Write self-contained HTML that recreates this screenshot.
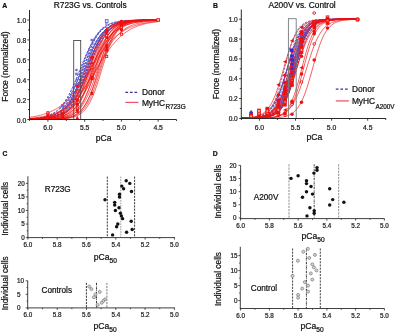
<!DOCTYPE html>
<html><head><meta charset="utf-8"><style>
html,body{margin:0;padding:0;background:#fff;}
svg{display:block;will-change:transform;}
text{font-family:"Liberation Sans", sans-serif;stroke-width:0.22px;}
</style></head><body>
<svg width="400" height="333" viewBox="0 0 400 333">
<rect width="400" height="333" fill="#fff"/>
<g fill="none">
<path d="M29.52,118.87 L30.60,118.80 L31.67,118.72 L32.74,118.64 L33.81,118.54 L34.88,118.43 L35.96,118.31 L37.03,118.18 L38.10,118.03 L39.17,117.87 L40.24,117.68 L41.32,117.48 L42.39,117.26 L43.46,117.01 L44.53,116.74 L45.60,116.43 L46.68,116.10 L47.75,115.73 L48.82,115.32 L49.89,114.86 L50.96,114.36 L52.03,113.82 L53.11,113.21 L54.18,112.55 L55.25,111.82 L56.32,111.02 L57.39,110.15 L58.47,109.20 L59.54,108.17 L60.61,107.04 L61.68,105.82 L62.75,104.50 L63.83,103.08 L64.90,101.56 L65.97,99.92 L67.04,98.18 L68.11,96.32 L69.18,94.36 L70.26,92.28 L71.33,90.11 L72.40,87.84 L73.47,85.47 L74.54,83.03 L75.62,80.51 L76.69,77.94 L77.76,75.31 L78.83,72.66 L79.90,69.99 L80.98,67.32 L82.05,64.66 L83.12,62.04 L84.19,59.45 L85.26,56.92 L86.33,54.46 L87.41,52.09 L88.48,49.80 L89.55,47.60 L90.62,45.51 L91.69,43.53 L92.77,41.65 L93.84,39.89 L94.91,38.23 L95.98,36.69 L97.05,35.25 L98.13,33.91 L99.20,32.67 L100.27,31.53 L101.34,30.48 L102.41,29.51 L103.48,28.63 L104.56,27.82 L105.63,27.08 L106.70,26.40 L107.77,25.79 L108.84,25.23 L109.92,24.72 L110.99,24.26 L112.06,23.85 L113.13,23.47 L114.20,23.12 L115.28,22.82 L116.35,22.54 L117.42,22.28 L118.49,22.06 L119.56,21.85 L120.63,21.66 L121.71,21.50 L122.78,21.35 L123.85,21.21 L124.92,21.09 L125.99,20.98 L127.07,20.88 L128.14,20.79 L129.21,20.71 L130.28,20.64 L131.35,20.57 L132.43,20.52 L133.50,20.46 L134.57,20.42 L135.64,20.37 L136.71,20.34 L137.78,20.30 L138.86,20.27 L139.93,20.24 L141.00,20.22 L142.07,20.20 L143.14,20.18 L144.22,20.16 L145.29,20.14 L146.36,20.13 L147.43,20.12 L148.50,20.10 L149.57,20.09 L150.65,20.08 L151.72,20.07 L152.79,20.07 L153.86,20.06 L154.93,20.05 L156.01,20.05 L157.08,20.04 L158.15,20.04" stroke="#5454c8" stroke-width="0.85" stroke-dasharray="2.2,1.3"/>
<path d="M29.52,119.21 L30.60,119.17 L31.67,119.13 L32.74,119.08 L33.81,119.03 L34.88,118.97 L35.96,118.90 L37.03,118.82 L38.10,118.74 L39.17,118.64 L40.24,118.53 L41.32,118.40 L42.39,118.27 L43.46,118.11 L44.53,117.93 L45.60,117.74 L46.68,117.51 L47.75,117.26 L48.82,116.98 L49.89,116.67 L50.96,116.32 L52.03,115.92 L53.11,115.48 L54.18,114.99 L55.25,114.44 L56.32,113.83 L57.39,113.14 L58.47,112.39 L59.54,111.55 L60.61,110.61 L61.68,109.59 L62.75,108.45 L63.83,107.21 L64.90,105.85 L65.97,104.36 L67.04,102.74 L68.11,100.99 L69.18,99.10 L70.26,97.07 L71.33,94.90 L72.40,92.59 L73.47,90.15 L74.54,87.59 L75.62,84.92 L76.69,82.14 L77.76,79.28 L78.83,76.36 L79.90,73.38 L80.98,70.38 L82.05,67.38 L83.12,64.39 L84.19,61.44 L85.26,58.55 L86.33,55.74 L87.41,53.02 L88.48,50.41 L89.55,47.92 L90.62,45.55 L91.69,43.33 L92.77,41.24 L93.84,39.29 L94.91,37.48 L95.98,35.80 L97.05,34.26 L98.13,32.85 L99.20,31.55 L100.27,30.38 L101.34,29.30 L102.41,28.33 L103.48,27.46 L104.56,26.66 L105.63,25.95 L106.70,25.31 L107.77,24.73 L108.84,24.22 L109.92,23.76 L110.99,23.34 L112.06,22.97 L113.13,22.64 L114.20,22.35 L115.28,22.09 L116.35,21.85 L117.42,21.65 L118.49,21.46 L119.56,21.30 L120.63,21.15 L121.71,21.02 L122.78,20.91 L123.85,20.80 L124.92,20.71 L125.99,20.63 L127.07,20.56 L128.14,20.50 L129.21,20.44 L130.28,20.39 L131.35,20.35 L132.43,20.31 L133.50,20.27 L134.57,20.24 L135.64,20.21 L136.71,20.19 L137.78,20.17 L138.86,20.15 L139.93,20.13 L141.00,20.12 L142.07,20.10 L143.14,20.09 L144.22,20.08 L145.29,20.07 L146.36,20.06 L147.43,20.06 L148.50,20.05 L149.57,20.04 L150.65,20.04 L151.72,20.03 L152.79,20.03 L153.86,20.03 L154.93,20.02 L156.01,20.02 L157.08,20.02 L158.15,20.02" stroke="#5454c8" stroke-width="0.85" stroke-dasharray="2.2,1.3"/>
<path d="M29.52,118.81 L30.60,118.73 L31.67,118.65 L32.74,118.56 L33.81,118.47 L34.88,118.36 L35.96,118.24 L37.03,118.11 L38.10,117.96 L39.17,117.80 L40.24,117.63 L41.32,117.43 L42.39,117.22 L43.46,116.98 L44.53,116.72 L45.60,116.44 L46.68,116.12 L47.75,115.78 L48.82,115.40 L49.89,114.98 L50.96,114.53 L52.03,114.03 L53.11,113.49 L54.18,112.89 L55.25,112.24 L56.32,111.53 L57.39,110.76 L58.47,109.93 L59.54,109.02 L60.61,108.04 L61.68,106.97 L62.75,105.83 L63.83,104.60 L64.90,103.28 L65.97,101.86 L67.04,100.35 L68.11,98.74 L69.18,97.04 L70.26,95.24 L71.33,93.35 L72.40,91.36 L73.47,89.28 L74.54,87.12 L75.62,84.88 L76.69,82.58 L77.76,80.21 L78.83,77.79 L79.90,75.33 L80.98,72.84 L82.05,70.34 L83.12,67.84 L84.19,65.34 L85.26,62.87 L86.33,60.43 L87.41,58.04 L88.48,55.70 L89.55,53.43 L90.62,51.23 L91.69,49.11 L92.77,47.08 L93.84,45.14 L94.91,43.30 L95.98,41.55 L97.05,39.90 L98.13,38.34 L99.20,36.88 L100.27,35.52 L101.34,34.24 L102.41,33.06 L103.48,31.96 L104.56,30.94 L105.63,29.99 L106.70,29.12 L107.77,28.32 L108.84,27.59 L109.92,26.91 L110.99,26.29 L112.06,25.72 L113.13,25.20 L114.20,24.73 L115.28,24.29 L116.35,23.90 L117.42,23.54 L118.49,23.21 L119.56,22.91 L120.63,22.64 L121.71,22.39 L122.78,22.17 L123.85,21.96 L124.92,21.78 L125.99,21.61 L127.07,21.46 L128.14,21.32 L129.21,21.20 L130.28,21.08 L131.35,20.98 L132.43,20.89 L133.50,20.80 L134.57,20.73 L135.64,20.66 L136.71,20.59 L137.78,20.54 L138.86,20.49 L139.93,20.44 L141.00,20.40 L142.07,20.36 L143.14,20.33 L144.22,20.29 L145.29,20.27 L146.36,20.24 L147.43,20.22 L148.50,20.20 L149.57,20.18 L150.65,20.16 L151.72,20.15 L152.79,20.13 L153.86,20.12 L154.93,20.11 L156.01,20.10 L157.08,20.09 L158.15,20.08" stroke="#5454c8" stroke-width="0.85" stroke-dasharray="2.2,1.3"/>
<path d="M29.52,119.33 L30.60,119.31 L31.67,119.28 L32.74,119.25 L33.81,119.22 L34.88,119.18 L35.96,119.13 L37.03,119.08 L38.10,119.03 L39.17,118.96 L40.24,118.89 L41.32,118.81 L42.39,118.72 L43.46,118.61 L44.53,118.49 L45.60,118.35 L46.68,118.20 L47.75,118.03 L48.82,117.83 L49.89,117.60 L50.96,117.35 L52.03,117.07 L53.11,116.75 L54.18,116.38 L55.25,115.97 L56.32,115.51 L57.39,114.99 L58.47,114.41 L59.54,113.76 L60.61,113.03 L61.68,112.21 L62.75,111.30 L63.83,110.29 L64.90,109.17 L65.97,107.92 L67.04,106.55 L68.11,105.05 L69.18,103.40 L70.26,101.60 L71.33,99.65 L72.40,97.55 L73.47,95.28 L74.54,92.87 L75.62,90.31 L76.69,87.61 L77.76,84.78 L78.83,81.85 L79.90,78.82 L80.98,75.72 L82.05,72.57 L83.12,69.40 L84.19,66.23 L85.26,63.09 L86.33,60.00 L87.41,56.99 L88.48,54.08 L89.55,51.28 L90.62,48.61 L91.69,46.08 L92.77,43.70 L93.84,41.47 L94.91,39.40 L95.98,37.49 L97.05,35.72 L98.13,34.11 L99.20,32.63 L100.27,31.29 L101.34,30.07 L102.41,28.98 L103.48,27.99 L104.56,27.10 L105.63,26.30 L106.70,25.59 L107.77,24.95 L108.84,24.39 L109.92,23.88 L110.99,23.43 L112.06,23.03 L113.13,22.68 L114.20,22.37 L115.28,22.09 L116.35,21.84 L117.42,21.63 L118.49,21.43 L119.56,21.26 L120.63,21.11 L121.71,20.98 L122.78,20.87 L123.85,20.76 L124.92,20.67 L125.99,20.59 L127.07,20.52 L128.14,20.46 L129.21,20.40 L130.28,20.36 L131.35,20.31 L132.43,20.28 L133.50,20.24 L134.57,20.21 L135.64,20.19 L136.71,20.17 L137.78,20.15 L138.86,20.13 L139.93,20.11 L141.00,20.10 L142.07,20.09 L143.14,20.08 L144.22,20.07 L145.29,20.06 L146.36,20.05 L147.43,20.05 L148.50,20.04 L149.57,20.04 L150.65,20.03 L151.72,20.03 L152.79,20.02 L153.86,20.02 L154.93,20.02 L156.01,20.02 L157.08,20.01 L158.15,20.01" stroke="#5454c8" stroke-width="0.85" stroke-dasharray="2.2,1.3"/>
<path d="M29.52,119.15 L30.60,119.11 L31.67,119.06 L32.74,119.01 L33.81,118.95 L34.88,118.89 L35.96,118.82 L37.03,118.74 L38.10,118.65 L39.17,118.55 L40.24,118.44 L41.32,118.32 L42.39,118.18 L43.46,118.03 L44.53,117.86 L45.60,117.67 L46.68,117.47 L47.75,117.23 L48.82,116.97 L49.89,116.69 L50.96,116.37 L52.03,116.01 L53.11,115.62 L54.18,115.18 L55.25,114.70 L56.32,114.17 L57.39,113.58 L58.47,112.93 L59.54,112.22 L60.61,111.44 L61.68,110.58 L62.75,109.64 L63.83,108.61 L64.90,107.48 L65.97,106.26 L67.04,104.94 L68.11,103.51 L69.18,101.96 L70.26,100.31 L71.33,98.53 L72.40,96.64 L73.47,94.63 L74.54,92.50 L75.62,90.27 L76.69,87.93 L77.76,85.50 L78.83,82.97 L79.90,80.38 L80.98,77.72 L82.05,75.01 L83.12,72.27 L84.19,69.52 L85.26,66.76 L86.33,64.03 L87.41,61.33 L88.48,58.68 L89.55,56.09 L90.62,53.59 L91.69,51.17 L92.77,48.85 L93.84,46.63 L94.91,44.52 L95.98,42.53 L97.05,40.66 L98.13,38.91 L99.20,37.27 L100.27,35.74 L101.34,34.33 L102.41,33.02 L103.48,31.82 L104.56,30.71 L105.63,29.70 L106.70,28.77 L107.77,27.92 L108.84,27.15 L109.92,26.45 L110.99,25.81 L112.06,25.24 L113.13,24.71 L114.20,24.24 L115.28,23.81 L116.35,23.43 L117.42,23.08 L118.49,22.76 L119.56,22.48 L120.63,22.23 L121.71,22.00 L122.78,21.79 L123.85,21.61 L124.92,21.44 L125.99,21.29 L127.07,21.16 L128.14,21.04 L129.21,20.93 L130.28,20.83 L131.35,20.75 L132.43,20.67 L133.50,20.60 L134.57,20.54 L135.64,20.48 L136.71,20.43 L137.78,20.39 L138.86,20.35 L139.93,20.31 L141.00,20.28 L142.07,20.25 L143.14,20.22 L144.22,20.20 L145.29,20.18 L146.36,20.16 L147.43,20.14 L148.50,20.13 L149.57,20.11 L150.65,20.10 L151.72,20.09 L152.79,20.08 L153.86,20.07 L154.93,20.07 L156.01,20.06 L157.08,20.05 L158.15,20.05" stroke="#5454c8" stroke-width="0.85" stroke-dasharray="2.2,1.3"/>
<path d="M29.52,119.27 L30.60,119.25 L31.67,119.21 L32.74,119.18 L33.81,119.14 L34.88,119.09 L35.96,119.04 L37.03,118.99 L38.10,118.92 L39.17,118.85 L40.24,118.77 L41.32,118.68 L42.39,118.58 L43.46,118.46 L44.53,118.34 L45.60,118.19 L46.68,118.03 L47.75,117.85 L48.82,117.65 L49.89,117.43 L50.96,117.17 L52.03,116.89 L53.11,116.58 L54.18,116.22 L55.25,115.83 L56.32,115.39 L57.39,114.90 L58.47,114.36 L59.54,113.75 L60.61,113.08 L61.68,112.34 L62.75,111.52 L63.83,110.61 L64.90,109.61 L65.97,108.52 L67.04,107.31 L68.11,106.00 L69.18,104.57 L70.26,103.02 L71.33,101.33 L72.40,99.52 L73.47,97.58 L74.54,95.51 L75.62,93.30 L76.69,90.97 L77.76,88.52 L78.83,85.96 L79.90,83.30 L80.98,80.55 L82.05,77.73 L83.12,74.86 L84.19,71.96 L85.26,69.03 L86.33,66.12 L87.41,63.22 L88.48,60.38 L89.55,57.59 L90.62,54.88 L91.69,52.27 L92.77,49.76 L93.84,47.37 L94.91,45.10 L95.98,42.96 L97.05,40.95 L98.13,39.07 L99.20,37.33 L100.27,35.71 L101.34,34.22 L102.41,32.84 L103.48,31.58 L104.56,30.43 L105.63,29.39 L106.70,28.43 L107.77,27.57 L108.84,26.79 L109.92,26.08 L110.99,25.44 L112.06,24.87 L113.13,24.35 L114.20,23.89 L115.28,23.47 L116.35,23.10 L117.42,22.77 L118.49,22.47 L119.56,22.20 L120.63,21.96 L121.71,21.75 L122.78,21.56 L123.85,21.39 L124.92,21.23 L125.99,21.10 L127.07,20.98 L128.14,20.87 L129.21,20.77 L130.28,20.69 L131.35,20.61 L132.43,20.55 L133.50,20.49 L134.57,20.43 L135.64,20.38 L136.71,20.34 L137.78,20.30 L138.86,20.27 L139.93,20.24 L141.00,20.21 L142.07,20.19 L143.14,20.17 L144.22,20.15 L145.29,20.13 L146.36,20.12 L147.43,20.11 L148.50,20.09 L149.57,20.08 L150.65,20.07 L151.72,20.07 L152.79,20.06 L153.86,20.05 L154.93,20.05 L156.01,20.04 L157.08,20.04 L158.15,20.03" stroke="#5454c8" stroke-width="0.85" stroke-dasharray="2.2,1.3"/>
<path d="M29.52,119.10 L30.60,119.05 L31.67,119.00 L32.74,118.95 L33.81,118.89 L34.88,118.82 L35.96,118.75 L37.03,118.67 L38.10,118.58 L39.17,118.48 L40.24,118.37 L41.32,118.24 L42.39,118.11 L43.46,117.96 L44.53,117.79 L45.60,117.61 L46.68,117.40 L47.75,117.18 L48.82,116.93 L49.89,116.66 L50.96,116.35 L52.03,116.02 L53.11,115.65 L54.18,115.25 L55.25,114.81 L56.32,114.32 L57.39,113.78 L58.47,113.20 L59.54,112.55 L60.61,111.85 L61.68,111.08 L62.75,110.24 L63.83,109.33 L64.90,108.34 L65.97,107.27 L67.04,106.10 L68.11,104.85 L69.18,103.50 L70.26,102.06 L71.33,100.51 L72.40,98.86 L73.47,97.10 L74.54,95.24 L75.62,93.28 L76.69,91.22 L77.76,89.07 L78.83,86.83 L79.90,84.50 L80.98,82.11 L82.05,79.65 L83.12,77.14 L84.19,74.59 L85.26,72.01 L86.33,69.43 L87.41,66.84 L88.48,64.27 L89.55,61.73 L90.62,59.23 L91.69,56.78 L92.77,54.41 L93.84,52.10 L94.91,49.88 L95.98,47.75 L97.05,45.72 L98.13,43.78 L99.20,41.95 L100.27,40.22 L101.34,38.59 L102.41,37.07 L103.48,35.65 L104.56,34.33 L105.63,33.10 L106.70,31.96 L107.77,30.90 L108.84,29.93 L109.92,29.04 L110.99,28.22 L112.06,27.47 L113.13,26.78 L114.20,26.15 L115.28,25.58 L116.35,25.05 L117.42,24.58 L118.49,24.14 L119.56,23.75 L120.63,23.39 L121.71,23.07 L122.78,22.77 L123.85,22.50 L124.92,22.26 L125.99,22.04 L127.07,21.85 L128.14,21.67 L129.21,21.50 L130.28,21.36 L131.35,21.22 L132.43,21.10 L133.50,21.00 L134.57,20.90 L135.64,20.81 L136.71,20.73 L137.78,20.66 L138.86,20.59 L139.93,20.54 L141.00,20.48 L142.07,20.44 L143.14,20.39 L144.22,20.35 L145.29,20.32 L146.36,20.29 L147.43,20.26 L148.50,20.23 L149.57,20.21 L150.65,20.19 L151.72,20.17 L152.79,20.15 L153.86,20.14 L154.93,20.13 L156.01,20.11 L157.08,20.10 L158.15,20.09" stroke="#5454c8" stroke-width="0.85" stroke-dasharray="2.2,1.3"/>
<path d="M29.52,119.37 L30.60,119.36 L31.67,119.34 L32.74,119.32 L33.81,119.29 L34.88,119.27 L35.96,119.24 L37.03,119.20 L38.10,119.16 L39.17,119.12 L40.24,119.07 L41.32,119.01 L42.39,118.94 L43.46,118.87 L44.53,118.79 L45.60,118.70 L46.68,118.59 L47.75,118.47 L48.82,118.34 L49.89,118.19 L50.96,118.01 L52.03,117.82 L53.11,117.60 L54.18,117.36 L55.25,117.08 L56.32,116.77 L57.39,116.42 L58.47,116.03 L59.54,115.58 L60.61,115.09 L61.68,114.53 L62.75,113.91 L63.83,113.22 L64.90,112.45 L65.97,111.59 L67.04,110.64 L68.11,109.58 L69.18,108.42 L70.26,107.13 L71.33,105.72 L72.40,104.18 L73.47,102.50 L74.54,100.68 L75.62,98.71 L76.69,96.59 L77.76,94.33 L78.83,91.92 L79.90,89.38 L80.98,86.70 L82.05,83.92 L83.12,81.03 L84.19,78.06 L85.26,75.03 L86.33,71.96 L87.41,68.87 L88.48,65.78 L89.55,62.73 L90.62,59.73 L91.69,56.81 L92.77,53.98 L93.84,51.25 L94.91,48.65 L95.98,46.19 L97.05,43.86 L98.13,41.68 L99.20,39.65 L100.27,37.76 L101.34,36.02 L102.41,34.42 L103.48,32.96 L104.56,31.62 L105.63,30.40 L106.70,29.30 L107.77,28.31 L108.84,27.41 L109.92,26.60 L110.99,25.87 L112.06,25.22 L113.13,24.64 L114.20,24.12 L115.28,23.66 L116.35,23.24 L117.42,22.88 L118.49,22.55 L119.56,22.26 L120.63,22.00 L121.71,21.77 L122.78,21.57 L123.85,21.39 L124.92,21.23 L125.99,21.08 L127.07,20.96 L128.14,20.85 L129.21,20.75 L130.28,20.66 L131.35,20.59 L132.43,20.52 L133.50,20.46 L134.57,20.40 L135.64,20.36 L136.71,20.32 L137.78,20.28 L138.86,20.25 L139.93,20.22 L141.00,20.19 L142.07,20.17 L143.14,20.15 L144.22,20.13 L145.29,20.12 L146.36,20.10 L147.43,20.09 L148.50,20.08 L149.57,20.07 L150.65,20.06 L151.72,20.06 L152.79,20.05 L153.86,20.04 L154.93,20.04 L156.01,20.03 L157.08,20.03 L158.15,20.03" stroke="#5454c8" stroke-width="0.85" stroke-dasharray="2.2,1.3"/>
<path d="M29.52,119.31 L30.60,119.29 L31.67,119.26 L32.74,119.23 L33.81,119.20 L34.88,119.16 L35.96,119.12 L37.03,119.07 L38.10,119.02 L39.17,118.97 L40.24,118.90 L41.32,118.83 L42.39,118.75 L43.46,118.66 L44.53,118.56 L45.60,118.45 L46.68,118.32 L47.75,118.18 L48.82,118.02 L49.89,117.85 L50.96,117.65 L52.03,117.43 L53.11,117.19 L54.18,116.91 L55.25,116.61 L56.32,116.27 L57.39,115.90 L58.47,115.48 L59.54,115.01 L60.61,114.50 L61.68,113.93 L62.75,113.30 L63.83,112.60 L64.90,111.83 L65.97,110.98 L67.04,110.05 L68.11,109.02 L69.18,107.90 L70.26,106.68 L71.33,105.35 L72.40,103.91 L73.47,102.35 L74.54,100.66 L75.62,98.86 L76.69,96.93 L77.76,94.88 L78.83,92.70 L79.90,90.41 L80.98,88.00 L82.05,85.49 L83.12,82.89 L84.19,80.21 L85.26,77.47 L86.33,74.68 L87.41,71.85 L88.48,69.01 L89.55,66.18 L90.62,63.37 L91.69,60.60 L92.77,57.89 L93.84,55.25 L94.91,52.69 L95.98,50.24 L97.05,47.89 L98.13,45.66 L99.20,43.54 L100.27,41.55 L101.34,39.69 L102.41,37.95 L103.48,36.33 L104.56,34.83 L105.63,33.45 L106.70,32.17 L107.77,31.00 L108.84,29.94 L109.92,28.96 L110.99,28.07 L112.06,27.26 L113.13,26.53 L114.20,25.87 L115.28,25.27 L116.35,24.73 L117.42,24.24 L118.49,23.80 L119.56,23.40 L120.63,23.05 L121.71,22.73 L122.78,22.44 L123.85,22.18 L124.92,21.95 L125.99,21.75 L127.07,21.56 L128.14,21.39 L129.21,21.25 L130.28,21.11 L131.35,20.99 L132.43,20.89 L133.50,20.79 L134.57,20.71 L135.64,20.63 L136.71,20.56 L137.78,20.50 L138.86,20.45 L139.93,20.40 L141.00,20.36 L142.07,20.32 L143.14,20.29 L144.22,20.25 L145.29,20.23 L146.36,20.20 L147.43,20.18 L148.50,20.16 L149.57,20.14 L150.65,20.13 L151.72,20.11 L152.79,20.10 L153.86,20.09 L154.93,20.08 L156.01,20.07 L157.08,20.06 L158.15,20.06" stroke="#5454c8" stroke-width="0.85" stroke-dasharray="2.2,1.3"/>
<path d="M29.52,118.97 L30.60,118.92 L31.67,118.85 L32.74,118.79 L33.81,118.71 L34.88,118.63 L35.96,118.54 L37.03,118.44 L38.10,118.32 L39.17,118.20 L40.24,118.07 L41.32,117.92 L42.39,117.75 L43.46,117.57 L44.53,117.37 L45.60,117.15 L46.68,116.91 L47.75,116.64 L48.82,116.35 L49.89,116.02 L50.96,115.67 L52.03,115.28 L53.11,114.85 L54.18,114.39 L55.25,113.88 L56.32,113.32 L57.39,112.71 L58.47,112.04 L59.54,111.31 L60.61,110.52 L61.68,109.67 L62.75,108.74 L63.83,107.73 L64.90,106.65 L65.97,105.48 L67.04,104.22 L68.11,102.87 L69.18,101.43 L70.26,99.89 L71.33,98.25 L72.40,96.52 L73.47,94.69 L74.54,92.77 L75.62,90.76 L76.69,88.65 L77.76,86.47 L78.83,84.21 L79.90,81.88 L80.98,79.50 L82.05,77.07 L83.12,74.60 L84.19,72.11 L85.26,69.60 L86.33,67.10 L87.41,64.61 L88.48,62.15 L89.55,59.72 L90.62,57.34 L91.69,55.02 L92.77,52.77 L93.84,50.60 L94.91,48.51 L95.98,46.50 L97.05,44.59 L98.13,42.77 L99.20,41.05 L100.27,39.43 L101.34,37.90 L102.41,36.47 L103.48,35.13 L104.56,33.88 L105.63,32.72 L106.70,31.65 L107.77,30.65 L108.84,29.73 L109.92,28.88 L110.99,28.10 L112.06,27.38 L113.13,26.72 L114.20,26.12 L115.28,25.56 L116.35,25.06 L117.42,24.59 L118.49,24.17 L119.56,23.79 L120.63,23.44 L121.71,23.12 L122.78,22.83 L123.85,22.56 L124.92,22.32 L125.99,22.11 L127.07,21.91 L128.14,21.73 L129.21,21.57 L130.28,21.42 L131.35,21.28 L132.43,21.16 L133.50,21.05 L134.57,20.95 L135.64,20.86 L136.71,20.78 L137.78,20.71 L138.86,20.64 L139.93,20.58 L141.00,20.52 L142.07,20.47 L143.14,20.43 L144.22,20.39 L145.29,20.35 L146.36,20.32 L147.43,20.29 L148.50,20.26 L149.57,20.23 L150.65,20.21 L151.72,20.19 L152.79,20.17 L153.86,20.16 L154.93,20.14 L156.01,20.13 L157.08,20.12 L158.15,20.10" stroke="#f01010" stroke-width="0.75" opacity="0.85"/>
<path d="M29.52,119.27 L30.60,119.24 L31.67,119.21 L32.74,119.17 L33.81,119.13 L34.88,119.09 L35.96,119.04 L37.03,118.99 L38.10,118.92 L39.17,118.85 L40.24,118.78 L41.32,118.69 L42.39,118.59 L43.46,118.48 L44.53,118.36 L45.60,118.23 L46.68,118.07 L47.75,117.90 L48.82,117.72 L49.89,117.50 L50.96,117.27 L52.03,117.00 L53.11,116.71 L54.18,116.38 L55.25,116.02 L56.32,115.62 L57.39,115.17 L58.47,114.67 L59.54,114.12 L60.61,113.50 L61.68,112.83 L62.75,112.08 L63.83,111.26 L64.90,110.35 L65.97,109.36 L67.04,108.27 L68.11,107.08 L69.18,105.79 L70.26,104.38 L71.33,102.86 L72.40,101.22 L73.47,99.45 L74.54,97.56 L75.62,95.55 L76.69,93.41 L77.76,91.15 L78.83,88.78 L79.90,86.31 L80.98,83.74 L82.05,81.08 L83.12,78.36 L84.19,75.58 L85.26,72.76 L86.33,69.92 L87.41,67.09 L88.48,64.27 L89.55,61.48 L90.62,58.75 L91.69,56.08 L92.77,53.50 L93.84,51.01 L94.91,48.63 L95.98,46.36 L97.05,44.21 L98.13,42.18 L99.20,40.27 L100.27,38.49 L101.34,36.83 L102.41,35.30 L103.48,33.88 L104.56,32.57 L105.63,31.37 L106.70,30.27 L107.77,29.26 L108.84,28.35 L109.92,27.51 L110.99,26.76 L112.06,26.07 L113.13,25.45 L114.20,24.90 L115.28,24.39 L116.35,23.94 L117.42,23.53 L118.49,23.16 L119.56,22.83 L120.63,22.53 L121.71,22.26 L122.78,22.02 L123.85,21.81 L124.92,21.62 L125.99,21.45 L127.07,21.29 L128.14,21.15 L129.21,21.03 L130.28,20.92 L131.35,20.82 L132.43,20.73 L133.50,20.66 L134.57,20.58 L135.64,20.52 L136.71,20.47 L137.78,20.42 L138.86,20.37 L139.93,20.33 L141.00,20.30 L142.07,20.26 L143.14,20.24 L144.22,20.21 L145.29,20.19 L146.36,20.17 L147.43,20.15 L148.50,20.13 L149.57,20.12 L150.65,20.11 L151.72,20.09 L152.79,20.08 L153.86,20.08 L154.93,20.07 L156.01,20.06 L157.08,20.05 L158.15,20.05" stroke="#f01010" stroke-width="0.75" opacity="0.85"/>
<path d="M29.52,119.40 L30.60,119.39 L31.67,119.37 L32.74,119.35 L33.81,119.33 L34.88,119.31 L35.96,119.29 L37.03,119.26 L38.10,119.22 L39.17,119.19 L40.24,119.14 L41.32,119.09 L42.39,119.04 L43.46,118.98 L44.53,118.91 L45.60,118.83 L46.68,118.73 L47.75,118.63 L48.82,118.51 L49.89,118.38 L50.96,118.23 L52.03,118.06 L53.11,117.87 L54.18,117.65 L55.25,117.40 L56.32,117.13 L57.39,116.81 L58.47,116.46 L59.54,116.06 L60.61,115.61 L61.68,115.10 L62.75,114.53 L63.83,113.89 L64.90,113.18 L65.97,112.38 L67.04,111.49 L68.11,110.50 L69.18,109.40 L70.26,108.18 L71.33,106.84 L72.40,105.36 L73.47,103.74 L74.54,101.97 L75.62,100.05 L76.69,97.98 L77.76,95.74 L78.83,93.36 L79.90,90.83 L80.98,88.16 L82.05,85.35 L83.12,82.44 L84.19,79.43 L85.26,76.34 L86.33,73.20 L87.41,70.03 L88.48,66.86 L89.55,63.71 L90.62,60.61 L91.69,57.58 L92.77,54.65 L93.84,51.83 L94.91,49.13 L95.98,46.57 L97.05,44.16 L98.13,41.90 L99.20,39.80 L100.27,37.86 L101.34,36.06 L102.41,34.42 L103.48,32.91 L104.56,31.55 L105.63,30.31 L106.70,29.19 L107.77,28.18 L108.84,27.27 L109.92,26.45 L110.99,25.72 L112.06,25.07 L113.13,24.49 L114.20,23.98 L115.28,23.52 L116.35,23.11 L117.42,22.75 L118.49,22.43 L119.56,22.14 L120.63,21.89 L121.71,21.67 L122.78,21.47 L123.85,21.30 L124.92,21.14 L125.99,21.01 L127.07,20.89 L128.14,20.78 L129.21,20.69 L130.28,20.61 L131.35,20.53 L132.43,20.47 L133.50,20.41 L134.57,20.37 L135.64,20.32 L136.71,20.28 L137.78,20.25 L138.86,20.22 L139.93,20.19 L141.00,20.17 L142.07,20.15 L143.14,20.13 L144.22,20.12 L145.29,20.10 L146.36,20.09 L147.43,20.08 L148.50,20.07 L149.57,20.06 L150.65,20.05 L151.72,20.05 L152.79,20.04 L153.86,20.04 L154.93,20.03 L156.01,20.03 L157.08,20.03 L158.15,20.02" stroke="#f01010" stroke-width="0.75" opacity="0.85"/>
<path d="M29.52,119.23 L30.60,119.20 L31.67,119.16 L32.74,119.12 L33.81,119.08 L34.88,119.03 L35.96,118.98 L37.03,118.92 L38.10,118.86 L39.17,118.78 L40.24,118.70 L41.32,118.61 L42.39,118.51 L43.46,118.40 L44.53,118.28 L45.60,118.14 L46.68,117.99 L47.75,117.82 L48.82,117.63 L49.89,117.43 L50.96,117.20 L52.03,116.94 L53.11,116.66 L54.18,116.35 L55.25,116.01 L56.32,115.62 L57.39,115.20 L58.47,114.74 L59.54,114.23 L60.61,113.67 L61.68,113.05 L62.75,112.37 L63.83,111.62 L64.90,110.81 L65.97,109.92 L67.04,108.94 L68.11,107.89 L69.18,106.74 L70.26,105.49 L71.33,104.15 L72.40,102.70 L73.47,101.15 L74.54,99.48 L75.62,97.71 L76.69,95.83 L77.76,93.83 L78.83,91.74 L79.90,89.53 L80.98,87.24 L82.05,84.85 L83.12,82.39 L84.19,79.85 L85.26,77.27 L86.33,74.64 L87.41,71.98 L88.48,69.31 L89.55,66.64 L90.62,63.99 L91.69,61.37 L92.77,58.80 L93.84,56.29 L94.91,53.85 L95.98,51.49 L97.05,49.22 L98.13,47.06 L99.20,44.99 L100.27,43.03 L101.34,41.19 L102.41,39.45 L103.48,37.82 L104.56,36.31 L105.63,34.89 L106.70,33.58 L107.77,32.37 L108.84,31.25 L109.92,30.22 L110.99,29.28 L112.06,28.41 L113.13,27.62 L114.20,26.90 L115.28,26.24 L116.35,25.64 L117.42,25.10 L118.49,24.60 L119.56,24.15 L120.63,23.74 L121.71,23.38 L122.78,23.04 L123.85,22.74 L124.92,22.47 L125.99,22.22 L127.07,22.00 L128.14,21.80 L129.21,21.62 L130.28,21.46 L131.35,21.31 L132.43,21.18 L133.50,21.06 L134.57,20.95 L135.64,20.86 L136.71,20.77 L137.78,20.69 L138.86,20.62 L139.93,20.56 L141.00,20.50 L142.07,20.45 L143.14,20.41 L144.22,20.36 L145.29,20.33 L146.36,20.29 L147.43,20.26 L148.50,20.24 L149.57,20.21 L150.65,20.19 L151.72,20.17 L152.79,20.15 L153.86,20.14 L154.93,20.12 L156.01,20.11 L157.08,20.10 L158.15,20.09" stroke="#f01010" stroke-width="0.75" opacity="0.85"/>
<path d="M29.52,119.44 L30.60,119.43 L31.67,119.42 L32.74,119.41 L33.81,119.40 L34.88,119.39 L35.96,119.37 L37.03,119.35 L38.10,119.33 L39.17,119.31 L40.24,119.28 L41.32,119.25 L42.39,119.21 L43.46,119.17 L44.53,119.12 L45.60,119.07 L46.68,119.01 L47.75,118.94 L48.82,118.86 L49.89,118.77 L50.96,118.66 L52.03,118.54 L53.11,118.40 L54.18,118.25 L55.25,118.07 L56.32,117.87 L57.39,117.64 L58.47,117.38 L59.54,117.08 L60.61,116.74 L61.68,116.36 L62.75,115.92 L63.83,115.43 L64.90,114.87 L65.97,114.24 L67.04,113.53 L68.11,112.73 L69.18,111.83 L70.26,110.83 L71.33,109.70 L72.40,108.45 L73.47,107.06 L74.54,105.52 L75.62,103.83 L76.69,101.98 L77.76,99.95 L78.83,97.76 L79.90,95.39 L80.98,92.85 L82.05,90.15 L83.12,87.30 L84.19,84.30 L85.26,81.19 L86.33,77.98 L87.41,74.70 L88.48,71.38 L89.55,68.04 L90.62,64.71 L91.69,61.43 L92.77,58.23 L93.84,55.12 L94.91,52.13 L95.98,49.28 L97.05,46.58 L98.13,44.05 L99.20,41.68 L100.27,39.49 L101.34,37.47 L102.41,35.62 L103.48,33.93 L104.56,32.40 L105.63,31.01 L106.70,29.77 L107.77,28.64 L108.84,27.64 L109.92,26.75 L110.99,25.95 L112.06,25.24 L113.13,24.61 L114.20,24.06 L115.28,23.56 L116.35,23.13 L117.42,22.75 L118.49,22.41 L119.56,22.11 L120.63,21.85 L121.71,21.62 L122.78,21.42 L123.85,21.25 L124.92,21.09 L125.99,20.96 L127.07,20.84 L128.14,20.73 L129.21,20.64 L130.28,20.56 L131.35,20.49 L132.43,20.43 L133.50,20.38 L134.57,20.33 L135.64,20.29 L136.71,20.25 L137.78,20.22 L138.86,20.19 L139.93,20.17 L141.00,20.15 L142.07,20.13 L143.14,20.11 L144.22,20.10 L145.29,20.09 L146.36,20.08 L147.43,20.07 L148.50,20.06 L149.57,20.05 L150.65,20.04 L151.72,20.04 L152.79,20.03 L153.86,20.03 L154.93,20.03 L156.01,20.02 L157.08,20.02 L158.15,20.02" stroke="#f01010" stroke-width="0.75" opacity="0.85"/>
<path d="M29.52,119.37 L30.60,119.35 L31.67,119.33 L32.74,119.31 L33.81,119.29 L34.88,119.26 L35.96,119.23 L37.03,119.20 L38.10,119.16 L39.17,119.12 L40.24,119.07 L41.32,119.01 L42.39,118.95 L43.46,118.89 L44.53,118.81 L45.60,118.72 L46.68,118.63 L47.75,118.52 L48.82,118.40 L49.89,118.26 L50.96,118.11 L52.03,117.94 L53.11,117.75 L54.18,117.54 L55.25,117.30 L56.32,117.03 L57.39,116.73 L58.47,116.40 L59.54,116.02 L60.61,115.61 L61.68,115.14 L62.75,114.62 L63.83,114.05 L64.90,113.41 L65.97,112.70 L67.04,111.92 L68.11,111.06 L69.18,110.10 L70.26,109.05 L71.33,107.90 L72.40,106.64 L73.47,105.27 L74.54,103.77 L75.62,102.15 L76.69,100.41 L77.76,98.53 L78.83,96.52 L79.90,94.37 L80.98,92.10 L82.05,89.71 L83.12,87.20 L84.19,84.58 L85.26,81.88 L86.33,79.09 L87.41,76.24 L88.48,73.35 L89.55,70.43 L90.62,67.51 L91.69,64.60 L92.77,61.73 L93.84,58.91 L94.91,56.17 L95.98,53.51 L97.05,50.95 L98.13,48.50 L99.20,46.17 L100.27,43.97 L101.34,41.89 L102.41,39.95 L103.48,38.14 L104.56,36.47 L105.63,34.91 L106.70,33.48 L107.77,32.17 L108.84,30.97 L109.92,29.88 L110.99,28.88 L112.06,27.97 L113.13,27.15 L114.20,26.41 L115.28,25.74 L116.35,25.14 L117.42,24.59 L118.49,24.10 L119.56,23.67 L120.63,23.27 L121.71,22.92 L122.78,22.61 L123.85,22.32 L124.92,22.07 L125.99,21.85 L127.07,21.64 L128.14,21.46 L129.21,21.30 L130.28,21.16 L131.35,21.03 L132.43,20.92 L133.50,20.82 L134.57,20.73 L135.64,20.65 L136.71,20.58 L137.78,20.51 L138.86,20.46 L139.93,20.41 L141.00,20.36 L142.07,20.32 L143.14,20.29 L144.22,20.25 L145.29,20.23 L146.36,20.20 L147.43,20.18 L148.50,20.16 L149.57,20.14 L150.65,20.13 L151.72,20.11 L152.79,20.10 L153.86,20.09 L154.93,20.08 L156.01,20.07 L157.08,20.06 L158.15,20.06" stroke="#f01010" stroke-width="0.75" opacity="0.85"/>
<path d="M29.52,118.93 L30.60,118.88 L31.67,118.82 L32.74,118.75 L33.81,118.68 L34.88,118.61 L35.96,118.52 L37.03,118.43 L38.10,118.33 L39.17,118.22 L40.24,118.10 L41.32,117.97 L42.39,117.83 L43.46,117.67 L44.53,117.50 L45.60,117.32 L46.68,117.12 L47.75,116.90 L48.82,116.66 L49.89,116.39 L50.96,116.11 L52.03,115.80 L53.11,115.46 L54.18,115.10 L55.25,114.70 L56.32,114.27 L57.39,113.80 L58.47,113.29 L59.54,112.74 L60.61,112.15 L61.68,111.51 L62.75,110.81 L63.83,110.07 L64.90,109.26 L65.97,108.40 L67.04,107.47 L68.11,106.48 L69.18,105.42 L70.26,104.29 L71.33,103.08 L72.40,101.80 L73.47,100.45 L74.54,99.01 L75.62,97.50 L76.69,95.90 L77.76,94.23 L78.83,92.49 L79.90,90.66 L80.98,88.77 L82.05,86.81 L83.12,84.79 L84.19,82.72 L85.26,80.59 L86.33,78.43 L87.41,76.22 L88.48,73.99 L89.55,71.75 L90.62,69.49 L91.69,67.24 L92.77,65.00 L93.84,62.77 L94.91,60.58 L95.98,58.42 L97.05,56.30 L98.13,54.24 L99.20,52.23 L100.27,50.29 L101.34,48.42 L102.41,46.61 L103.48,44.88 L104.56,43.23 L105.63,41.65 L106.70,40.16 L107.77,38.74 L108.84,37.40 L109.92,36.13 L110.99,34.95 L112.06,33.83 L113.13,32.79 L114.20,31.81 L115.28,30.90 L116.35,30.05 L117.42,29.26 L118.49,28.53 L119.56,27.84 L120.63,27.21 L121.71,26.63 L122.78,26.09 L123.85,25.59 L124.92,25.13 L125.99,24.71 L127.07,24.32 L128.14,23.96 L129.21,23.63 L130.28,23.32 L131.35,23.05 L132.43,22.79 L133.50,22.55 L134.57,22.34 L135.64,22.14 L136.71,21.96 L137.78,21.79 L138.86,21.64 L139.93,21.50 L141.00,21.37 L142.07,21.25 L143.14,21.15 L144.22,21.05 L145.29,20.96 L146.36,20.88 L147.43,20.80 L148.50,20.73 L149.57,20.67 L150.65,20.61 L151.72,20.56 L152.79,20.51 L153.86,20.47 L154.93,20.43 L156.01,20.39 L157.08,20.36 L158.15,20.32" stroke="#f01010" stroke-width="0.75" opacity="0.85"/>
<path d="M29.52,119.33 L30.60,119.31 L31.67,119.29 L32.74,119.26 L33.81,119.24 L34.88,119.21 L35.96,119.17 L37.03,119.13 L38.10,119.09 L39.17,119.04 L40.24,118.99 L41.32,118.93 L42.39,118.86 L43.46,118.79 L44.53,118.71 L45.60,118.62 L46.68,118.51 L47.75,118.40 L48.82,118.27 L49.89,118.13 L50.96,117.97 L52.03,117.79 L53.11,117.60 L54.18,117.38 L55.25,117.14 L56.32,116.87 L57.39,116.57 L58.47,116.24 L59.54,115.87 L60.61,115.46 L61.68,115.01 L62.75,114.51 L63.83,113.96 L64.90,113.35 L65.97,112.67 L67.04,111.94 L68.11,111.12 L69.18,110.23 L70.26,109.26 L71.33,108.20 L72.40,107.04 L73.47,105.78 L74.54,104.41 L75.62,102.94 L76.69,101.35 L77.76,99.65 L78.83,97.83 L79.90,95.89 L80.98,93.84 L82.05,91.68 L83.12,89.40 L84.19,87.03 L85.26,84.56 L86.33,82.01 L87.41,79.38 L88.48,76.70 L89.55,73.98 L90.62,71.24 L91.69,68.48 L92.77,65.73 L93.84,63.01 L94.91,60.33 L95.98,57.70 L97.05,55.14 L98.13,52.67 L99.20,50.28 L100.27,48.00 L101.34,45.82 L102.41,43.76 L103.48,41.82 L104.56,39.99 L105.63,38.28 L106.70,36.68 L107.77,35.20 L108.84,33.83 L109.92,32.56 L110.99,31.39 L112.06,30.32 L113.13,29.34 L114.20,28.44 L115.28,27.63 L116.35,26.88 L117.42,26.20 L118.49,25.59 L119.56,25.03 L120.63,24.53 L121.71,24.07 L122.78,23.66 L123.85,23.29 L124.92,22.96 L125.99,22.65 L127.07,22.38 L128.14,22.14 L129.21,21.92 L130.28,21.72 L131.35,21.54 L132.43,21.38 L133.50,21.24 L134.57,21.11 L135.64,21.00 L136.71,20.89 L137.78,20.80 L138.86,20.72 L139.93,20.64 L141.00,20.57 L142.07,20.51 L143.14,20.46 L144.22,20.41 L145.29,20.37 L146.36,20.33 L147.43,20.30 L148.50,20.27 L149.57,20.24 L150.65,20.21 L151.72,20.19 L152.79,20.17 L153.86,20.15 L154.93,20.14 L156.01,20.12 L157.08,20.11 L158.15,20.10" stroke="#f01010" stroke-width="0.75" opacity="0.85"/>
<path d="M29.52,119.47 L30.60,119.46 L31.67,119.46 L32.74,119.45 L33.81,119.44 L34.88,119.44 L35.96,119.43 L37.03,119.41 L38.10,119.40 L39.17,119.39 L40.24,119.37 L41.32,119.35 L42.39,119.33 L43.46,119.31 L44.53,119.28 L45.60,119.24 L46.68,119.21 L47.75,119.16 L48.82,119.11 L49.89,119.06 L50.96,118.99 L52.03,118.92 L53.11,118.83 L54.18,118.73 L55.25,118.62 L56.32,118.49 L57.39,118.35 L58.47,118.18 L59.54,117.99 L60.61,117.77 L61.68,117.51 L62.75,117.23 L63.83,116.90 L64.90,116.53 L65.97,116.11 L67.04,115.62 L68.11,115.08 L69.18,114.46 L70.26,113.76 L71.33,112.97 L72.40,112.07 L73.47,111.07 L74.54,109.95 L75.62,108.69 L76.69,107.29 L77.76,105.73 L78.83,104.02 L79.90,102.13 L80.98,100.07 L82.05,97.83 L83.12,95.40 L84.19,92.80 L85.26,90.03 L86.33,87.09 L87.41,84.02 L88.48,80.81 L89.55,77.51 L90.62,74.14 L91.69,70.73 L92.77,67.31 L93.84,63.91 L94.91,60.56 L95.98,57.30 L97.05,54.15 L98.13,51.13 L99.20,48.26 L100.27,45.56 L101.34,43.04 L102.41,40.69 L103.48,38.52 L104.56,36.54 L105.63,34.73 L106.70,33.08 L107.77,31.59 L108.84,30.26 L109.92,29.06 L110.99,27.99 L112.06,27.03 L113.13,26.18 L114.20,25.43 L115.28,24.77 L116.35,24.18 L117.42,23.66 L118.49,23.21 L119.56,22.80 L120.63,22.45 L121.71,22.14 L122.78,21.87 L123.85,21.64 L124.92,21.43 L125.99,21.25 L127.07,21.09 L128.14,20.95 L129.21,20.83 L130.28,20.72 L131.35,20.63 L132.43,20.55 L133.50,20.48 L134.57,20.42 L135.64,20.36 L136.71,20.32 L137.78,20.28 L138.86,20.24 L139.93,20.21 L141.00,20.18 L142.07,20.16 L143.14,20.14 L144.22,20.12 L145.29,20.11 L146.36,20.09 L147.43,20.08 L148.50,20.07 L149.57,20.06 L150.65,20.05 L151.72,20.05 L152.79,20.04 L153.86,20.04 L154.93,20.03 L156.01,20.03 L157.08,20.02 L158.15,20.02" stroke="#f01010" stroke-width="0.75" opacity="0.85"/>
<path d="M29.52,119.42 L30.60,119.41 L31.67,119.40 L32.74,119.39 L33.81,119.37 L34.88,119.36 L35.96,119.34 L37.03,119.32 L38.10,119.29 L39.17,119.27 L40.24,119.24 L41.32,119.20 L42.39,119.16 L43.46,119.12 L44.53,119.07 L45.60,119.02 L46.68,118.96 L47.75,118.89 L48.82,118.81 L49.89,118.72 L50.96,118.62 L52.03,118.51 L53.11,118.38 L54.18,118.24 L55.25,118.08 L56.32,117.90 L57.39,117.70 L58.47,117.47 L59.54,117.22 L60.61,116.93 L61.68,116.61 L62.75,116.25 L63.83,115.85 L64.90,115.40 L65.97,114.90 L67.04,114.34 L68.11,113.71 L69.18,113.02 L70.26,112.24 L71.33,111.39 L72.40,110.44 L73.47,109.39 L74.54,108.24 L75.62,106.98 L76.69,105.59 L77.76,104.08 L78.83,102.44 L79.90,100.66 L80.98,98.75 L82.05,96.69 L83.12,94.50 L84.19,92.17 L85.26,89.71 L86.33,87.13 L87.41,84.43 L88.48,81.64 L89.55,78.77 L90.62,75.83 L91.69,72.85 L92.77,69.85 L93.84,66.84 L94.91,63.86 L95.98,60.92 L97.05,58.04 L98.13,55.24 L99.20,52.54 L100.27,49.95 L101.34,47.49 L102.41,45.15 L103.48,42.94 L104.56,40.88 L105.63,38.95 L106.70,37.17 L107.77,35.52 L108.84,34.00 L109.92,32.61 L110.99,31.34 L112.06,30.18 L113.13,29.12 L114.20,28.17 L115.28,27.31 L116.35,26.53 L117.42,25.83 L118.49,25.20 L119.56,24.64 L120.63,24.13 L121.71,23.68 L122.78,23.27 L123.85,22.91 L124.92,22.59 L125.99,22.30 L127.07,22.04 L128.14,21.82 L129.21,21.61 L130.28,21.43 L131.35,21.27 L132.43,21.13 L133.50,21.00 L134.57,20.89 L135.64,20.79 L136.71,20.70 L137.78,20.62 L138.86,20.55 L139.93,20.49 L141.00,20.43 L142.07,20.38 L143.14,20.34 L144.22,20.30 L145.29,20.27 L146.36,20.24 L147.43,20.21 L148.50,20.19 L149.57,20.16 L150.65,20.15 L151.72,20.13 L152.79,20.11 L153.86,20.10 L154.93,20.09 L156.01,20.08 L157.08,20.07 L158.15,20.06" stroke="#f01010" stroke-width="0.75" opacity="0.85"/>
<path d="M29.52,119.14 L30.60,119.10 L31.67,119.06 L32.74,119.02 L33.81,118.97 L34.88,118.92 L35.96,118.86 L37.03,118.80 L38.10,118.73 L39.17,118.66 L40.24,118.58 L41.32,118.49 L42.39,118.39 L43.46,118.28 L44.53,118.16 L45.60,118.03 L46.68,117.89 L47.75,117.73 L48.82,117.56 L49.89,117.38 L50.96,117.17 L52.03,116.95 L53.11,116.70 L54.18,116.44 L55.25,116.14 L56.32,115.83 L57.39,115.48 L58.47,115.10 L59.54,114.69 L60.61,114.24 L61.68,113.75 L62.75,113.22 L63.83,112.64 L64.90,112.01 L65.97,111.34 L67.04,110.60 L68.11,109.81 L69.18,108.96 L70.26,108.04 L71.33,107.05 L72.40,105.99 L73.47,104.85 L74.54,103.64 L75.62,102.35 L76.69,100.97 L77.76,99.51 L78.83,97.97 L79.90,96.34 L80.98,94.63 L82.05,92.83 L83.12,90.96 L84.19,89.00 L85.26,86.98 L86.33,84.89 L87.41,82.74 L88.48,80.53 L89.55,78.28 L90.62,76.00 L91.69,73.68 L92.77,71.35 L93.84,69.01 L94.91,66.68 L95.98,64.36 L97.05,62.06 L98.13,59.79 L99.20,57.57 L100.27,55.40 L101.34,53.29 L102.41,51.24 L103.48,49.26 L104.56,47.35 L105.63,45.53 L106.70,43.79 L107.77,42.13 L108.84,40.55 L109.92,39.06 L110.99,37.65 L112.06,36.33 L113.13,35.09 L114.20,33.92 L115.28,32.83 L116.35,31.82 L117.42,30.87 L118.49,30.00 L119.56,29.18 L120.63,28.43 L121.71,27.73 L122.78,27.09 L123.85,26.49 L124.92,25.94 L125.99,25.44 L127.07,24.98 L128.14,24.55 L129.21,24.16 L130.28,23.80 L131.35,23.47 L132.43,23.17 L133.50,22.89 L134.57,22.64 L135.64,22.41 L136.71,22.20 L137.78,22.00 L138.86,21.83 L139.93,21.67 L141.00,21.52 L142.07,21.38 L143.14,21.26 L144.22,21.15 L145.29,21.05 L146.36,20.95 L147.43,20.87 L148.50,20.79 L149.57,20.72 L150.65,20.66 L151.72,20.60 L152.79,20.55 L153.86,20.50 L154.93,20.45 L156.01,20.41 L157.08,20.38 L158.15,20.34" stroke="#f01010" stroke-width="0.75" opacity="0.85"/>
<path d="M29.52,119.40 L30.60,119.39 L31.67,119.37 L32.74,119.36 L33.81,119.34 L34.88,119.32 L35.96,119.30 L37.03,119.28 L38.10,119.25 L39.17,119.22 L40.24,119.18 L41.32,119.15 L42.39,119.10 L43.46,119.05 L44.53,119.00 L45.60,118.94 L46.68,118.87 L47.75,118.80 L48.82,118.71 L49.89,118.62 L50.96,118.52 L52.03,118.40 L53.11,118.27 L54.18,118.12 L55.25,117.95 L56.32,117.77 L57.39,117.56 L58.47,117.34 L59.54,117.08 L60.61,116.80 L61.68,116.48 L62.75,116.13 L63.83,115.73 L64.90,115.30 L65.97,114.81 L67.04,114.28 L68.11,113.68 L69.18,113.02 L70.26,112.30 L71.33,111.49 L72.40,110.61 L73.47,109.64 L74.54,108.58 L75.62,107.42 L76.69,106.16 L77.76,104.78 L78.83,103.29 L79.90,101.68 L80.98,99.95 L82.05,98.10 L83.12,96.12 L84.19,94.01 L85.26,91.79 L86.33,89.45 L87.41,87.00 L88.48,84.46 L89.55,81.82 L90.62,79.12 L91.69,76.35 L92.77,73.54 L93.84,70.71 L94.91,67.87 L95.98,65.04 L97.05,62.25 L98.13,59.50 L99.20,56.81 L100.27,54.21 L101.34,51.69 L102.41,49.28 L103.48,46.98 L104.56,44.79 L105.63,42.73 L106.70,40.79 L107.77,38.97 L108.84,37.28 L109.92,35.71 L110.99,34.26 L112.06,32.92 L113.13,31.69 L114.20,30.56 L115.28,29.53 L116.35,28.59 L117.42,27.74 L118.49,26.96 L119.56,26.26 L120.63,25.62 L121.71,25.04 L122.78,24.53 L123.85,24.06 L124.92,23.64 L125.99,23.26 L127.07,22.91 L128.14,22.61 L129.21,22.33 L130.28,22.09 L131.35,21.87 L132.43,21.67 L133.50,21.49 L134.57,21.33 L135.64,21.19 L136.71,21.06 L137.78,20.95 L138.86,20.85 L139.93,20.76 L141.00,20.68 L142.07,20.60 L143.14,20.54 L144.22,20.48 L145.29,20.43 L146.36,20.38 L147.43,20.34 L148.50,20.31 L149.57,20.27 L150.65,20.24 L151.72,20.22 L152.79,20.19 L153.86,20.17 L154.93,20.15 L156.01,20.14 L157.08,20.12 L158.15,20.11" stroke="#f01010" stroke-width="0.75" opacity="0.85"/>
<path d="M29.52,119.48 L30.60,119.48 L31.67,119.48 L32.74,119.47 L33.81,119.47 L34.88,119.46 L35.96,119.46 L37.03,119.45 L38.10,119.44 L39.17,119.44 L40.24,119.43 L41.32,119.41 L42.39,119.40 L43.46,119.39 L44.53,119.37 L45.60,119.35 L46.68,119.33 L47.75,119.30 L48.82,119.27 L49.89,119.24 L50.96,119.20 L52.03,119.15 L53.11,119.10 L54.18,119.04 L55.25,118.97 L56.32,118.89 L57.39,118.80 L58.47,118.69 L59.54,118.57 L60.61,118.43 L61.68,118.27 L62.75,118.09 L63.83,117.88 L64.90,117.64 L65.97,117.36 L67.04,117.05 L68.11,116.69 L69.18,116.28 L70.26,115.81 L71.33,115.27 L72.40,114.66 L73.47,113.97 L74.54,113.18 L75.62,112.30 L76.69,111.30 L77.76,110.17 L78.83,108.91 L79.90,107.50 L80.98,105.93 L82.05,104.19 L83.12,102.27 L84.19,100.17 L85.26,97.87 L86.33,95.39 L87.41,92.72 L88.48,89.88 L89.55,86.86 L90.62,83.70 L91.69,80.40 L92.77,77.01 L93.84,73.55 L94.91,70.05 L95.98,66.54 L97.05,63.07 L98.13,59.66 L99.20,56.35 L100.27,53.16 L101.34,50.12 L102.41,47.25 L103.48,44.55 L104.56,42.03 L105.63,39.71 L106.70,37.57 L107.77,35.62 L108.84,33.86 L109.92,32.26 L110.99,30.82 L112.06,29.53 L113.13,28.39 L114.20,27.36 L115.28,26.46 L116.35,25.66 L117.42,24.95 L118.49,24.33 L119.56,23.78 L120.63,23.30 L121.71,22.88 L122.78,22.51 L123.85,22.19 L124.92,21.90 L125.99,21.66 L127.07,21.44 L128.14,21.26 L129.21,21.09 L130.28,20.95 L131.35,20.83 L132.43,20.72 L133.50,20.62 L134.57,20.54 L135.64,20.47 L136.71,20.41 L137.78,20.36 L138.86,20.31 L139.93,20.27 L141.00,20.23 L142.07,20.20 L143.14,20.18 L144.22,20.15 L145.29,20.13 L146.36,20.12 L147.43,20.10 L148.50,20.09 L149.57,20.08 L150.65,20.07 L151.72,20.06 L152.79,20.05 L153.86,20.04 L154.93,20.04 L156.01,20.03 L157.08,20.03 L158.15,20.02" stroke="#f01010" stroke-width="0.75" opacity="0.85"/>
<path d="M29.52,119.45 L30.60,119.45 L31.67,119.44 L32.74,119.43 L33.81,119.42 L34.88,119.41 L35.96,119.40 L37.03,119.39 L38.10,119.38 L39.17,119.36 L40.24,119.34 L41.32,119.32 L42.39,119.30 L43.46,119.27 L44.53,119.24 L45.60,119.21 L46.68,119.17 L47.75,119.12 L48.82,119.07 L49.89,119.02 L50.96,118.95 L52.03,118.88 L53.11,118.80 L54.18,118.71 L55.25,118.60 L56.32,118.49 L57.39,118.35 L58.47,118.20 L59.54,118.03 L60.61,117.84 L61.68,117.63 L62.75,117.39 L63.83,117.11 L64.90,116.81 L65.97,116.46 L67.04,116.07 L68.11,115.64 L69.18,115.15 L70.26,114.60 L71.33,113.99 L72.40,113.31 L73.47,112.54 L74.54,111.70 L75.62,110.75 L76.69,109.71 L77.76,108.56 L78.83,107.29 L79.90,105.89 L80.98,104.37 L82.05,102.70 L83.12,100.90 L84.19,98.95 L85.26,96.85 L86.33,94.60 L87.41,92.21 L88.48,89.68 L89.55,87.02 L90.62,84.25 L91.69,81.37 L92.77,78.41 L93.84,75.38 L94.91,72.32 L95.98,69.23 L97.05,66.14 L98.13,63.09 L99.20,60.08 L100.27,57.15 L101.34,54.30 L102.41,51.57 L103.48,48.95 L104.56,46.47 L105.63,44.13 L106.70,41.93 L107.77,39.88 L108.84,37.97 L109.92,36.22 L110.99,34.60 L112.06,33.12 L113.13,31.77 L114.20,30.54 L115.28,29.42 L116.35,28.42 L117.42,27.51 L118.49,26.69 L119.56,25.95 L120.63,25.30 L121.71,24.71 L122.78,24.18 L123.85,23.71 L124.92,23.29 L125.99,22.92 L127.07,22.59 L128.14,22.29 L129.21,22.03 L130.28,21.80 L131.35,21.59 L132.43,21.41 L133.50,21.24 L134.57,21.10 L135.64,20.97 L136.71,20.86 L137.78,20.76 L138.86,20.67 L139.93,20.59 L141.00,20.52 L142.07,20.46 L143.14,20.41 L144.22,20.36 L145.29,20.32 L146.36,20.28 L147.43,20.25 L148.50,20.22 L149.57,20.19 L150.65,20.17 L151.72,20.15 L152.79,20.13 L153.86,20.12 L154.93,20.10 L156.01,20.09 L157.08,20.08 L158.15,20.07" stroke="#f01010" stroke-width="0.75" opacity="0.85"/>
<path d="M29.52,119.08 L30.60,119.04 L31.67,119.00 L32.74,118.95 L33.81,118.91 L34.88,118.85 L35.96,118.79 L37.03,118.73 L38.10,118.66 L39.17,118.58 L40.24,118.50 L41.32,118.41 L42.39,118.31 L43.46,118.20 L44.53,118.09 L45.60,117.96 L46.68,117.82 L47.75,117.67 L48.82,117.51 L49.89,117.33 L50.96,117.14 L52.03,116.93 L53.11,116.70 L54.18,116.45 L55.25,116.19 L56.32,115.89 L57.39,115.58 L58.47,115.24 L59.54,114.86 L60.61,114.46 L61.68,114.03 L62.75,113.56 L63.83,113.05 L64.90,112.51 L65.97,111.92 L67.04,111.28 L68.11,110.60 L69.18,109.87 L70.26,109.08 L71.33,108.24 L72.40,107.33 L73.47,106.37 L74.54,105.34 L75.62,104.25 L76.69,103.09 L77.76,101.86 L78.83,100.55 L79.90,99.18 L80.98,97.73 L82.05,96.21 L83.12,94.61 L84.19,92.95 L85.26,91.22 L86.33,89.42 L87.41,87.55 L88.48,85.63 L89.55,83.65 L90.62,81.63 L91.69,79.56 L92.77,77.46 L93.84,75.32 L94.91,73.17 L95.98,71.00 L97.05,68.83 L98.13,66.66 L99.20,64.51 L100.27,62.37 L101.34,60.26 L102.41,58.19 L103.48,56.16 L104.56,54.17 L105.63,52.24 L106.70,50.37 L107.77,48.56 L108.84,46.81 L109.92,45.14 L110.99,43.53 L112.06,42.00 L113.13,40.54 L114.20,39.15 L115.28,37.84 L116.35,36.60 L117.42,35.42 L118.49,34.32 L119.56,33.28 L120.63,32.31 L121.71,31.40 L122.78,30.55 L123.85,29.75 L124.92,29.01 L125.99,28.32 L127.07,27.68 L128.14,27.08 L129.21,26.53 L130.28,26.02 L131.35,25.54 L132.43,25.10 L133.50,24.70 L134.57,24.32 L135.64,23.97 L136.71,23.65 L137.78,23.36 L138.86,23.09 L139.93,22.84 L141.00,22.60 L142.07,22.39 L143.14,22.20 L144.22,22.02 L145.29,21.85 L146.36,21.70 L147.43,21.56 L148.50,21.43 L149.57,21.31 L150.65,21.20 L151.72,21.10 L152.79,21.01 L153.86,20.93 L154.93,20.85 L156.01,20.78 L157.08,20.72 L158.15,20.66" stroke="#f01010" stroke-width="0.75" opacity="0.85"/>
<path d="M29.52,119.47 L30.60,119.47 L31.67,119.46 L32.74,119.46 L33.81,119.45 L34.88,119.44 L35.96,119.43 L37.03,119.43 L38.10,119.42 L39.17,119.40 L40.24,119.39 L41.32,119.38 L42.39,119.36 L43.46,119.34 L44.53,119.32 L45.60,119.29 L46.68,119.27 L47.75,119.23 L48.82,119.20 L49.89,119.16 L50.96,119.11 L52.03,119.06 L53.11,119.00 L54.18,118.93 L55.25,118.85 L56.32,118.77 L57.39,118.67 L58.47,118.55 L59.54,118.43 L60.61,118.28 L61.68,118.12 L62.75,117.94 L63.83,117.73 L64.90,117.49 L65.97,117.22 L67.04,116.92 L68.11,116.58 L69.18,116.19 L70.26,115.76 L71.33,115.27 L72.40,114.73 L73.47,114.11 L74.54,113.42 L75.62,112.65 L76.69,111.79 L77.76,110.84 L78.83,109.77 L79.90,108.59 L80.98,107.29 L82.05,105.86 L83.12,104.29 L84.19,102.57 L85.26,100.70 L86.33,98.68 L87.41,96.50 L88.48,94.16 L89.55,91.68 L90.62,89.05 L91.69,86.29 L92.77,83.41 L93.84,80.43 L94.91,77.36 L95.98,74.24 L97.05,71.07 L98.13,67.90 L99.20,64.74 L100.27,61.62 L101.34,58.57 L102.41,55.60 L103.48,52.74 L104.56,50.00 L105.63,47.40 L106.70,44.94 L107.77,42.63 L108.84,40.48 L109.92,38.48 L110.99,36.64 L112.06,34.94 L113.13,33.39 L114.20,31.98 L115.28,30.70 L116.35,29.54 L117.42,28.50 L118.49,27.56 L119.56,26.71 L120.63,25.96 L121.71,25.28 L122.78,24.68 L123.85,24.14 L124.92,23.66 L125.99,23.24 L127.07,22.86 L128.14,22.53 L129.21,22.23 L130.28,21.97 L131.35,21.74 L132.43,21.53 L133.50,21.35 L134.57,21.19 L135.64,21.05 L136.71,20.93 L137.78,20.82 L138.86,20.72 L139.93,20.63 L141.00,20.56 L142.07,20.49 L143.14,20.43 L144.22,20.38 L145.29,20.34 L146.36,20.30 L147.43,20.26 L148.50,20.23 L149.57,20.20 L150.65,20.18 L151.72,20.16 L152.79,20.14 L153.86,20.12 L154.93,20.11 L156.01,20.09 L157.08,20.08 L158.15,20.07" stroke="#f01010" stroke-width="0.75" opacity="0.85"/>
<path d="M29.52,119.49 L30.60,119.49 L31.67,119.49 L32.74,119.49 L33.81,119.48 L34.88,119.48 L35.96,119.48 L37.03,119.47 L38.10,119.47 L39.17,119.47 L40.24,119.46 L41.32,119.45 L42.39,119.45 L43.46,119.44 L44.53,119.43 L45.60,119.42 L46.68,119.41 L47.75,119.39 L48.82,119.38 L49.89,119.36 L50.96,119.33 L52.03,119.31 L53.11,119.28 L54.18,119.24 L55.25,119.20 L56.32,119.16 L57.39,119.10 L58.47,119.04 L59.54,118.97 L60.61,118.89 L61.68,118.80 L62.75,118.69 L63.83,118.56 L64.90,118.42 L65.97,118.26 L67.04,118.06 L68.11,117.85 L69.18,117.59 L70.26,117.30 L71.33,116.97 L72.40,116.59 L73.47,116.15 L74.54,115.65 L75.62,115.08 L76.69,114.43 L77.76,113.69 L78.83,112.85 L79.90,111.89 L80.98,110.82 L82.05,109.60 L83.12,108.24 L84.19,106.71 L85.26,105.02 L86.33,103.14 L87.41,101.06 L88.48,98.80 L89.55,96.33 L90.62,93.66 L91.69,90.81 L92.77,87.77 L93.84,84.57 L94.91,81.24 L95.98,77.78 L97.05,74.25 L98.13,70.67 L99.20,67.08 L100.27,63.52 L101.34,60.02 L102.41,56.62 L103.48,53.35 L104.56,50.23 L105.63,47.28 L106.70,44.51 L107.77,41.94 L108.84,39.57 L109.92,37.40 L110.99,35.43 L112.06,33.64 L113.13,32.02 L114.20,30.58 L115.28,29.29 L116.35,28.14 L117.42,27.13 L118.49,26.23 L119.56,25.44 L120.63,24.74 L121.71,24.13 L122.78,23.59 L123.85,23.13 L124.92,22.72 L125.99,22.36 L127.07,22.05 L128.14,21.78 L129.21,21.54 L130.28,21.34 L131.35,21.16 L132.43,21.01 L133.50,20.87 L134.57,20.76 L135.64,20.66 L136.71,20.57 L137.78,20.49 L138.86,20.43 L139.93,20.37 L141.00,20.32 L142.07,20.28 L143.14,20.24 L144.22,20.21 L145.29,20.18 L146.36,20.16 L147.43,20.13 L148.50,20.12 L149.57,20.10 L150.65,20.09 L151.72,20.08 L152.79,20.07 L153.86,20.06 L154.93,20.05 L156.01,20.04 L157.08,20.04 L158.15,20.03" stroke="#f01010" stroke-width="0.75" opacity="0.85"/>
<path d="M29.52,119.48 L30.60,119.48 L31.67,119.47 L32.74,119.47 L33.81,119.47 L34.88,119.46 L35.96,119.46 L37.03,119.45 L38.10,119.44 L39.17,119.44 L40.24,119.43 L41.32,119.42 L42.39,119.41 L43.46,119.39 L44.53,119.38 L45.60,119.36 L46.68,119.34 L47.75,119.32 L48.82,119.29 L49.89,119.27 L50.96,119.23 L52.03,119.20 L53.11,119.15 L54.18,119.11 L55.25,119.05 L56.32,118.99 L57.39,118.92 L58.47,118.83 L59.54,118.74 L60.61,118.64 L61.68,118.52 L62.75,118.38 L63.83,118.23 L64.90,118.05 L65.97,117.85 L67.04,117.63 L68.11,117.37 L69.18,117.08 L70.26,116.75 L71.33,116.38 L72.40,115.96 L73.47,115.48 L74.54,114.94 L75.62,114.34 L76.69,113.66 L77.76,112.90 L78.83,112.04 L79.90,111.09 L80.98,110.02 L82.05,108.84 L83.12,107.53 L84.19,106.08 L85.26,104.48 L86.33,102.73 L87.41,100.83 L88.48,98.76 L89.55,96.53 L90.62,94.13 L91.69,91.58 L92.77,88.88 L93.84,86.03 L94.91,83.07 L95.98,79.99 L97.05,76.83 L98.13,73.62 L99.20,70.37 L100.27,67.11 L101.34,63.88 L102.41,60.70 L103.48,57.59 L104.56,54.58 L105.63,51.69 L106.70,48.93 L107.77,46.31 L108.84,43.86 L109.92,41.57 L110.99,39.44 L112.06,37.47 L113.13,35.66 L114.20,34.01 L115.28,32.51 L116.35,31.14 L117.42,29.91 L118.49,28.80 L119.56,27.81 L120.63,26.92 L121.71,26.12 L122.78,25.41 L123.85,24.78 L124.92,24.22 L125.99,23.72 L127.07,23.28 L128.14,22.89 L129.21,22.54 L130.28,22.24 L131.35,21.97 L132.43,21.73 L133.50,21.52 L134.57,21.34 L135.64,21.17 L136.71,21.03 L137.78,20.91 L138.86,20.80 L139.93,20.70 L141.00,20.61 L142.07,20.54 L143.14,20.47 L144.22,20.41 L145.29,20.36 L146.36,20.32 L147.43,20.28 L148.50,20.25 L149.57,20.22 L150.65,20.19 L151.72,20.17 L152.79,20.15 L153.86,20.13 L154.93,20.11 L156.01,20.10 L157.08,20.09 L158.15,20.08" stroke="#f01010" stroke-width="0.75" opacity="0.85"/>
<path d="M29.52,119.49 L30.60,119.49 L31.67,119.49 L32.74,119.48 L33.81,119.48 L34.88,119.48 L35.96,119.48 L37.03,119.47 L38.10,119.47 L39.17,119.46 L40.24,119.46 L41.32,119.45 L42.39,119.44 L43.46,119.43 L44.53,119.42 L45.60,119.41 L46.68,119.40 L47.75,119.39 L48.82,119.37 L49.89,119.35 L50.96,119.33 L52.03,119.30 L53.11,119.27 L54.18,119.24 L55.25,119.20 L56.32,119.16 L57.39,119.11 L58.47,119.05 L59.54,118.99 L60.61,118.91 L61.68,118.82 L62.75,118.73 L63.83,118.61 L64.90,118.48 L65.97,118.33 L67.04,118.16 L68.11,117.97 L69.18,117.75 L70.26,117.50 L71.33,117.21 L72.40,116.88 L73.47,116.50 L74.54,116.07 L75.62,115.59 L76.69,115.04 L77.76,114.41 L78.83,113.71 L79.90,112.91 L80.98,112.01 L82.05,111.00 L83.12,109.86 L84.19,108.59 L85.26,107.18 L86.33,105.62 L87.41,103.89 L88.48,101.99 L89.55,99.92 L90.62,97.66 L91.69,95.23 L92.77,92.61 L93.84,89.83 L94.91,86.88 L95.98,83.80 L97.05,80.59 L98.13,77.28 L99.20,73.90 L100.27,70.49 L101.34,67.07 L102.41,63.67 L103.48,60.33 L104.56,57.08 L105.63,53.93 L106.70,50.93 L107.77,48.07 L108.84,45.38 L109.92,42.87 L110.99,40.53 L112.06,38.38 L113.13,36.40 L114.20,34.60 L115.28,32.97 L116.35,31.50 L117.42,30.17 L118.49,28.98 L119.56,27.92 L120.63,26.97 L121.71,26.13 L122.78,25.38 L123.85,24.72 L124.92,24.14 L125.99,23.63 L127.07,23.18 L128.14,22.78 L129.21,22.43 L130.28,22.12 L131.35,21.86 L132.43,21.62 L133.50,21.42 L134.57,21.24 L135.64,21.08 L136.71,20.94 L137.78,20.82 L138.86,20.72 L139.93,20.62 L141.00,20.54 L142.07,20.48 L143.14,20.41 L144.22,20.36 L145.29,20.31 L146.36,20.27 L147.43,20.24 L148.50,20.21 L149.57,20.18 L150.65,20.16 L151.72,20.14 L152.79,20.12 L153.86,20.10 L154.93,20.09 L156.01,20.08 L157.08,20.07 L158.15,20.06" stroke="#f01010" stroke-width="0.75" opacity="0.85"/>
<path d="M29.52,119.49 L30.60,119.49 L31.67,119.49 L32.74,119.49 L33.81,119.49 L34.88,119.49 L35.96,119.48 L37.03,119.48 L38.10,119.48 L39.17,119.47 L40.24,119.47 L41.32,119.47 L42.39,119.46 L43.46,119.45 L44.53,119.45 L45.60,119.44 L46.68,119.43 L47.75,119.42 L48.82,119.41 L49.89,119.39 L50.96,119.38 L52.03,119.36 L53.11,119.34 L54.18,119.31 L55.25,119.28 L56.32,119.25 L57.39,119.21 L58.47,119.17 L59.54,119.12 L60.61,119.06 L61.68,119.00 L62.75,118.92 L63.83,118.83 L64.90,118.73 L65.97,118.62 L67.04,118.48 L68.11,118.33 L69.18,118.16 L70.26,117.96 L71.33,117.73 L72.40,117.46 L73.47,117.16 L74.54,116.82 L75.62,116.42 L76.69,115.98 L77.76,115.46 L78.83,114.88 L79.90,114.22 L80.98,113.47 L82.05,112.61 L83.12,111.65 L84.19,110.57 L85.26,109.36 L86.33,108.00 L87.41,106.49 L88.48,104.80 L89.55,102.95 L90.62,100.91 L91.69,98.68 L92.77,96.27 L93.84,93.66 L94.91,90.88 L95.98,87.92 L97.05,84.80 L98.13,81.55 L99.20,78.19 L100.27,74.74 L101.34,71.25 L102.41,67.75 L103.48,64.26 L104.56,60.83 L105.63,57.48 L106.70,54.25 L107.77,51.15 L108.84,48.22 L109.92,45.45 L110.99,42.88 L112.06,40.49 L113.13,38.29 L114.20,36.27 L115.28,34.44 L116.35,32.79 L117.42,31.30 L118.49,29.96 L119.56,28.77 L120.63,27.70 L121.71,26.76 L122.78,25.92 L123.85,25.18 L124.92,24.53 L125.99,23.96 L127.07,23.46 L128.14,23.02 L129.21,22.63 L130.28,22.29 L131.35,22.00 L132.43,21.74 L133.50,21.51 L134.57,21.32 L135.64,21.15 L136.71,21.00 L137.78,20.87 L138.86,20.75 L139.93,20.65 L141.00,20.57 L142.07,20.49 L143.14,20.43 L144.22,20.37 L145.29,20.32 L146.36,20.28 L147.43,20.25 L148.50,20.21 L149.57,20.18 L150.65,20.16 L151.72,20.14 L152.79,20.12 L153.86,20.11 L154.93,20.09 L156.01,20.08 L157.08,20.07 L158.15,20.06" stroke="#f01010" stroke-width="0.75" opacity="0.85"/>
<path d="M29.52,118.78 L30.60,118.72 L31.67,118.65 L32.74,118.57 L33.81,118.49 L34.88,118.40 L35.96,118.30 L37.03,118.19 L38.10,118.07 L39.17,117.94 L40.24,117.80 L41.32,117.65 L42.39,117.48 L43.46,117.30 L44.53,117.11 L45.60,116.90 L46.68,116.66 L47.75,116.41 L48.82,116.14 L49.89,115.85 L50.96,115.53 L52.03,115.18 L53.11,114.80 L54.18,114.40 L55.25,113.96 L56.32,113.48 L57.39,112.97 L58.47,112.42 L59.54,111.82 L60.61,111.18 L61.68,110.49 L62.75,109.75 L63.83,108.95 L64.90,108.10 L65.97,107.19 L67.04,106.21 L68.11,105.18 L69.18,104.07 L70.26,102.90 L71.33,101.66 L72.40,100.34 L73.47,98.95 L74.54,97.49 L75.62,95.96 L76.69,94.36 L77.76,92.68 L78.83,90.94 L79.90,89.13 L80.98,87.25 L82.05,85.32 L83.12,83.34 L84.19,81.31 L85.26,79.23 L86.33,77.12 L87.41,74.99 L88.48,72.83 L89.55,70.66 L90.62,68.49 L91.69,66.32 L92.77,64.17 L93.84,62.04 L94.91,59.93 L95.98,57.87 L97.05,55.84 L98.13,53.86 L99.20,51.94 L100.27,50.08 L101.34,48.28 L102.41,46.54 L103.48,44.88 L104.56,43.29 L105.63,41.77 L106.70,40.32 L107.77,38.94 L108.84,37.64 L109.92,36.41 L110.99,35.25 L112.06,34.15 L113.13,33.13 L114.20,32.16 L115.28,31.26 L116.35,30.42 L117.42,29.63 L118.49,28.90 L119.56,28.22 L120.63,27.58 L121.71,26.99 L122.78,26.45 L123.85,25.94 L124.92,25.47 L125.99,25.04 L127.07,24.63 L128.14,24.26 L129.21,23.92 L130.28,23.60 L131.35,23.31 L132.43,23.04 L133.50,22.80 L134.57,22.57 L135.64,22.36 L136.71,22.17 L137.78,21.99 L138.86,21.83 L139.93,21.68 L141.00,21.54 L142.07,21.41 L143.14,21.29 L144.22,21.19 L145.29,21.09 L146.36,21.00 L147.43,20.92 L148.50,20.84 L149.57,20.77 L150.65,20.71 L151.72,20.65 L152.79,20.59 L153.86,20.54 L154.93,20.50 L156.01,20.46 L157.08,20.42 L158.15,20.38" stroke="#f01010" stroke-width="0.75" opacity="0.85"/>
<path d="M29.52,117.30 L30.60,117.15 L31.67,116.99 L32.74,116.82 L33.81,116.64 L34.88,116.45 L35.96,116.24 L37.03,116.02 L38.10,115.79 L39.17,115.55 L40.24,115.28 L41.32,115.00 L42.39,114.70 L43.46,114.39 L44.53,114.05 L45.60,113.70 L46.68,113.32 L47.75,112.92 L48.82,112.49 L49.89,112.04 L50.96,111.57 L52.03,111.06 L53.11,110.53 L54.18,109.96 L55.25,109.37 L56.32,108.74 L57.39,108.08 L58.47,107.38 L59.54,106.65 L60.61,105.88 L61.68,105.07 L62.75,104.22 L63.83,103.33 L64.90,102.40 L65.97,101.43 L67.04,100.42 L68.11,99.36 L69.18,98.26 L70.26,97.12 L71.33,95.93 L72.40,94.70 L73.47,93.43 L74.54,92.12 L75.62,90.77 L76.69,89.37 L77.76,87.94 L78.83,86.48 L79.90,84.98 L80.98,83.45 L82.05,81.90 L83.12,80.31 L84.19,78.71 L85.26,77.08 L86.33,75.44 L87.41,73.78 L88.48,72.12 L89.55,70.45 L90.62,68.78 L91.69,67.11 L92.77,65.45 L93.84,63.80 L94.91,62.16 L95.98,60.54 L97.05,58.93 L98.13,57.35 L99.20,55.80 L100.27,54.28 L101.34,52.78 L102.41,51.32 L103.48,49.90 L104.56,48.52 L105.63,47.17 L106.70,45.86 L107.77,44.60 L108.84,43.38 L109.92,42.20 L110.99,41.06 L112.06,39.97 L113.13,38.92 L114.20,37.91 L115.28,36.94 L116.35,36.02 L117.42,35.14 L118.49,34.30 L119.56,33.49 L120.63,32.73 L121.71,32.00 L122.78,31.31 L123.85,30.65 L124.92,30.03 L125.99,29.44 L127.07,28.88 L128.14,28.36 L129.21,27.86 L130.28,27.38 L131.35,26.94 L132.43,26.52 L133.50,26.12 L134.57,25.74 L135.64,25.39 L136.71,25.06 L137.78,24.75 L138.86,24.45 L139.93,24.17 L141.00,23.91 L142.07,23.67 L143.14,23.44 L144.22,23.22 L145.29,23.02 L146.36,22.83 L147.43,22.65 L148.50,22.48 L149.57,22.33 L150.65,22.18 L151.72,22.04 L152.79,21.91 L153.86,21.79 L154.93,21.67 L156.01,21.57 L157.08,21.47 L158.15,21.37" stroke="#f01010" stroke-width="0.75" opacity="0.85"/>
<path d="M29.52,118.26 L30.60,118.17 L31.67,118.08 L32.74,117.97 L33.81,117.86 L34.88,117.75 L35.96,117.62 L37.03,117.49 L38.10,117.34 L39.17,117.19 L40.24,117.02 L41.32,116.85 L42.39,116.66 L43.46,116.46 L44.53,116.24 L45.60,116.01 L46.68,115.77 L47.75,115.51 L48.82,115.23 L49.89,114.93 L50.96,114.61 L52.03,114.27 L53.11,113.91 L54.18,113.53 L55.25,113.12 L56.32,112.69 L57.39,112.23 L58.47,111.74 L59.54,111.22 L60.61,110.66 L61.68,110.08 L62.75,109.46 L63.83,108.81 L64.90,108.11 L65.97,107.38 L67.04,106.61 L68.11,105.80 L69.18,104.95 L70.26,104.05 L71.33,103.10 L72.40,102.12 L73.47,101.08 L74.54,100.00 L75.62,98.87 L76.69,97.69 L77.76,96.47 L78.83,95.20 L79.90,93.88 L80.98,92.51 L82.05,91.11 L83.12,89.65 L84.19,88.16 L85.26,86.63 L86.33,85.06 L87.41,83.45 L88.48,81.81 L89.55,80.15 L90.62,78.46 L91.69,76.75 L92.77,75.02 L93.84,73.28 L94.91,71.53 L95.98,69.78 L97.05,68.03 L98.13,66.28 L99.20,64.54 L100.27,62.81 L101.34,61.10 L102.41,59.41 L103.48,57.74 L104.56,56.11 L105.63,54.50 L106.70,52.93 L107.77,51.39 L108.84,49.90 L109.92,48.44 L110.99,47.03 L112.06,45.67 L113.13,44.35 L114.20,43.08 L115.28,41.85 L116.35,40.67 L117.42,39.54 L118.49,38.46 L119.56,37.42 L120.63,36.43 L121.71,35.48 L122.78,34.58 L123.85,33.73 L124.92,32.92 L125.99,32.14 L127.07,31.41 L128.14,30.72 L129.21,30.06 L130.28,29.44 L131.35,28.86 L132.43,28.30 L133.50,27.78 L134.57,27.29 L135.64,26.83 L136.71,26.39 L137.78,25.98 L138.86,25.60 L139.93,25.24 L141.00,24.90 L142.07,24.58 L143.14,24.28 L144.22,24.00 L145.29,23.74 L146.36,23.50 L147.43,23.26 L148.50,23.05 L149.57,22.85 L150.65,22.66 L151.72,22.48 L152.79,22.32 L153.86,22.16 L154.93,22.02 L156.01,21.88 L157.08,21.76 L158.15,21.64" stroke="#f01010" stroke-width="0.75" opacity="0.85"/>
<clipPath id="clipA"><rect x="0" y="27" width="200" height="82"/></clipPath>
<g clip-path="url(#clipA)">
<path d="M29.52,118.87 L30.60,118.80 L31.67,118.72 L32.74,118.64 L33.81,118.54 L34.88,118.43 L35.96,118.31 L37.03,118.18 L38.10,118.03 L39.17,117.87 L40.24,117.68 L41.32,117.48 L42.39,117.26 L43.46,117.01 L44.53,116.74 L45.60,116.43 L46.68,116.10 L47.75,115.73 L48.82,115.32 L49.89,114.86 L50.96,114.36 L52.03,113.82 L53.11,113.21 L54.18,112.55 L55.25,111.82 L56.32,111.02 L57.39,110.15 L58.47,109.20 L59.54,108.17 L60.61,107.04 L61.68,105.82 L62.75,104.50 L63.83,103.08 L64.90,101.56 L65.97,99.92 L67.04,98.18 L68.11,96.32 L69.18,94.36 L70.26,92.28 L71.33,90.11 L72.40,87.84 L73.47,85.47 L74.54,83.03 L75.62,80.51 L76.69,77.94 L77.76,75.31 L78.83,72.66 L79.90,69.99 L80.98,67.32 L82.05,64.66 L83.12,62.04 L84.19,59.45 L85.26,56.92 L86.33,54.46 L87.41,52.09 L88.48,49.80 L89.55,47.60 L90.62,45.51 L91.69,43.53 L92.77,41.65 L93.84,39.89 L94.91,38.23 L95.98,36.69 L97.05,35.25 L98.13,33.91 L99.20,32.67 L100.27,31.53 L101.34,30.48 L102.41,29.51 L103.48,28.63 L104.56,27.82 L105.63,27.08 L106.70,26.40 L107.77,25.79 L108.84,25.23 L109.92,24.72 L110.99,24.26 L112.06,23.85 L113.13,23.47 L114.20,23.12 L115.28,22.82 L116.35,22.54 L117.42,22.28 L118.49,22.06 L119.56,21.85 L120.63,21.66 L121.71,21.50 L122.78,21.35 L123.85,21.21 L124.92,21.09 L125.99,20.98 L127.07,20.88 L128.14,20.79 L129.21,20.71 L130.28,20.64 L131.35,20.57 L132.43,20.52 L133.50,20.46 L134.57,20.42 L135.64,20.37 L136.71,20.34 L137.78,20.30 L138.86,20.27 L139.93,20.24 L141.00,20.22 L142.07,20.20 L143.14,20.18 L144.22,20.16 L145.29,20.14 L146.36,20.13 L147.43,20.12 L148.50,20.10 L149.57,20.09 L150.65,20.08 L151.72,20.07 L152.79,20.07 L153.86,20.06 L154.93,20.05 L156.01,20.05 L157.08,20.04 L158.15,20.04" stroke="#5454c8" stroke-width="0.85" stroke-dasharray="2.2,1.3"/>
<path d="M29.52,119.21 L30.60,119.17 L31.67,119.13 L32.74,119.08 L33.81,119.03 L34.88,118.97 L35.96,118.90 L37.03,118.82 L38.10,118.74 L39.17,118.64 L40.24,118.53 L41.32,118.40 L42.39,118.27 L43.46,118.11 L44.53,117.93 L45.60,117.74 L46.68,117.51 L47.75,117.26 L48.82,116.98 L49.89,116.67 L50.96,116.32 L52.03,115.92 L53.11,115.48 L54.18,114.99 L55.25,114.44 L56.32,113.83 L57.39,113.14 L58.47,112.39 L59.54,111.55 L60.61,110.61 L61.68,109.59 L62.75,108.45 L63.83,107.21 L64.90,105.85 L65.97,104.36 L67.04,102.74 L68.11,100.99 L69.18,99.10 L70.26,97.07 L71.33,94.90 L72.40,92.59 L73.47,90.15 L74.54,87.59 L75.62,84.92 L76.69,82.14 L77.76,79.28 L78.83,76.36 L79.90,73.38 L80.98,70.38 L82.05,67.38 L83.12,64.39 L84.19,61.44 L85.26,58.55 L86.33,55.74 L87.41,53.02 L88.48,50.41 L89.55,47.92 L90.62,45.55 L91.69,43.33 L92.77,41.24 L93.84,39.29 L94.91,37.48 L95.98,35.80 L97.05,34.26 L98.13,32.85 L99.20,31.55 L100.27,30.38 L101.34,29.30 L102.41,28.33 L103.48,27.46 L104.56,26.66 L105.63,25.95 L106.70,25.31 L107.77,24.73 L108.84,24.22 L109.92,23.76 L110.99,23.34 L112.06,22.97 L113.13,22.64 L114.20,22.35 L115.28,22.09 L116.35,21.85 L117.42,21.65 L118.49,21.46 L119.56,21.30 L120.63,21.15 L121.71,21.02 L122.78,20.91 L123.85,20.80 L124.92,20.71 L125.99,20.63 L127.07,20.56 L128.14,20.50 L129.21,20.44 L130.28,20.39 L131.35,20.35 L132.43,20.31 L133.50,20.27 L134.57,20.24 L135.64,20.21 L136.71,20.19 L137.78,20.17 L138.86,20.15 L139.93,20.13 L141.00,20.12 L142.07,20.10 L143.14,20.09 L144.22,20.08 L145.29,20.07 L146.36,20.06 L147.43,20.06 L148.50,20.05 L149.57,20.04 L150.65,20.04 L151.72,20.03 L152.79,20.03 L153.86,20.03 L154.93,20.02 L156.01,20.02 L157.08,20.02 L158.15,20.02" stroke="#5454c8" stroke-width="0.85" stroke-dasharray="2.2,1.3"/>
<path d="M29.52,118.81 L30.60,118.73 L31.67,118.65 L32.74,118.56 L33.81,118.47 L34.88,118.36 L35.96,118.24 L37.03,118.11 L38.10,117.96 L39.17,117.80 L40.24,117.63 L41.32,117.43 L42.39,117.22 L43.46,116.98 L44.53,116.72 L45.60,116.44 L46.68,116.12 L47.75,115.78 L48.82,115.40 L49.89,114.98 L50.96,114.53 L52.03,114.03 L53.11,113.49 L54.18,112.89 L55.25,112.24 L56.32,111.53 L57.39,110.76 L58.47,109.93 L59.54,109.02 L60.61,108.04 L61.68,106.97 L62.75,105.83 L63.83,104.60 L64.90,103.28 L65.97,101.86 L67.04,100.35 L68.11,98.74 L69.18,97.04 L70.26,95.24 L71.33,93.35 L72.40,91.36 L73.47,89.28 L74.54,87.12 L75.62,84.88 L76.69,82.58 L77.76,80.21 L78.83,77.79 L79.90,75.33 L80.98,72.84 L82.05,70.34 L83.12,67.84 L84.19,65.34 L85.26,62.87 L86.33,60.43 L87.41,58.04 L88.48,55.70 L89.55,53.43 L90.62,51.23 L91.69,49.11 L92.77,47.08 L93.84,45.14 L94.91,43.30 L95.98,41.55 L97.05,39.90 L98.13,38.34 L99.20,36.88 L100.27,35.52 L101.34,34.24 L102.41,33.06 L103.48,31.96 L104.56,30.94 L105.63,29.99 L106.70,29.12 L107.77,28.32 L108.84,27.59 L109.92,26.91 L110.99,26.29 L112.06,25.72 L113.13,25.20 L114.20,24.73 L115.28,24.29 L116.35,23.90 L117.42,23.54 L118.49,23.21 L119.56,22.91 L120.63,22.64 L121.71,22.39 L122.78,22.17 L123.85,21.96 L124.92,21.78 L125.99,21.61 L127.07,21.46 L128.14,21.32 L129.21,21.20 L130.28,21.08 L131.35,20.98 L132.43,20.89 L133.50,20.80 L134.57,20.73 L135.64,20.66 L136.71,20.59 L137.78,20.54 L138.86,20.49 L139.93,20.44 L141.00,20.40 L142.07,20.36 L143.14,20.33 L144.22,20.29 L145.29,20.27 L146.36,20.24 L147.43,20.22 L148.50,20.20 L149.57,20.18 L150.65,20.16 L151.72,20.15 L152.79,20.13 L153.86,20.12 L154.93,20.11 L156.01,20.10 L157.08,20.09 L158.15,20.08" stroke="#5454c8" stroke-width="0.85" stroke-dasharray="2.2,1.3"/>
<path d="M29.52,119.33 L30.60,119.31 L31.67,119.28 L32.74,119.25 L33.81,119.22 L34.88,119.18 L35.96,119.13 L37.03,119.08 L38.10,119.03 L39.17,118.96 L40.24,118.89 L41.32,118.81 L42.39,118.72 L43.46,118.61 L44.53,118.49 L45.60,118.35 L46.68,118.20 L47.75,118.03 L48.82,117.83 L49.89,117.60 L50.96,117.35 L52.03,117.07 L53.11,116.75 L54.18,116.38 L55.25,115.97 L56.32,115.51 L57.39,114.99 L58.47,114.41 L59.54,113.76 L60.61,113.03 L61.68,112.21 L62.75,111.30 L63.83,110.29 L64.90,109.17 L65.97,107.92 L67.04,106.55 L68.11,105.05 L69.18,103.40 L70.26,101.60 L71.33,99.65 L72.40,97.55 L73.47,95.28 L74.54,92.87 L75.62,90.31 L76.69,87.61 L77.76,84.78 L78.83,81.85 L79.90,78.82 L80.98,75.72 L82.05,72.57 L83.12,69.40 L84.19,66.23 L85.26,63.09 L86.33,60.00 L87.41,56.99 L88.48,54.08 L89.55,51.28 L90.62,48.61 L91.69,46.08 L92.77,43.70 L93.84,41.47 L94.91,39.40 L95.98,37.49 L97.05,35.72 L98.13,34.11 L99.20,32.63 L100.27,31.29 L101.34,30.07 L102.41,28.98 L103.48,27.99 L104.56,27.10 L105.63,26.30 L106.70,25.59 L107.77,24.95 L108.84,24.39 L109.92,23.88 L110.99,23.43 L112.06,23.03 L113.13,22.68 L114.20,22.37 L115.28,22.09 L116.35,21.84 L117.42,21.63 L118.49,21.43 L119.56,21.26 L120.63,21.11 L121.71,20.98 L122.78,20.87 L123.85,20.76 L124.92,20.67 L125.99,20.59 L127.07,20.52 L128.14,20.46 L129.21,20.40 L130.28,20.36 L131.35,20.31 L132.43,20.28 L133.50,20.24 L134.57,20.21 L135.64,20.19 L136.71,20.17 L137.78,20.15 L138.86,20.13 L139.93,20.11 L141.00,20.10 L142.07,20.09 L143.14,20.08 L144.22,20.07 L145.29,20.06 L146.36,20.05 L147.43,20.05 L148.50,20.04 L149.57,20.04 L150.65,20.03 L151.72,20.03 L152.79,20.02 L153.86,20.02 L154.93,20.02 L156.01,20.02 L157.08,20.01 L158.15,20.01" stroke="#5454c8" stroke-width="0.85" stroke-dasharray="2.2,1.3"/>
<path d="M29.52,119.15 L30.60,119.11 L31.67,119.06 L32.74,119.01 L33.81,118.95 L34.88,118.89 L35.96,118.82 L37.03,118.74 L38.10,118.65 L39.17,118.55 L40.24,118.44 L41.32,118.32 L42.39,118.18 L43.46,118.03 L44.53,117.86 L45.60,117.67 L46.68,117.47 L47.75,117.23 L48.82,116.97 L49.89,116.69 L50.96,116.37 L52.03,116.01 L53.11,115.62 L54.18,115.18 L55.25,114.70 L56.32,114.17 L57.39,113.58 L58.47,112.93 L59.54,112.22 L60.61,111.44 L61.68,110.58 L62.75,109.64 L63.83,108.61 L64.90,107.48 L65.97,106.26 L67.04,104.94 L68.11,103.51 L69.18,101.96 L70.26,100.31 L71.33,98.53 L72.40,96.64 L73.47,94.63 L74.54,92.50 L75.62,90.27 L76.69,87.93 L77.76,85.50 L78.83,82.97 L79.90,80.38 L80.98,77.72 L82.05,75.01 L83.12,72.27 L84.19,69.52 L85.26,66.76 L86.33,64.03 L87.41,61.33 L88.48,58.68 L89.55,56.09 L90.62,53.59 L91.69,51.17 L92.77,48.85 L93.84,46.63 L94.91,44.52 L95.98,42.53 L97.05,40.66 L98.13,38.91 L99.20,37.27 L100.27,35.74 L101.34,34.33 L102.41,33.02 L103.48,31.82 L104.56,30.71 L105.63,29.70 L106.70,28.77 L107.77,27.92 L108.84,27.15 L109.92,26.45 L110.99,25.81 L112.06,25.24 L113.13,24.71 L114.20,24.24 L115.28,23.81 L116.35,23.43 L117.42,23.08 L118.49,22.76 L119.56,22.48 L120.63,22.23 L121.71,22.00 L122.78,21.79 L123.85,21.61 L124.92,21.44 L125.99,21.29 L127.07,21.16 L128.14,21.04 L129.21,20.93 L130.28,20.83 L131.35,20.75 L132.43,20.67 L133.50,20.60 L134.57,20.54 L135.64,20.48 L136.71,20.43 L137.78,20.39 L138.86,20.35 L139.93,20.31 L141.00,20.28 L142.07,20.25 L143.14,20.22 L144.22,20.20 L145.29,20.18 L146.36,20.16 L147.43,20.14 L148.50,20.13 L149.57,20.11 L150.65,20.10 L151.72,20.09 L152.79,20.08 L153.86,20.07 L154.93,20.07 L156.01,20.06 L157.08,20.05 L158.15,20.05" stroke="#5454c8" stroke-width="0.85" stroke-dasharray="2.2,1.3"/>
<path d="M29.52,119.27 L30.60,119.25 L31.67,119.21 L32.74,119.18 L33.81,119.14 L34.88,119.09 L35.96,119.04 L37.03,118.99 L38.10,118.92 L39.17,118.85 L40.24,118.77 L41.32,118.68 L42.39,118.58 L43.46,118.46 L44.53,118.34 L45.60,118.19 L46.68,118.03 L47.75,117.85 L48.82,117.65 L49.89,117.43 L50.96,117.17 L52.03,116.89 L53.11,116.58 L54.18,116.22 L55.25,115.83 L56.32,115.39 L57.39,114.90 L58.47,114.36 L59.54,113.75 L60.61,113.08 L61.68,112.34 L62.75,111.52 L63.83,110.61 L64.90,109.61 L65.97,108.52 L67.04,107.31 L68.11,106.00 L69.18,104.57 L70.26,103.02 L71.33,101.33 L72.40,99.52 L73.47,97.58 L74.54,95.51 L75.62,93.30 L76.69,90.97 L77.76,88.52 L78.83,85.96 L79.90,83.30 L80.98,80.55 L82.05,77.73 L83.12,74.86 L84.19,71.96 L85.26,69.03 L86.33,66.12 L87.41,63.22 L88.48,60.38 L89.55,57.59 L90.62,54.88 L91.69,52.27 L92.77,49.76 L93.84,47.37 L94.91,45.10 L95.98,42.96 L97.05,40.95 L98.13,39.07 L99.20,37.33 L100.27,35.71 L101.34,34.22 L102.41,32.84 L103.48,31.58 L104.56,30.43 L105.63,29.39 L106.70,28.43 L107.77,27.57 L108.84,26.79 L109.92,26.08 L110.99,25.44 L112.06,24.87 L113.13,24.35 L114.20,23.89 L115.28,23.47 L116.35,23.10 L117.42,22.77 L118.49,22.47 L119.56,22.20 L120.63,21.96 L121.71,21.75 L122.78,21.56 L123.85,21.39 L124.92,21.23 L125.99,21.10 L127.07,20.98 L128.14,20.87 L129.21,20.77 L130.28,20.69 L131.35,20.61 L132.43,20.55 L133.50,20.49 L134.57,20.43 L135.64,20.38 L136.71,20.34 L137.78,20.30 L138.86,20.27 L139.93,20.24 L141.00,20.21 L142.07,20.19 L143.14,20.17 L144.22,20.15 L145.29,20.13 L146.36,20.12 L147.43,20.11 L148.50,20.09 L149.57,20.08 L150.65,20.07 L151.72,20.07 L152.79,20.06 L153.86,20.05 L154.93,20.05 L156.01,20.04 L157.08,20.04 L158.15,20.03" stroke="#5454c8" stroke-width="0.85" stroke-dasharray="2.2,1.3"/>
<path d="M29.52,119.10 L30.60,119.05 L31.67,119.00 L32.74,118.95 L33.81,118.89 L34.88,118.82 L35.96,118.75 L37.03,118.67 L38.10,118.58 L39.17,118.48 L40.24,118.37 L41.32,118.24 L42.39,118.11 L43.46,117.96 L44.53,117.79 L45.60,117.61 L46.68,117.40 L47.75,117.18 L48.82,116.93 L49.89,116.66 L50.96,116.35 L52.03,116.02 L53.11,115.65 L54.18,115.25 L55.25,114.81 L56.32,114.32 L57.39,113.78 L58.47,113.20 L59.54,112.55 L60.61,111.85 L61.68,111.08 L62.75,110.24 L63.83,109.33 L64.90,108.34 L65.97,107.27 L67.04,106.10 L68.11,104.85 L69.18,103.50 L70.26,102.06 L71.33,100.51 L72.40,98.86 L73.47,97.10 L74.54,95.24 L75.62,93.28 L76.69,91.22 L77.76,89.07 L78.83,86.83 L79.90,84.50 L80.98,82.11 L82.05,79.65 L83.12,77.14 L84.19,74.59 L85.26,72.01 L86.33,69.43 L87.41,66.84 L88.48,64.27 L89.55,61.73 L90.62,59.23 L91.69,56.78 L92.77,54.41 L93.84,52.10 L94.91,49.88 L95.98,47.75 L97.05,45.72 L98.13,43.78 L99.20,41.95 L100.27,40.22 L101.34,38.59 L102.41,37.07 L103.48,35.65 L104.56,34.33 L105.63,33.10 L106.70,31.96 L107.77,30.90 L108.84,29.93 L109.92,29.04 L110.99,28.22 L112.06,27.47 L113.13,26.78 L114.20,26.15 L115.28,25.58 L116.35,25.05 L117.42,24.58 L118.49,24.14 L119.56,23.75 L120.63,23.39 L121.71,23.07 L122.78,22.77 L123.85,22.50 L124.92,22.26 L125.99,22.04 L127.07,21.85 L128.14,21.67 L129.21,21.50 L130.28,21.36 L131.35,21.22 L132.43,21.10 L133.50,21.00 L134.57,20.90 L135.64,20.81 L136.71,20.73 L137.78,20.66 L138.86,20.59 L139.93,20.54 L141.00,20.48 L142.07,20.44 L143.14,20.39 L144.22,20.35 L145.29,20.32 L146.36,20.29 L147.43,20.26 L148.50,20.23 L149.57,20.21 L150.65,20.19 L151.72,20.17 L152.79,20.15 L153.86,20.14 L154.93,20.13 L156.01,20.11 L157.08,20.10 L158.15,20.09" stroke="#5454c8" stroke-width="0.85" stroke-dasharray="2.2,1.3"/>
<path d="M29.52,119.37 L30.60,119.36 L31.67,119.34 L32.74,119.32 L33.81,119.29 L34.88,119.27 L35.96,119.24 L37.03,119.20 L38.10,119.16 L39.17,119.12 L40.24,119.07 L41.32,119.01 L42.39,118.94 L43.46,118.87 L44.53,118.79 L45.60,118.70 L46.68,118.59 L47.75,118.47 L48.82,118.34 L49.89,118.19 L50.96,118.01 L52.03,117.82 L53.11,117.60 L54.18,117.36 L55.25,117.08 L56.32,116.77 L57.39,116.42 L58.47,116.03 L59.54,115.58 L60.61,115.09 L61.68,114.53 L62.75,113.91 L63.83,113.22 L64.90,112.45 L65.97,111.59 L67.04,110.64 L68.11,109.58 L69.18,108.42 L70.26,107.13 L71.33,105.72 L72.40,104.18 L73.47,102.50 L74.54,100.68 L75.62,98.71 L76.69,96.59 L77.76,94.33 L78.83,91.92 L79.90,89.38 L80.98,86.70 L82.05,83.92 L83.12,81.03 L84.19,78.06 L85.26,75.03 L86.33,71.96 L87.41,68.87 L88.48,65.78 L89.55,62.73 L90.62,59.73 L91.69,56.81 L92.77,53.98 L93.84,51.25 L94.91,48.65 L95.98,46.19 L97.05,43.86 L98.13,41.68 L99.20,39.65 L100.27,37.76 L101.34,36.02 L102.41,34.42 L103.48,32.96 L104.56,31.62 L105.63,30.40 L106.70,29.30 L107.77,28.31 L108.84,27.41 L109.92,26.60 L110.99,25.87 L112.06,25.22 L113.13,24.64 L114.20,24.12 L115.28,23.66 L116.35,23.24 L117.42,22.88 L118.49,22.55 L119.56,22.26 L120.63,22.00 L121.71,21.77 L122.78,21.57 L123.85,21.39 L124.92,21.23 L125.99,21.08 L127.07,20.96 L128.14,20.85 L129.21,20.75 L130.28,20.66 L131.35,20.59 L132.43,20.52 L133.50,20.46 L134.57,20.40 L135.64,20.36 L136.71,20.32 L137.78,20.28 L138.86,20.25 L139.93,20.22 L141.00,20.19 L142.07,20.17 L143.14,20.15 L144.22,20.13 L145.29,20.12 L146.36,20.10 L147.43,20.09 L148.50,20.08 L149.57,20.07 L150.65,20.06 L151.72,20.06 L152.79,20.05 L153.86,20.04 L154.93,20.04 L156.01,20.03 L157.08,20.03 L158.15,20.03" stroke="#5454c8" stroke-width="0.85" stroke-dasharray="2.2,1.3"/>
<path d="M29.52,119.31 L30.60,119.29 L31.67,119.26 L32.74,119.23 L33.81,119.20 L34.88,119.16 L35.96,119.12 L37.03,119.07 L38.10,119.02 L39.17,118.97 L40.24,118.90 L41.32,118.83 L42.39,118.75 L43.46,118.66 L44.53,118.56 L45.60,118.45 L46.68,118.32 L47.75,118.18 L48.82,118.02 L49.89,117.85 L50.96,117.65 L52.03,117.43 L53.11,117.19 L54.18,116.91 L55.25,116.61 L56.32,116.27 L57.39,115.90 L58.47,115.48 L59.54,115.01 L60.61,114.50 L61.68,113.93 L62.75,113.30 L63.83,112.60 L64.90,111.83 L65.97,110.98 L67.04,110.05 L68.11,109.02 L69.18,107.90 L70.26,106.68 L71.33,105.35 L72.40,103.91 L73.47,102.35 L74.54,100.66 L75.62,98.86 L76.69,96.93 L77.76,94.88 L78.83,92.70 L79.90,90.41 L80.98,88.00 L82.05,85.49 L83.12,82.89 L84.19,80.21 L85.26,77.47 L86.33,74.68 L87.41,71.85 L88.48,69.01 L89.55,66.18 L90.62,63.37 L91.69,60.60 L92.77,57.89 L93.84,55.25 L94.91,52.69 L95.98,50.24 L97.05,47.89 L98.13,45.66 L99.20,43.54 L100.27,41.55 L101.34,39.69 L102.41,37.95 L103.48,36.33 L104.56,34.83 L105.63,33.45 L106.70,32.17 L107.77,31.00 L108.84,29.94 L109.92,28.96 L110.99,28.07 L112.06,27.26 L113.13,26.53 L114.20,25.87 L115.28,25.27 L116.35,24.73 L117.42,24.24 L118.49,23.80 L119.56,23.40 L120.63,23.05 L121.71,22.73 L122.78,22.44 L123.85,22.18 L124.92,21.95 L125.99,21.75 L127.07,21.56 L128.14,21.39 L129.21,21.25 L130.28,21.11 L131.35,20.99 L132.43,20.89 L133.50,20.79 L134.57,20.71 L135.64,20.63 L136.71,20.56 L137.78,20.50 L138.86,20.45 L139.93,20.40 L141.00,20.36 L142.07,20.32 L143.14,20.29 L144.22,20.25 L145.29,20.23 L146.36,20.20 L147.43,20.18 L148.50,20.16 L149.57,20.14 L150.65,20.13 L151.72,20.11 L152.79,20.10 L153.86,20.09 L154.93,20.08 L156.01,20.07 L157.08,20.06 L158.15,20.06" stroke="#5454c8" stroke-width="0.85" stroke-dasharray="2.2,1.3"/>
</g>
</g>
<rect x="46.40" y="116.01" width="3.00" height="3.00" fill="#ee1111"/>
<rect x="61.10" y="110.15" width="3.00" height="3.00" fill="#ee1111"/>
<rect x="75.80" y="84.71" width="3.00" height="3.00" fill="#ee1111"/>
<rect x="90.50" y="56.28" width="3.00" height="3.00" fill="#ee1111"/>
<rect x="105.20" y="29.86" width="3.00" height="3.00" fill="#ee1111"/>
<rect x="119.90" y="22.78" width="3.00" height="3.00" fill="#ee1111"/>
<circle cx="47.90" cy="117.51" r="1.50" fill="#ee1111"/>
<circle cx="62.60" cy="114.56" r="1.50" fill="#ee1111"/>
<circle cx="77.30" cy="100.40" r="1.50" fill="#ee1111"/>
<circle cx="92.00" cy="57.26" r="1.50" fill="#ee1111"/>
<circle cx="106.70" cy="32.61" r="1.50" fill="#ee1111"/>
<circle cx="121.40" cy="24.99" r="1.50" fill="#ee1111"/>
<path d="M47.90,115.71 L49.60,119.01 L46.20,119.01Z" fill="#ee1111"/>
<path d="M62.60,111.59 L64.30,114.89 L60.90,114.89Z" fill="#ee1111"/>
<path d="M77.30,102.04 L79.00,105.34 L75.60,105.34Z" fill="#ee1111"/>
<path d="M92.00,60.91 L93.70,64.21 L90.30,64.21Z" fill="#ee1111"/>
<path d="M106.70,26.95 L108.40,30.25 L105.00,30.25Z" fill="#ee1111"/>
<path d="M121.40,19.20 L123.10,22.50 L119.70,22.50Z" fill="#ee1111"/>
<circle cx="47.90" cy="116.25" r="1.05" fill="#fff" fill-opacity="0.7" stroke="#ee1111" stroke-width="0.9"/>
<circle cx="62.60" cy="111.74" r="1.05" fill="#fff" fill-opacity="0.7" stroke="#ee1111" stroke-width="0.9"/>
<circle cx="77.30" cy="91.17" r="1.05" fill="#fff" fill-opacity="0.7" stroke="#ee1111" stroke-width="0.9"/>
<circle cx="92.00" cy="70.21" r="1.05" fill="#fff" fill-opacity="0.7" stroke="#ee1111" stroke-width="0.9"/>
<circle cx="106.70" cy="37.30" r="1.05" fill="#fff" fill-opacity="0.7" stroke="#ee1111" stroke-width="0.9"/>
<circle cx="121.40" cy="28.47" r="1.05" fill="#fff" fill-opacity="0.7" stroke="#ee1111" stroke-width="0.9"/>
<rect x="46.85" y="116.46" width="2.10" height="2.10" fill="#fff" fill-opacity="0.7" stroke="#ee1111" stroke-width="0.9"/>
<rect x="61.55" y="116.46" width="2.10" height="2.10" fill="#fff" fill-opacity="0.7" stroke="#ee1111" stroke-width="0.9"/>
<rect x="76.25" y="106.89" width="2.10" height="2.10" fill="#fff" fill-opacity="0.7" stroke="#ee1111" stroke-width="0.9"/>
<rect x="90.95" y="66.18" width="2.10" height="2.10" fill="#fff" fill-opacity="0.7" stroke="#ee1111" stroke-width="0.9"/>
<rect x="105.65" y="34.57" width="2.10" height="2.10" fill="#fff" fill-opacity="0.7" stroke="#ee1111" stroke-width="0.9"/>
<rect x="120.35" y="20.53" width="2.10" height="2.10" fill="#fff" fill-opacity="0.7" stroke="#ee1111" stroke-width="0.9"/>
<path d="M47.90,114.70 L49.60,116.60 L47.90,118.50 L46.20,116.60Z" fill="#ee1111"/>
<path d="M62.60,112.41 L64.30,114.31 L62.60,116.21 L60.90,114.31Z" fill="#ee1111"/>
<path d="M77.30,97.87 L79.00,99.77 L77.30,101.67 L75.60,99.77Z" fill="#ee1111"/>
<path d="M92.00,74.60 L93.70,76.50 L92.00,78.40 L90.30,76.50Z" fill="#ee1111"/>
<path d="M106.70,45.39 L108.40,47.29 L106.70,49.19 L105.00,47.29Z" fill="#ee1111"/>
<path d="M121.40,28.36 L123.10,30.26 L121.40,32.16 L119.70,30.26Z" fill="#ee1111"/>
<path d="M46.10,117.51 L49.40,115.81 L49.40,119.21Z" fill="#ee1111"/>
<path d="M60.80,117.51 L64.10,115.81 L64.10,119.21Z" fill="#ee1111"/>
<path d="M75.50,112.15 L78.80,110.45 L78.80,113.85Z" fill="#ee1111"/>
<path d="M90.20,78.76 L93.50,77.06 L93.50,80.46Z" fill="#ee1111"/>
<path d="M104.90,37.95 L108.20,36.25 L108.20,39.65Z" fill="#ee1111"/>
<path d="M119.60,24.59 L122.90,22.89 L122.90,26.29Z" fill="#ee1111"/>
<rect x="46.40" y="113.81" width="3.00" height="3.00" fill="#ee1111"/>
<rect x="61.10" y="110.55" width="3.00" height="3.00" fill="#ee1111"/>
<rect x="75.80" y="102.93" width="3.00" height="3.00" fill="#ee1111"/>
<rect x="90.50" y="76.87" width="3.00" height="3.00" fill="#ee1111"/>
<rect x="105.20" y="48.67" width="3.00" height="3.00" fill="#ee1111"/>
<rect x="119.90" y="27.17" width="3.00" height="3.00" fill="#ee1111"/>
<circle cx="47.90" cy="117.51" r="1.50" fill="#ee1111"/>
<circle cx="62.60" cy="117.51" r="1.50" fill="#ee1111"/>
<circle cx="77.30" cy="110.20" r="1.50" fill="#ee1111"/>
<circle cx="92.00" cy="93.00" r="1.50" fill="#ee1111"/>
<circle cx="106.70" cy="45.17" r="1.50" fill="#ee1111"/>
<circle cx="121.40" cy="22.25" r="1.50" fill="#ee1111"/>
<path d="M47.90,115.71 L49.60,119.01 L46.20,119.01Z" fill="#ee1111"/>
<path d="M62.60,115.71 L64.30,119.01 L60.90,119.01Z" fill="#ee1111"/>
<path d="M77.30,115.71 L79.00,119.01 L75.60,119.01Z" fill="#ee1111"/>
<path d="M92.00,91.36 L93.70,94.66 L90.30,94.66Z" fill="#ee1111"/>
<path d="M106.70,47.02 L108.40,50.32 L105.00,50.32Z" fill="#ee1111"/>
<path d="M121.40,23.98 L123.10,27.28 L119.70,27.28Z" fill="#ee1111"/>
<circle cx="47.90" cy="113.39" r="1.05" fill="#fff" fill-opacity="0.7" stroke="#ee1111" stroke-width="0.9"/>
<circle cx="62.60" cy="111.34" r="1.05" fill="#fff" fill-opacity="0.7" stroke="#ee1111" stroke-width="0.9"/>
<circle cx="77.30" cy="91.85" r="1.05" fill="#fff" fill-opacity="0.7" stroke="#ee1111" stroke-width="0.9"/>
<circle cx="92.00" cy="64.96" r="1.05" fill="#fff" fill-opacity="0.7" stroke="#ee1111" stroke-width="0.9"/>
<circle cx="106.70" cy="39.68" r="1.05" fill="#fff" fill-opacity="0.7" stroke="#ee1111" stroke-width="0.9"/>
<circle cx="121.40" cy="27.50" r="1.05" fill="#fff" fill-opacity="0.7" stroke="#ee1111" stroke-width="0.9"/>
<rect x="46.85" y="111.71" width="2.10" height="2.10" fill="#fff" fill-opacity="0.7" stroke="#ee1111" stroke-width="0.9"/>
<rect x="61.55" y="104.96" width="2.10" height="2.10" fill="#fff" fill-opacity="0.7" stroke="#ee1111" stroke-width="0.9"/>
<rect x="76.25" y="96.16" width="2.10" height="2.10" fill="#fff" fill-opacity="0.7" stroke="#ee1111" stroke-width="0.9"/>
<rect x="90.95" y="73.90" width="2.10" height="2.10" fill="#fff" fill-opacity="0.7" stroke="#ee1111" stroke-width="0.9"/>
<rect x="105.65" y="55.38" width="2.10" height="2.10" fill="#fff" fill-opacity="0.7" stroke="#ee1111" stroke-width="0.9"/>
<rect x="120.35" y="33.10" width="2.10" height="2.10" fill="#fff" fill-opacity="0.7" stroke="#ee1111" stroke-width="0.9"/>
<circle cx="76.50" cy="70.00" r="1.30" fill="#6a6ae0"/>
<rect x="75.65" y="73.15" width="1.70" height="1.70" fill="#fff" fill-opacity="0.7" stroke="#6a6ae0" stroke-width="0.9"/>
<path d="M76.50,77.40 L78.00,80.30 L75.00,80.30Z" fill="#6a6ae0"/>
<circle cx="76.80" cy="84.00" r="1.30" fill="#6a6ae0"/>
<rect x="61.55" y="105.15" width="1.70" height="1.70" fill="#fff" fill-opacity="0.7" stroke="#6a6ae0" stroke-width="0.9"/>
<circle cx="91.70" cy="40.00" r="1.30" fill="#6a6ae0"/>
<circle cx="106.40" cy="24.00" r="0.85" fill="#fff" fill-opacity="0.7" stroke="#6a6ae0" stroke-width="0.9"/>
<rect x="156.80" y="18.65" width="2.70" height="2.70" fill="#fff" fill-opacity="0.7" stroke="#ee1111" stroke-width="0.9"/>
<rect x="105.35" y="19.65" width="2.70" height="2.70" fill="#fff" fill-opacity="0.7" stroke="#5555dd" stroke-width="0.9"/>
<rect x="73.7" y="40.5" width="7" height="79.0" fill="none" stroke="#4a4a4a" stroke-width="0.9"/>
<line x1="29.50" y1="10.00" x2="29.50" y2="120.00" stroke="#2a2a2a" stroke-width="1" />
<line x1="29.00" y1="119.50" x2="176.50" y2="119.50" stroke="#2a2a2a" stroke-width="1" />
<line x1="27.30" y1="119.50" x2="29.50" y2="119.50" stroke="#2a2a2a" stroke-width="0.9" />
<text x="26.30" y="122.50" font-size="6.8" text-anchor="end" font-weight="normal" fill="#222" stroke="#222" >0.0</text>
<line x1="28.00" y1="109.55" x2="29.50" y2="109.55" stroke="#2a2a2a" stroke-width="0.9" />
<line x1="27.30" y1="99.60" x2="29.50" y2="99.60" stroke="#2a2a2a" stroke-width="0.9" />
<text x="26.30" y="102.60" font-size="6.8" text-anchor="end" font-weight="normal" fill="#222" stroke="#222" >0.2</text>
<line x1="28.00" y1="89.65" x2="29.50" y2="89.65" stroke="#2a2a2a" stroke-width="0.9" />
<line x1="27.30" y1="79.70" x2="29.50" y2="79.70" stroke="#2a2a2a" stroke-width="0.9" />
<text x="26.30" y="82.70" font-size="6.8" text-anchor="end" font-weight="normal" fill="#222" stroke="#222" >0.4</text>
<line x1="28.00" y1="69.75" x2="29.50" y2="69.75" stroke="#2a2a2a" stroke-width="0.9" />
<line x1="27.30" y1="59.80" x2="29.50" y2="59.80" stroke="#2a2a2a" stroke-width="0.9" />
<text x="26.30" y="62.80" font-size="6.8" text-anchor="end" font-weight="normal" fill="#222" stroke="#222" >0.6</text>
<line x1="28.00" y1="49.85" x2="29.50" y2="49.85" stroke="#2a2a2a" stroke-width="0.9" />
<line x1="27.30" y1="39.90" x2="29.50" y2="39.90" stroke="#2a2a2a" stroke-width="0.9" />
<text x="26.30" y="42.90" font-size="6.8" text-anchor="end" font-weight="normal" fill="#222" stroke="#222" >0.8</text>
<line x1="28.00" y1="29.95" x2="29.50" y2="29.95" stroke="#2a2a2a" stroke-width="0.9" />
<line x1="27.30" y1="20.00" x2="29.50" y2="20.00" stroke="#2a2a2a" stroke-width="0.9" />
<text x="26.30" y="23.00" font-size="6.8" text-anchor="end" font-weight="normal" fill="#222" stroke="#222" >1.0</text>
<line x1="29.52" y1="119.50" x2="29.52" y2="121.00" stroke="#2a2a2a" stroke-width="0.9" />
<line x1="47.90" y1="119.50" x2="47.90" y2="121.70" stroke="#2a2a2a" stroke-width="0.9" />
<text x="47.90" y="129.80" font-size="6.8" text-anchor="middle" font-weight="normal" fill="#222" stroke="#222" >6.0</text>
<line x1="66.28" y1="119.50" x2="66.28" y2="121.00" stroke="#2a2a2a" stroke-width="0.9" />
<line x1="84.65" y1="119.50" x2="84.65" y2="121.70" stroke="#2a2a2a" stroke-width="0.9" />
<text x="84.65" y="129.80" font-size="6.8" text-anchor="middle" font-weight="normal" fill="#222" stroke="#222" >5.5</text>
<line x1="103.03" y1="119.50" x2="103.03" y2="121.00" stroke="#2a2a2a" stroke-width="0.9" />
<line x1="121.40" y1="119.50" x2="121.40" y2="121.70" stroke="#2a2a2a" stroke-width="0.9" />
<text x="121.40" y="129.80" font-size="6.8" text-anchor="middle" font-weight="normal" fill="#222" stroke="#222" >5.0</text>
<line x1="139.78" y1="119.50" x2="139.78" y2="121.00" stroke="#2a2a2a" stroke-width="0.9" />
<line x1="158.15" y1="119.50" x2="158.15" y2="121.70" stroke="#2a2a2a" stroke-width="0.9" />
<text x="158.15" y="129.80" font-size="6.8" text-anchor="middle" font-weight="normal" fill="#222" stroke="#222" >4.5</text>
<line x1="176.53" y1="119.50" x2="176.53" y2="121.00" stroke="#2a2a2a" stroke-width="0.9" />
<text x="95.80" y="140.70" font-size="8.6" text-anchor="start" font-weight="normal" fill="#111" stroke="#111" >pCa</text>
<text x="7.90" y="66.50" font-size="8.4" text-anchor="middle" font-weight="normal" fill="#111" stroke="#111" transform="rotate(-90 7.9 66.5)">Force (normalized)</text>
<text x="2.20" y="7.80" font-size="6.8" text-anchor="start" font-weight="bold" fill="#111" stroke="#111" >A</text>
<text x="53.80" y="8.20" font-size="8.35" text-anchor="start" font-weight="normal" fill="#111" stroke="#111" >R723G vs. Controls</text>
<line x1="125.30" y1="92.30" x2="138.40" y2="92.30" stroke="#34349c" stroke-width="1.25" stroke-dasharray="2.7,1.9"/>
<line x1="125.30" y1="102.40" x2="138.40" y2="102.40" stroke="#f0586a" stroke-width="1.3" />
<text x="141.90" y="94.90" font-size="8.4" text-anchor="start" font-weight="normal" fill="#111" stroke="#111" >Donor</text>
<text x="141.90" y="105.90" font-size="8.4" text-anchor="start" font-weight="normal" fill="#111" stroke="#111" >MyHC</text>
<text x="165.40" y="108.90" font-size="6.4" text-anchor="start" font-weight="normal" fill="#111" stroke="#111" >R723G</text>
<g fill="none">
<path d="M241.35,118.29 L242.31,118.27 L243.28,118.26 L244.24,118.24 L245.21,118.21 L246.17,118.19 L247.13,118.16 L248.10,118.13 L249.06,118.09 L250.02,118.05 L250.99,118.00 L251.95,117.94 L252.92,117.88 L253.88,117.81 L254.84,117.73 L255.81,117.63 L256.77,117.53 L257.74,117.41 L258.70,117.28 L259.66,117.12 L260.63,116.95 L261.59,116.75 L262.56,116.53 L263.52,116.28 L264.48,115.99 L265.45,115.67 L266.41,115.30 L267.37,114.89 L268.34,114.43 L269.30,113.91 L270.27,113.32 L271.23,112.66 L272.19,111.92 L273.16,111.09 L274.12,110.17 L275.09,109.14 L276.05,108.00 L277.01,106.73 L277.98,105.33 L278.94,103.80 L279.90,102.12 L280.87,100.28 L281.83,98.29 L282.80,96.14 L283.76,93.84 L284.72,91.37 L285.69,88.76 L286.65,86.01 L287.62,83.13 L288.58,80.15 L289.54,77.07 L290.51,73.93 L291.47,70.75 L292.44,67.54 L293.40,64.35 L294.36,61.20 L295.33,58.11 L296.29,55.10 L297.25,52.20 L298.22,49.42 L299.18,46.78 L300.15,44.28 L301.11,41.94 L302.07,39.76 L303.04,37.73 L304.00,35.87 L304.97,34.15 L305.93,32.58 L306.89,31.16 L307.86,29.87 L308.82,28.70 L309.78,27.65 L310.75,26.70 L311.71,25.85 L312.68,25.09 L313.64,24.42 L314.60,23.82 L315.57,23.28 L316.53,22.80 L317.50,22.38 L318.46,22.01 L319.42,21.68 L320.39,21.38 L321.35,21.12 L322.32,20.89 L323.28,20.69 L324.24,20.51 L325.21,20.36 L326.17,20.22 L327.13,20.10 L328.10,19.99 L329.06,19.89 L330.03,19.81 L330.99,19.74 L331.95,19.67 L332.92,19.61 L333.88,19.56 L334.85,19.52 L335.81,19.48 L336.77,19.45 L337.74,19.42 L338.70,19.39 L339.66,19.37 L340.63,19.35 L341.59,19.33 L342.56,19.31 L343.52,19.30 L344.48,19.29 L345.45,19.28 L346.41,19.27 L347.38,19.26 L348.34,19.25 L349.30,19.25 L350.27,19.24 L351.23,19.24 L352.20,19.23 L353.16,19.23 L354.12,19.22 L355.09,19.22 L356.05,19.22 L357.01,19.22" stroke="#5454c8" stroke-width="0.85" stroke-dasharray="2.2,1.3"/>
<path d="M241.35,118.30 L242.31,118.29 L243.28,118.27 L244.24,118.25 L245.21,118.23 L246.17,118.21 L247.13,118.18 L248.10,118.15 L249.06,118.11 L250.02,118.07 L250.99,118.02 L251.95,117.96 L252.92,117.90 L253.88,117.82 L254.84,117.74 L255.81,117.64 L256.77,117.53 L257.74,117.40 L258.70,117.26 L259.66,117.09 L260.63,116.90 L261.59,116.68 L262.56,116.43 L263.52,116.15 L264.48,115.82 L265.45,115.46 L266.41,115.03 L267.37,114.56 L268.34,114.01 L269.30,113.39 L270.27,112.70 L271.23,111.91 L272.19,111.02 L273.16,110.02 L274.12,108.90 L275.09,107.64 L276.05,106.25 L277.01,104.69 L277.98,102.98 L278.94,101.10 L279.90,99.04 L280.87,96.80 L281.83,94.37 L282.80,91.77 L283.76,89.00 L284.72,86.06 L285.69,82.99 L286.65,79.79 L287.62,76.49 L288.58,73.12 L289.54,69.70 L290.51,66.28 L291.47,62.89 L292.44,59.54 L293.40,56.29 L294.36,53.14 L295.33,50.13 L296.29,47.27 L297.25,44.58 L298.22,42.06 L299.18,39.72 L300.15,37.57 L301.11,35.59 L302.07,33.79 L303.04,32.15 L304.00,30.68 L304.97,29.35 L305.93,28.16 L306.89,27.10 L307.86,26.15 L308.82,25.31 L309.78,24.56 L310.75,23.90 L311.71,23.32 L312.68,22.81 L313.64,22.36 L314.60,21.96 L315.57,21.62 L316.53,21.31 L317.50,21.04 L318.46,20.81 L319.42,20.61 L320.39,20.43 L321.35,20.27 L322.32,20.13 L323.28,20.01 L324.24,19.91 L325.21,19.82 L326.17,19.74 L327.13,19.67 L328.10,19.61 L329.06,19.56 L330.03,19.51 L330.99,19.47 L331.95,19.44 L332.92,19.41 L333.88,19.38 L334.85,19.36 L335.81,19.34 L336.77,19.32 L337.74,19.30 L338.70,19.29 L339.66,19.28 L340.63,19.27 L341.59,19.26 L342.56,19.25 L343.52,19.25 L344.48,19.24 L345.45,19.23 L346.41,19.23 L347.38,19.23 L348.34,19.22 L349.30,19.22 L350.27,19.22 L351.23,19.21 L352.20,19.21 L353.16,19.21 L354.12,19.21 L355.09,19.21 L356.05,19.21 L357.01,19.21" stroke="#5454c8" stroke-width="0.85" stroke-dasharray="2.2,1.3"/>
<path d="M241.35,118.37 L242.31,118.37 L243.28,118.37 L244.24,118.36 L245.21,118.35 L246.17,118.35 L247.13,118.34 L248.10,118.33 L249.06,118.32 L250.02,118.31 L250.99,118.29 L251.95,118.27 L252.92,118.25 L253.88,118.23 L254.84,118.20 L255.81,118.17 L256.77,118.13 L257.74,118.09 L258.70,118.04 L259.66,117.99 L260.63,117.92 L261.59,117.85 L262.56,117.76 L263.52,117.66 L264.48,117.55 L265.45,117.41 L266.41,117.26 L267.37,117.08 L268.34,116.87 L269.30,116.64 L270.27,116.36 L271.23,116.05 L272.19,115.69 L273.16,115.27 L274.12,114.79 L275.09,114.25 L276.05,113.62 L277.01,112.91 L277.98,112.09 L278.94,111.17 L279.90,110.12 L280.87,108.93 L281.83,107.60 L282.80,106.10 L283.76,104.43 L284.72,102.57 L285.69,100.51 L286.65,98.26 L287.62,95.80 L288.58,93.13 L289.54,90.27 L290.51,87.21 L291.47,83.99 L292.44,80.62 L293.40,77.12 L294.36,73.55 L295.33,69.92 L296.29,66.27 L297.25,62.66 L298.22,59.11 L299.18,55.66 L300.15,52.34 L301.11,49.18 L302.07,46.20 L303.04,43.41 L304.00,40.82 L304.97,38.44 L305.93,36.27 L306.89,34.29 L307.86,32.50 L308.82,30.90 L309.78,29.47 L310.75,28.19 L311.71,27.06 L312.68,26.06 L313.64,25.18 L314.60,24.40 L315.57,23.73 L316.53,23.13 L317.50,22.61 L318.46,22.16 L319.42,21.77 L320.39,21.42 L321.35,21.13 L322.32,20.87 L323.28,20.64 L324.24,20.45 L325.21,20.28 L326.17,20.13 L327.13,20.01 L328.10,19.90 L329.06,19.80 L330.03,19.72 L330.99,19.65 L331.95,19.59 L332.92,19.54 L333.88,19.49 L334.85,19.45 L335.81,19.42 L336.77,19.39 L337.74,19.36 L338.70,19.34 L339.66,19.32 L340.63,19.30 L341.59,19.29 L342.56,19.28 L343.52,19.27 L344.48,19.26 L345.45,19.25 L346.41,19.24 L347.38,19.24 L348.34,19.23 L349.30,19.23 L350.27,19.22 L351.23,19.22 L352.20,19.22 L353.16,19.22 L354.12,19.21 L355.09,19.21 L356.05,19.21 L357.01,19.21" stroke="#5454c8" stroke-width="0.85" stroke-dasharray="2.2,1.3"/>
<path d="M241.35,118.38 L242.31,118.37 L243.28,118.37 L244.24,118.36 L245.21,118.35 L246.17,118.35 L247.13,118.34 L248.10,118.33 L249.06,118.32 L250.02,118.30 L250.99,118.29 L251.95,118.27 L252.92,118.24 L253.88,118.22 L254.84,118.19 L255.81,118.15 L256.77,118.11 L257.74,118.06 L258.70,118.00 L259.66,117.94 L260.63,117.86 L261.59,117.77 L262.56,117.66 L263.52,117.54 L264.48,117.39 L265.45,117.23 L266.41,117.03 L267.37,116.80 L268.34,116.54 L269.30,116.23 L270.27,115.88 L271.23,115.46 L272.19,114.98 L273.16,114.43 L274.12,113.79 L275.09,113.06 L276.05,112.21 L277.01,111.24 L277.98,110.14 L278.94,108.88 L279.90,107.45 L280.87,105.84 L281.83,104.02 L282.80,102.00 L283.76,99.75 L284.72,97.28 L285.69,94.57 L286.65,91.64 L287.62,88.49 L288.58,85.13 L289.54,81.60 L290.51,77.93 L291.47,74.15 L292.44,70.30 L293.40,66.44 L294.36,62.61 L295.33,58.85 L296.29,55.20 L297.25,51.71 L298.22,48.40 L299.18,45.29 L300.15,42.41 L301.11,39.75 L302.07,37.33 L303.04,35.13 L304.00,33.16 L304.97,31.39 L305.93,29.82 L306.89,28.43 L307.86,27.21 L308.82,26.13 L309.78,25.19 L310.75,24.37 L311.71,23.66 L312.68,23.04 L313.64,22.50 L314.60,22.04 L315.57,21.64 L316.53,21.30 L317.50,21.00 L318.46,20.74 L319.42,20.52 L320.39,20.34 L321.35,20.17 L322.32,20.03 L323.28,19.91 L324.24,19.81 L325.21,19.72 L326.17,19.65 L327.13,19.58 L328.10,19.53 L329.06,19.48 L330.03,19.44 L330.99,19.41 L331.95,19.38 L332.92,19.35 L333.88,19.33 L334.85,19.31 L335.81,19.29 L336.77,19.28 L337.74,19.27 L338.70,19.26 L339.66,19.25 L340.63,19.24 L341.59,19.24 L342.56,19.23 L343.52,19.23 L344.48,19.22 L345.45,19.22 L346.41,19.22 L347.38,19.21 L348.34,19.21 L349.30,19.21 L350.27,19.21 L351.23,19.21 L352.20,19.21 L353.16,19.21 L354.12,19.20 L355.09,19.20 L356.05,19.20 L357.01,19.20" stroke="#5454c8" stroke-width="0.85" stroke-dasharray="2.2,1.3"/>
<path d="M241.35,118.25 L242.31,118.23 L243.28,118.21 L244.24,118.18 L245.21,118.14 L246.17,118.11 L247.13,118.06 L248.10,118.01 L249.06,117.96 L250.02,117.89 L250.99,117.82 L251.95,117.73 L252.92,117.64 L253.88,117.53 L254.84,117.40 L255.81,117.25 L256.77,117.09 L257.74,116.90 L258.70,116.68 L259.66,116.43 L260.63,116.15 L261.59,115.83 L262.56,115.46 L263.52,115.04 L264.48,114.57 L265.45,114.03 L266.41,113.42 L267.37,112.73 L268.34,111.96 L269.30,111.08 L270.27,110.09 L271.23,108.99 L272.19,107.75 L273.16,106.38 L274.12,104.85 L275.09,103.17 L276.05,101.31 L277.01,99.29 L277.98,97.08 L278.94,94.70 L279.90,92.14 L280.87,89.41 L281.83,86.52 L282.80,83.48 L283.76,80.32 L284.72,77.06 L285.69,73.72 L286.65,70.33 L287.62,66.93 L288.58,63.55 L289.54,60.22 L290.51,56.97 L291.47,53.82 L292.44,50.79 L293.40,47.92 L294.36,45.20 L295.33,42.66 L296.29,40.29 L297.25,38.11 L298.22,36.10 L299.18,34.26 L300.15,32.59 L301.11,31.08 L302.07,29.72 L303.04,28.50 L304.00,27.41 L304.97,26.43 L305.93,25.56 L306.89,24.79 L307.86,24.11 L308.82,23.51 L309.78,22.98 L310.75,22.51 L311.71,22.10 L312.68,21.74 L313.64,21.42 L314.60,21.14 L315.57,20.90 L316.53,20.68 L317.50,20.50 L318.46,20.33 L319.42,20.19 L320.39,20.06 L321.35,19.95 L322.32,19.86 L323.28,19.77 L324.24,19.70 L325.21,19.64 L326.17,19.58 L327.13,19.53 L328.10,19.49 L329.06,19.45 L330.03,19.42 L330.99,19.39 L331.95,19.37 L332.92,19.35 L333.88,19.33 L334.85,19.31 L335.81,19.30 L336.77,19.28 L337.74,19.27 L338.70,19.26 L339.66,19.26 L340.63,19.25 L341.59,19.24 L342.56,19.24 L343.52,19.23 L344.48,19.23 L345.45,19.22 L346.41,19.22 L347.38,19.22 L348.34,19.22 L349.30,19.21 L350.27,19.21 L351.23,19.21 L352.20,19.21 L353.16,19.21 L354.12,19.21 L355.09,19.21 L356.05,19.21 L357.01,19.20" stroke="#5454c8" stroke-width="0.85" stroke-dasharray="2.2,1.3"/>
<path d="M241.35,118.37 L242.31,118.36 L243.28,118.36 L244.24,118.35 L245.21,118.34 L246.17,118.33 L247.13,118.32 L248.10,118.31 L249.06,118.30 L250.02,118.28 L250.99,118.26 L251.95,118.24 L252.92,118.21 L253.88,118.18 L254.84,118.15 L255.81,118.11 L256.77,118.07 L257.74,118.01 L258.70,117.95 L259.66,117.88 L260.63,117.80 L261.59,117.71 L262.56,117.60 L263.52,117.47 L264.48,117.33 L265.45,117.16 L266.41,116.97 L267.37,116.75 L268.34,116.50 L269.30,116.21 L270.27,115.87 L271.23,115.48 L272.19,115.04 L273.16,114.53 L274.12,113.95 L275.09,113.29 L276.05,112.54 L277.01,111.68 L277.98,110.70 L278.94,109.60 L279.90,108.35 L280.87,106.96 L281.83,105.39 L282.80,103.65 L283.76,101.72 L284.72,99.60 L285.69,97.27 L286.65,94.74 L287.62,92.01 L288.58,89.09 L289.54,85.99 L290.51,82.73 L291.47,79.33 L292.44,75.82 L293.40,72.24 L294.36,68.63 L295.33,65.01 L296.29,61.44 L297.25,57.94 L298.22,54.55 L299.18,51.31 L300.15,48.22 L301.11,45.32 L302.07,42.60 L303.04,40.09 L304.00,37.79 L304.97,35.68 L305.93,33.77 L306.89,32.05 L307.86,30.50 L308.82,29.12 L309.78,27.89 L310.75,26.80 L311.71,25.84 L312.68,24.99 L313.64,24.24 L314.60,23.59 L315.57,23.01 L316.53,22.51 L317.50,22.08 L318.46,21.70 L319.42,21.36 L320.39,21.08 L321.35,20.82 L322.32,20.61 L323.28,20.42 L324.24,20.25 L325.21,20.11 L326.17,19.99 L327.13,19.88 L328.10,19.79 L329.06,19.71 L330.03,19.64 L330.99,19.58 L331.95,19.53 L332.92,19.49 L333.88,19.45 L334.85,19.41 L335.81,19.38 L336.77,19.36 L337.74,19.34 L338.70,19.32 L339.66,19.30 L340.63,19.29 L341.59,19.28 L342.56,19.27 L343.52,19.26 L344.48,19.25 L345.45,19.24 L346.41,19.24 L347.38,19.23 L348.34,19.23 L349.30,19.22 L350.27,19.22 L351.23,19.22 L352.20,19.22 L353.16,19.21 L354.12,19.21 L355.09,19.21 L356.05,19.21 L357.01,19.21" stroke="#5454c8" stroke-width="0.85" stroke-dasharray="2.2,1.3"/>
<path d="M241.35,118.38 L242.31,118.38 L243.28,118.38 L244.24,118.37 L245.21,118.37 L246.17,118.36 L247.13,118.36 L248.10,118.35 L249.06,118.34 L250.02,118.33 L250.99,118.32 L251.95,118.30 L252.92,118.29 L253.88,118.27 L254.84,118.25 L255.81,118.22 L256.77,118.19 L257.74,118.16 L258.70,118.12 L259.66,118.07 L260.63,118.01 L261.59,117.95 L262.56,117.87 L263.52,117.79 L264.48,117.68 L265.45,117.57 L266.41,117.43 L267.37,117.27 L268.34,117.08 L269.30,116.86 L270.27,116.61 L271.23,116.31 L272.19,115.97 L273.16,115.58 L274.12,115.12 L275.09,114.59 L276.05,113.98 L277.01,113.28 L277.98,112.47 L278.94,111.54 L279.90,110.49 L280.87,109.28 L281.83,107.92 L282.80,106.37 L283.76,104.64 L284.72,102.70 L285.69,100.54 L286.65,98.16 L287.62,95.55 L288.58,92.71 L289.54,89.65 L290.51,86.39 L291.47,82.94 L292.44,79.34 L293.40,75.62 L294.36,71.81 L295.33,67.98 L296.29,64.15 L297.25,60.37 L298.22,56.70 L299.18,53.16 L300.15,49.79 L301.11,46.61 L302.07,43.65 L303.04,40.91 L304.00,38.39 L304.97,36.11 L305.93,34.04 L306.89,32.19 L307.86,30.54 L308.82,29.08 L309.78,27.78 L310.75,26.64 L311.71,25.64 L312.68,24.77 L313.64,24.01 L314.60,23.35 L315.57,22.77 L316.53,22.28 L317.50,21.85 L318.46,21.48 L319.42,21.16 L320.39,20.88 L321.35,20.64 L322.32,20.44 L323.28,20.26 L324.24,20.11 L325.21,19.98 L326.17,19.87 L327.13,19.77 L328.10,19.69 L329.06,19.62 L330.03,19.56 L330.99,19.51 L331.95,19.47 L332.92,19.43 L333.88,19.39 L334.85,19.37 L335.81,19.34 L336.77,19.32 L337.74,19.30 L338.70,19.29 L339.66,19.28 L340.63,19.27 L341.59,19.26 L342.56,19.25 L343.52,19.24 L344.48,19.24 L345.45,19.23 L346.41,19.23 L347.38,19.22 L348.34,19.22 L349.30,19.22 L350.27,19.21 L351.23,19.21 L352.20,19.21 L353.16,19.21 L354.12,19.21 L355.09,19.21 L356.05,19.21 L357.01,19.20" stroke="#5454c8" stroke-width="0.85" stroke-dasharray="2.2,1.3"/>
<path d="M241.35,118.36 L242.31,118.35 L243.28,118.35 L244.24,118.34 L245.21,118.33 L246.17,118.32 L247.13,118.31 L248.10,118.29 L249.06,118.28 L250.02,118.26 L250.99,118.24 L251.95,118.22 L252.92,118.19 L253.88,118.16 L254.84,118.12 L255.81,118.08 L256.77,118.04 L257.74,117.98 L258.70,117.92 L259.66,117.85 L260.63,117.77 L261.59,117.68 L262.56,117.58 L263.52,117.46 L264.48,117.32 L265.45,117.17 L266.41,116.99 L267.37,116.79 L268.34,116.56 L269.30,116.30 L270.27,116.00 L271.23,115.66 L272.19,115.27 L273.16,114.83 L274.12,114.33 L275.09,113.76 L276.05,113.12 L277.01,112.40 L277.98,111.58 L278.94,110.67 L279.90,109.64 L280.87,108.49 L281.83,107.20 L282.80,105.78 L283.76,104.20 L284.72,102.46 L285.69,100.55 L286.65,98.47 L287.62,96.22 L288.58,93.78 L289.54,91.18 L290.51,88.41 L291.47,85.48 L292.44,82.42 L293.40,79.25 L294.36,75.98 L295.33,72.64 L296.29,69.27 L297.25,65.90 L298.22,62.55 L299.18,59.26 L300.15,56.06 L301.11,52.96 L302.07,50.00 L303.04,47.18 L304.00,44.53 L304.97,42.05 L305.93,39.74 L306.89,37.61 L307.86,35.66 L308.82,33.87 L309.78,32.25 L310.75,30.78 L311.71,29.46 L312.68,28.27 L313.64,27.21 L314.60,26.26 L315.57,25.42 L316.53,24.67 L317.50,24.01 L318.46,23.42 L319.42,22.91 L320.39,22.45 L321.35,22.05 L322.32,21.69 L323.28,21.38 L324.24,21.11 L325.21,20.87 L326.17,20.66 L327.13,20.48 L328.10,20.32 L329.06,20.18 L330.03,20.05 L330.99,19.95 L331.95,19.85 L332.92,19.77 L333.88,19.70 L334.85,19.63 L335.81,19.58 L336.77,19.53 L337.74,19.49 L338.70,19.45 L339.66,19.42 L340.63,19.39 L341.59,19.37 L342.56,19.35 L343.52,19.33 L344.48,19.31 L345.45,19.30 L346.41,19.28 L347.38,19.27 L348.34,19.26 L349.30,19.26 L350.27,19.25 L351.23,19.24 L352.20,19.24 L353.16,19.23 L354.12,19.23 L355.09,19.22 L356.05,19.22 L357.01,19.22" stroke="#5454c8" stroke-width="0.85" stroke-dasharray="2.2,1.3"/>
<path d="M241.35,118.36 L242.31,118.36 L243.28,118.35 L244.24,118.34 L245.21,118.33 L246.17,118.32 L247.13,118.31 L248.10,118.29 L249.06,118.28 L250.02,118.26 L250.99,118.24 L251.95,118.21 L252.92,118.18 L253.88,118.15 L254.84,118.11 L255.81,118.06 L256.77,118.01 L257.74,117.95 L258.70,117.88 L259.66,117.80 L260.63,117.71 L261.59,117.60 L262.56,117.48 L263.52,117.33 L264.48,117.17 L265.45,116.98 L266.41,116.76 L267.37,116.51 L268.34,116.22 L269.30,115.89 L270.27,115.51 L271.23,115.08 L272.19,114.58 L273.16,114.01 L274.12,113.36 L275.09,112.61 L276.05,111.77 L277.01,110.81 L277.98,109.73 L278.94,108.51 L279.90,107.15 L280.87,105.62 L281.83,103.91 L282.80,102.02 L283.76,99.94 L284.72,97.66 L285.69,95.18 L286.65,92.50 L287.62,89.63 L288.58,86.58 L289.54,83.37 L290.51,80.01 L291.47,76.55 L292.44,73.00 L293.40,69.41 L294.36,65.82 L295.33,62.26 L296.29,58.76 L297.25,55.36 L298.22,52.10 L299.18,48.99 L300.15,46.06 L301.11,43.31 L302.07,40.76 L303.04,38.42 L304.00,36.27 L304.97,34.31 L305.93,32.55 L306.89,30.96 L307.86,29.53 L308.82,28.27 L309.78,27.14 L310.75,26.14 L311.71,25.26 L312.68,24.49 L313.64,23.81 L314.60,23.21 L315.57,22.69 L316.53,22.23 L317.50,21.83 L318.46,21.48 L319.42,21.18 L320.39,20.92 L321.35,20.69 L322.32,20.49 L323.28,20.32 L324.24,20.17 L325.21,20.04 L326.17,19.93 L327.13,19.83 L328.10,19.75 L329.06,19.67 L330.03,19.61 L330.99,19.55 L331.95,19.51 L332.92,19.46 L333.88,19.43 L334.85,19.40 L335.81,19.37 L336.77,19.35 L337.74,19.33 L338.70,19.31 L339.66,19.30 L340.63,19.28 L341.59,19.27 L342.56,19.26 L343.52,19.25 L344.48,19.25 L345.45,19.24 L346.41,19.23 L347.38,19.23 L348.34,19.23 L349.30,19.22 L350.27,19.22 L351.23,19.22 L352.20,19.21 L353.16,19.21 L354.12,19.21 L355.09,19.21 L356.05,19.21 L357.01,19.21" stroke="#5454c8" stroke-width="0.85" stroke-dasharray="2.2,1.3"/>
<path d="M241.35,118.30 L242.31,118.28 L243.28,118.26 L244.24,118.24 L245.21,118.21 L246.17,118.18 L247.13,118.14 L248.10,118.10 L249.06,118.05 L250.02,117.99 L250.99,117.92 L251.95,117.85 L252.92,117.75 L253.88,117.65 L254.84,117.52 L255.81,117.38 L256.77,117.21 L257.74,117.01 L258.70,116.79 L259.66,116.52 L260.63,116.22 L261.59,115.86 L262.56,115.45 L263.52,114.98 L264.48,114.43 L265.45,113.80 L266.41,113.08 L267.37,112.25 L268.34,111.30 L269.30,110.21 L270.27,108.98 L271.23,107.58 L272.19,106.00 L273.16,104.24 L274.12,102.26 L275.09,100.07 L276.05,97.66 L277.01,95.02 L277.98,92.15 L278.94,89.08 L279.90,85.80 L280.87,82.34 L281.83,78.74 L282.80,75.02 L283.76,71.23 L284.72,67.42 L285.69,63.62 L286.65,59.88 L287.62,56.24 L288.58,52.74 L289.54,49.41 L290.51,46.28 L291.47,43.35 L292.44,40.65 L293.40,38.17 L294.36,35.92 L295.33,33.89 L296.29,32.06 L297.25,30.44 L298.22,28.99 L299.18,27.71 L300.15,26.59 L301.11,25.60 L302.07,24.74 L303.04,23.99 L304.00,23.33 L304.97,22.76 L305.93,22.27 L306.89,21.84 L307.86,21.48 L308.82,21.16 L309.78,20.88 L310.75,20.65 L311.71,20.44 L312.68,20.27 L313.64,20.12 L314.60,19.99 L315.57,19.87 L316.53,19.78 L317.50,19.70 L318.46,19.63 L319.42,19.57 L320.39,19.51 L321.35,19.47 L322.32,19.43 L323.28,19.40 L324.24,19.37 L325.21,19.35 L326.17,19.32 L327.13,19.31 L328.10,19.29 L329.06,19.28 L330.03,19.27 L330.99,19.26 L331.95,19.25 L332.92,19.24 L333.88,19.24 L334.85,19.23 L335.81,19.23 L336.77,19.22 L337.74,19.22 L338.70,19.22 L339.66,19.21 L340.63,19.21 L341.59,19.21 L342.56,19.21 L343.52,19.21 L344.48,19.21 L345.45,19.21 L346.41,19.20 L347.38,19.20 L348.34,19.20 L349.30,19.20 L350.27,19.20 L351.23,19.20 L352.20,19.20 L353.16,19.20 L354.12,19.20 L355.09,19.20 L356.05,19.20 L357.01,19.20" stroke="#5454c8" stroke-width="0.85" stroke-dasharray="2.2,1.3"/>
<path d="M241.35,118.34 L242.31,118.33 L243.28,118.32 L244.24,118.31 L245.21,118.30 L246.17,118.28 L247.13,118.27 L248.10,118.25 L249.06,118.23 L250.02,118.20 L250.99,118.17 L251.95,118.14 L252.92,118.10 L253.88,118.06 L254.84,118.01 L255.81,117.96 L256.77,117.89 L257.74,117.82 L258.70,117.73 L259.66,117.64 L260.63,117.53 L261.59,117.41 L262.56,117.26 L263.52,117.10 L264.48,116.91 L265.45,116.70 L266.41,116.46 L267.37,116.19 L268.34,115.88 L269.30,115.52 L270.27,115.12 L271.23,114.66 L272.19,114.14 L273.16,113.55 L274.12,112.89 L275.09,112.14 L276.05,111.30 L277.01,110.36 L277.98,109.30 L278.94,108.12 L279.90,106.81 L280.87,105.35 L281.83,103.74 L282.80,101.96 L283.76,100.03 L284.72,97.91 L285.69,95.63 L286.65,93.17 L287.62,90.54 L288.58,87.75 L289.54,84.82 L290.51,81.75 L291.47,78.57 L292.44,75.31 L293.40,71.99 L294.36,68.64 L295.33,65.29 L296.29,61.97 L297.25,58.72 L298.22,55.55 L299.18,52.50 L300.15,49.57 L301.11,46.80 L302.07,44.19 L303.04,41.75 L304.00,39.48 L304.97,37.38 L305.93,35.46 L306.89,33.70 L307.86,32.11 L308.82,30.66 L309.78,29.36 L310.75,28.19 L311.71,27.15 L312.68,26.21 L313.64,25.38 L314.60,24.64 L315.57,23.99 L316.53,23.41 L317.50,22.89 L318.46,22.44 L319.42,22.04 L320.39,21.69 L321.35,21.38 L322.32,21.11 L323.28,20.88 L324.24,20.67 L325.21,20.48 L326.17,20.32 L327.13,20.18 L328.10,20.06 L329.06,19.95 L330.03,19.86 L330.99,19.77 L331.95,19.70 L332.92,19.64 L333.88,19.58 L334.85,19.54 L335.81,19.49 L336.77,19.46 L337.74,19.42 L338.70,19.40 L339.66,19.37 L340.63,19.35 L341.59,19.33 L342.56,19.31 L343.52,19.30 L344.48,19.29 L345.45,19.28 L346.41,19.27 L347.38,19.26 L348.34,19.25 L349.30,19.24 L350.27,19.24 L351.23,19.23 L352.20,19.23 L353.16,19.23 L354.12,19.22 L355.09,19.22 L356.05,19.22 L357.01,19.21" stroke="#5454c8" stroke-width="0.85" stroke-dasharray="2.2,1.3"/>
<path d="M241.35,118.34 L242.31,118.33 L243.28,118.32 L244.24,118.30 L245.21,118.29 L246.17,118.27 L247.13,118.25 L248.10,118.23 L249.06,118.20 L250.02,118.17 L250.99,118.14 L251.95,118.09 L252.92,118.05 L253.88,117.99 L254.84,117.93 L255.81,117.86 L256.77,117.77 L257.74,117.68 L258.70,117.57 L259.66,117.44 L260.63,117.29 L261.59,117.12 L262.56,116.93 L263.52,116.70 L264.48,116.44 L265.45,116.15 L266.41,115.81 L267.37,115.42 L268.34,114.97 L269.30,114.46 L270.27,113.88 L271.23,113.21 L272.19,112.46 L273.16,111.60 L274.12,110.63 L275.09,109.53 L276.05,108.29 L277.01,106.91 L277.98,105.36 L278.94,103.64 L279.90,101.73 L280.87,99.64 L281.83,97.35 L282.80,94.86 L283.76,92.17 L284.72,89.30 L285.69,86.25 L286.65,83.04 L287.62,79.69 L288.58,76.24 L289.54,72.72 L290.51,69.15 L291.47,65.58 L292.44,62.04 L293.40,58.57 L294.36,55.20 L295.33,51.97 L296.29,48.88 L297.25,45.97 L298.22,43.25 L299.18,40.72 L300.15,38.39 L301.11,36.26 L302.07,34.32 L303.04,32.56 L304.00,30.98 L304.97,29.56 L305.93,28.30 L306.89,27.18 L307.86,26.18 L308.82,25.30 L309.78,24.53 L310.75,23.84 L311.71,23.25 L312.68,22.72 L313.64,22.26 L314.60,21.86 L315.57,21.51 L316.53,21.21 L317.50,20.94 L318.46,20.71 L319.42,20.51 L320.39,20.34 L321.35,20.19 L322.32,20.06 L323.28,19.94 L324.24,19.84 L325.21,19.76 L326.17,19.68 L327.13,19.62 L328.10,19.56 L329.06,19.51 L330.03,19.47 L330.99,19.44 L331.95,19.40 L332.92,19.38 L333.88,19.35 L334.85,19.33 L335.81,19.31 L336.77,19.30 L337.74,19.29 L338.70,19.27 L339.66,19.26 L340.63,19.26 L341.59,19.25 L342.56,19.24 L343.52,19.24 L344.48,19.23 L345.45,19.23 L346.41,19.22 L347.38,19.22 L348.34,19.22 L349.30,19.22 L350.27,19.21 L351.23,19.21 L352.20,19.21 L353.16,19.21 L354.12,19.21 L355.09,19.21 L356.05,19.21 L357.01,19.20" stroke="#5454c8" stroke-width="0.85" stroke-dasharray="2.2,1.3"/>
<path d="M241.35,118.37 L242.31,118.36 L243.28,118.36 L244.24,118.35 L245.21,118.34 L246.17,118.33 L247.13,118.32 L248.10,118.31 L249.06,118.29 L250.02,118.28 L250.99,118.26 L251.95,118.23 L252.92,118.21 L253.88,118.17 L254.84,118.14 L255.81,118.09 L256.77,118.04 L257.74,117.98 L258.70,117.91 L259.66,117.83 L260.63,117.74 L261.59,117.63 L262.56,117.51 L263.52,117.36 L264.48,117.19 L265.45,116.99 L266.41,116.77 L267.37,116.50 L268.34,116.19 L269.30,115.84 L270.27,115.43 L271.23,114.95 L272.19,114.40 L273.16,113.77 L274.12,113.05 L275.09,112.22 L276.05,111.27 L277.01,110.19 L277.98,108.96 L278.94,107.57 L279.90,106.00 L280.87,104.24 L281.83,102.28 L282.80,100.11 L283.76,97.71 L284.72,95.09 L285.69,92.25 L286.65,89.20 L287.62,85.95 L288.58,82.53 L289.54,78.95 L290.51,75.26 L291.47,71.50 L292.44,67.71 L293.40,63.93 L294.36,60.20 L295.33,56.57 L296.29,53.08 L297.25,49.75 L298.22,46.62 L299.18,43.68 L300.15,40.97 L301.11,38.48 L302.07,36.21 L303.04,34.16 L304.00,32.32 L304.97,30.67 L305.93,29.21 L306.89,27.91 L307.86,26.77 L308.82,25.77 L309.78,24.89 L310.75,24.12 L311.71,23.45 L312.68,22.87 L313.64,22.37 L314.60,21.93 L315.57,21.55 L316.53,21.22 L317.50,20.94 L318.46,20.70 L319.42,20.49 L320.39,20.31 L321.35,20.15 L322.32,20.02 L323.28,19.90 L324.24,19.80 L325.21,19.72 L326.17,19.65 L327.13,19.58 L328.10,19.53 L329.06,19.48 L330.03,19.44 L330.99,19.41 L331.95,19.38 L332.92,19.35 L333.88,19.33 L334.85,19.31 L335.81,19.30 L336.77,19.28 L337.74,19.27 L338.70,19.26 L339.66,19.25 L340.63,19.24 L341.59,19.24 L342.56,19.23 L343.52,19.23 L344.48,19.22 L345.45,19.22 L346.41,19.22 L347.38,19.22 L348.34,19.21 L349.30,19.21 L350.27,19.21 L351.23,19.21 L352.20,19.21 L353.16,19.21 L354.12,19.21 L355.09,19.20 L356.05,19.20 L357.01,19.20" stroke="#5454c8" stroke-width="0.85" stroke-dasharray="2.2,1.3"/>
<path d="M241.35,118.27 L242.31,118.26 L243.28,118.24 L244.24,118.21 L245.21,118.19 L246.17,118.16 L247.13,118.12 L248.10,118.08 L249.06,118.03 L250.02,117.98 L250.99,117.92 L251.95,117.85 L252.92,117.78 L253.88,117.69 L254.84,117.59 L255.81,117.47 L256.77,117.34 L257.74,117.19 L258.70,117.01 L259.66,116.82 L260.63,116.60 L261.59,116.34 L262.56,116.05 L263.52,115.72 L264.48,115.35 L265.45,114.93 L266.41,114.45 L267.37,113.91 L268.34,113.29 L269.30,112.60 L270.27,111.82 L271.23,110.95 L272.19,109.97 L273.16,108.87 L274.12,107.65 L275.09,106.30 L276.05,104.79 L277.01,103.14 L277.98,101.32 L278.94,99.34 L279.90,97.18 L280.87,94.86 L281.83,92.36 L282.80,89.70 L283.76,86.89 L284.72,83.93 L285.69,80.85 L286.65,77.67 L287.62,74.41 L288.58,71.10 L289.54,67.77 L290.51,64.45 L291.47,61.17 L292.44,57.95 L293.40,54.83 L294.36,51.83 L295.33,48.96 L296.29,46.23 L297.25,43.67 L298.22,41.28 L299.18,39.06 L300.15,37.01 L301.11,35.14 L302.07,33.42 L303.04,31.86 L304.00,30.45 L304.97,29.18 L305.93,28.03 L306.89,27.01 L307.86,26.10 L308.82,25.28 L309.78,24.56 L310.75,23.92 L311.71,23.35 L312.68,22.85 L313.64,22.40 L314.60,22.01 L315.57,21.67 L316.53,21.36 L317.50,21.10 L318.46,20.86 L319.42,20.66 L320.39,20.48 L321.35,20.32 L322.32,20.18 L323.28,20.06 L324.24,19.95 L325.21,19.86 L326.17,19.77 L327.13,19.70 L328.10,19.64 L329.06,19.58 L330.03,19.54 L330.99,19.49 L331.95,19.46 L332.92,19.43 L333.88,19.40 L334.85,19.37 L335.81,19.35 L336.77,19.33 L337.74,19.32 L338.70,19.30 L339.66,19.29 L340.63,19.28 L341.59,19.27 L342.56,19.26 L343.52,19.25 L344.48,19.24 L345.45,19.24 L346.41,19.23 L347.38,19.23 L348.34,19.23 L349.30,19.22 L350.27,19.22 L351.23,19.22 L352.20,19.22 L353.16,19.21 L354.12,19.21 L355.09,19.21 L356.05,19.21 L357.01,19.21" stroke="#5454c8" stroke-width="0.85" stroke-dasharray="2.2,1.3"/>
<path d="M241.35,118.35 L242.31,118.34 L243.28,118.33 L244.24,118.32 L245.21,118.31 L246.17,118.29 L247.13,118.28 L248.10,118.26 L249.06,118.24 L250.02,118.21 L250.99,118.18 L251.95,118.15 L252.92,118.11 L253.88,118.07 L254.84,118.01 L255.81,117.95 L256.77,117.89 L257.74,117.81 L258.70,117.72 L259.66,117.61 L260.63,117.49 L261.59,117.36 L262.56,117.20 L263.52,117.01 L264.48,116.80 L265.45,116.56 L266.41,116.28 L267.37,115.97 L268.34,115.60 L269.30,115.19 L270.27,114.71 L271.23,114.17 L272.19,113.54 L273.16,112.84 L274.12,112.04 L275.09,111.13 L276.05,110.10 L277.01,108.95 L277.98,107.65 L278.94,106.20 L279.90,104.58 L280.87,102.79 L281.83,100.81 L282.80,98.64 L283.76,96.27 L284.72,93.71 L285.69,90.96 L286.65,88.03 L287.62,84.93 L288.58,81.69 L289.54,78.32 L290.51,74.85 L291.47,71.33 L292.44,67.78 L293.40,64.24 L294.36,60.74 L295.33,57.33 L296.29,54.03 L297.25,50.86 L298.22,47.86 L299.18,45.03 L300.15,42.39 L301.11,39.94 L302.07,37.69 L303.04,35.63 L304.00,33.76 L304.97,32.07 L305.93,30.55 L306.89,29.19 L307.86,27.97 L308.82,26.89 L309.78,25.93 L310.75,25.09 L311.71,24.34 L312.68,23.69 L313.64,23.11 L314.60,22.61 L315.57,22.17 L316.53,21.78 L317.50,21.44 L318.46,21.15 L319.42,20.90 L320.39,20.67 L321.35,20.48 L322.32,20.31 L323.28,20.16 L324.24,20.04 L325.21,19.92 L326.17,19.83 L327.13,19.75 L328.10,19.67 L329.06,19.61 L330.03,19.56 L330.99,19.51 L331.95,19.47 L332.92,19.43 L333.88,19.40 L334.85,19.37 L335.81,19.35 L336.77,19.33 L337.74,19.31 L338.70,19.30 L339.66,19.29 L340.63,19.27 L341.59,19.26 L342.56,19.26 L343.52,19.25 L344.48,19.24 L345.45,19.24 L346.41,19.23 L347.38,19.23 L348.34,19.22 L349.30,19.22 L350.27,19.22 L351.23,19.22 L352.20,19.21 L353.16,19.21 L354.12,19.21 L355.09,19.21 L356.05,19.21 L357.01,19.21" stroke="#5454c8" stroke-width="0.85" stroke-dasharray="2.2,1.3"/>
<path d="M241.35,118.33 L242.31,118.32 L243.28,118.30 L244.24,118.29 L245.21,118.27 L246.17,118.25 L247.13,118.22 L248.10,118.19 L249.06,118.16 L250.02,118.12 L250.99,118.07 L251.95,118.02 L252.92,117.96 L253.88,117.89 L254.84,117.80 L255.81,117.70 L256.77,117.59 L257.74,117.46 L258.70,117.31 L259.66,117.13 L260.63,116.92 L261.59,116.69 L262.56,116.41 L263.52,116.09 L264.48,115.72 L265.45,115.29 L266.41,114.80 L267.37,114.24 L268.34,113.58 L269.30,112.84 L270.27,111.98 L271.23,111.01 L272.19,109.90 L273.16,108.64 L274.12,107.21 L275.09,105.61 L276.05,103.82 L277.01,101.82 L277.98,99.61 L278.94,97.18 L279.90,94.54 L280.87,91.67 L281.83,88.60 L282.80,85.33 L283.76,81.90 L284.72,78.32 L285.69,74.64 L286.65,70.89 L287.62,67.12 L288.58,63.37 L289.54,59.68 L290.51,56.09 L291.47,52.64 L292.44,49.35 L293.40,46.26 L294.36,43.37 L295.33,40.70 L296.29,38.25 L297.25,36.01 L298.22,33.99 L299.18,32.18 L300.15,30.56 L301.11,29.11 L302.07,27.84 L303.04,26.71 L304.00,25.72 L304.97,24.85 L305.93,24.09 L306.89,23.43 L307.86,22.86 L308.82,22.36 L309.78,21.92 L310.75,21.55 L311.71,21.22 L312.68,20.94 L313.64,20.70 L314.60,20.49 L315.57,20.31 L316.53,20.16 L317.50,20.02 L318.46,19.91 L319.42,19.81 L320.39,19.72 L321.35,19.65 L322.32,19.59 L323.28,19.53 L324.24,19.48 L325.21,19.44 L326.17,19.41 L327.13,19.38 L328.10,19.36 L329.06,19.33 L330.03,19.31 L330.99,19.30 L331.95,19.28 L332.92,19.27 L333.88,19.26 L334.85,19.25 L335.81,19.25 L336.77,19.24 L337.74,19.23 L338.70,19.23 L339.66,19.23 L340.63,19.22 L341.59,19.22 L342.56,19.22 L343.52,19.21 L344.48,19.21 L345.45,19.21 L346.41,19.21 L347.38,19.21 L348.34,19.21 L349.30,19.21 L350.27,19.20 L351.23,19.20 L352.20,19.20 L353.16,19.20 L354.12,19.20 L355.09,19.20 L356.05,19.20 L357.01,19.20" stroke="#5454c8" stroke-width="0.85" stroke-dasharray="2.2,1.3"/>
<path d="M241.35,118.23 L242.31,118.20 L243.28,118.17 L244.24,118.14 L245.21,118.10 L246.17,118.06 L247.13,118.01 L248.10,117.96 L249.06,117.90 L250.02,117.82 L250.99,117.74 L251.95,117.65 L252.92,117.54 L253.88,117.42 L254.84,117.28 L255.81,117.13 L256.77,116.95 L257.74,116.74 L258.70,116.51 L259.66,116.25 L260.63,115.95 L261.59,115.61 L262.56,115.22 L263.52,114.79 L264.48,114.29 L265.45,113.74 L266.41,113.11 L267.37,112.40 L268.34,111.60 L269.30,110.70 L270.27,109.70 L271.23,108.58 L272.19,107.34 L273.16,105.96 L274.12,104.43 L275.09,102.75 L276.05,100.91 L277.01,98.90 L277.98,96.73 L278.94,94.39 L279.90,91.88 L280.87,89.20 L281.83,86.38 L282.80,83.42 L283.76,80.35 L284.72,77.17 L285.69,73.93 L286.65,70.64 L287.62,67.33 L288.58,64.03 L289.54,60.78 L290.51,57.60 L291.47,54.51 L292.44,51.54 L293.40,48.70 L294.36,46.01 L295.33,43.48 L296.29,41.12 L297.25,38.93 L298.22,36.90 L299.18,35.04 L300.15,33.35 L301.11,31.81 L302.07,30.41 L303.04,29.15 L304.00,28.02 L304.97,27.00 L305.93,26.10 L306.89,25.29 L307.86,24.57 L308.82,23.93 L309.78,23.36 L310.75,22.86 L311.71,22.42 L312.68,22.03 L313.64,21.69 L314.60,21.38 L315.57,21.11 L316.53,20.88 L317.50,20.67 L318.46,20.49 L319.42,20.33 L320.39,20.19 L321.35,20.07 L322.32,19.96 L323.28,19.87 L324.24,19.78 L325.21,19.71 L326.17,19.65 L327.13,19.59 L328.10,19.54 L329.06,19.50 L330.03,19.46 L330.99,19.43 L331.95,19.40 L332.92,19.38 L333.88,19.35 L334.85,19.34 L335.81,19.32 L336.77,19.30 L337.74,19.29 L338.70,19.28 L339.66,19.27 L340.63,19.26 L341.59,19.25 L342.56,19.25 L343.52,19.24 L344.48,19.24 L345.45,19.23 L346.41,19.23 L347.38,19.22 L348.34,19.22 L349.30,19.22 L350.27,19.22 L351.23,19.21 L352.20,19.21 L353.16,19.21 L354.12,19.21 L355.09,19.21 L356.05,19.21 L357.01,19.21" stroke="#5454c8" stroke-width="0.85" stroke-dasharray="2.2,1.3"/>
<path d="M241.35,118.31 L242.31,118.30 L243.28,118.29 L244.24,118.28 L245.21,118.26 L246.17,118.24 L247.13,118.22 L248.10,118.20 L249.06,118.17 L250.02,118.14 L250.99,118.11 L251.95,118.07 L252.92,118.03 L253.88,117.98 L254.84,117.92 L255.81,117.86 L256.77,117.79 L257.74,117.71 L258.70,117.63 L259.66,117.52 L260.63,117.41 L261.59,117.28 L262.56,117.14 L263.52,116.98 L264.48,116.79 L265.45,116.59 L266.41,116.36 L267.37,116.09 L268.34,115.80 L269.30,115.47 L270.27,115.10 L271.23,114.68 L272.19,114.22 L273.16,113.70 L274.12,113.11 L275.09,112.46 L276.05,111.74 L277.01,110.93 L277.98,110.04 L278.94,109.05 L279.90,107.95 L280.87,106.75 L281.83,105.42 L282.80,103.97 L283.76,102.39 L284.72,100.67 L285.69,98.80 L286.65,96.80 L287.62,94.65 L288.58,92.36 L289.54,89.93 L290.51,87.37 L291.47,84.69 L292.44,81.90 L293.40,79.02 L294.36,76.07 L295.33,73.06 L296.29,70.02 L297.25,66.97 L298.22,63.94 L299.18,60.94 L300.15,58.00 L301.11,55.14 L302.07,52.37 L303.04,49.71 L304.00,47.18 L304.97,44.77 L305.93,42.51 L306.89,40.39 L307.86,38.41 L308.82,36.58 L309.78,34.89 L310.75,33.33 L311.71,31.90 L312.68,30.60 L313.64,29.42 L314.60,28.35 L315.57,27.38 L316.53,26.50 L317.50,25.71 L318.46,25.00 L319.42,24.36 L320.39,23.80 L321.35,23.29 L322.32,22.83 L323.28,22.42 L324.24,22.06 L325.21,21.74 L326.17,21.45 L327.13,21.20 L328.10,20.97 L329.06,20.77 L330.03,20.59 L330.99,20.43 L331.95,20.29 L332.92,20.16 L333.88,20.05 L334.85,19.96 L335.81,19.87 L336.77,19.79 L337.74,19.72 L338.70,19.66 L339.66,19.61 L340.63,19.56 L341.59,19.52 L342.56,19.48 L343.52,19.45 L344.48,19.42 L345.45,19.40 L346.41,19.37 L347.38,19.35 L348.34,19.34 L349.30,19.32 L350.27,19.31 L351.23,19.29 L352.20,19.28 L353.16,19.27 L354.12,19.27 L355.09,19.26 L356.05,19.25 L357.01,19.25" stroke="#f01010" stroke-width="0.8" opacity="0.85"/>
<path d="M241.35,118.36 L242.31,118.35 L243.28,118.35 L244.24,118.34 L245.21,118.33 L246.17,118.32 L247.13,118.31 L248.10,118.29 L249.06,118.28 L250.02,118.26 L250.99,118.24 L251.95,118.22 L252.92,118.19 L253.88,118.16 L254.84,118.12 L255.81,118.08 L256.77,118.04 L257.74,117.99 L258.70,117.93 L259.66,117.86 L260.63,117.78 L261.59,117.69 L262.56,117.59 L263.52,117.47 L264.48,117.34 L265.45,117.19 L266.41,117.01 L267.37,116.82 L268.34,116.59 L269.30,116.33 L270.27,116.04 L271.23,115.71 L272.19,115.33 L273.16,114.90 L274.12,114.41 L275.09,113.86 L276.05,113.23 L277.01,112.53 L277.98,111.73 L278.94,110.84 L279.90,109.83 L280.87,108.71 L281.83,107.46 L282.80,106.07 L283.76,104.53 L284.72,102.83 L285.69,100.97 L286.65,98.93 L287.62,96.72 L288.58,94.34 L289.54,91.78 L290.51,89.06 L291.47,86.19 L292.44,83.17 L293.40,80.03 L294.36,76.80 L295.33,73.49 L296.29,70.15 L297.25,66.78 L298.22,63.44 L299.18,60.15 L300.15,56.93 L301.11,53.82 L302.07,50.83 L303.04,47.98 L304.00,45.29 L304.97,42.77 L305.93,40.42 L306.89,38.25 L307.86,36.25 L308.82,34.42 L309.78,32.75 L310.75,31.24 L311.71,29.88 L312.68,28.66 L313.64,27.56 L314.60,26.58 L315.57,25.70 L316.53,24.93 L317.50,24.24 L318.46,23.63 L319.42,23.09 L320.39,22.61 L321.35,22.19 L322.32,21.82 L323.28,21.50 L324.24,21.21 L325.21,20.96 L326.17,20.74 L327.13,20.55 L328.10,20.38 L329.06,20.23 L330.03,20.10 L330.99,19.99 L331.95,19.89 L332.92,19.80 L333.88,19.73 L334.85,19.66 L335.81,19.60 L336.77,19.55 L337.74,19.51 L338.70,19.47 L339.66,19.43 L340.63,19.40 L341.59,19.38 L342.56,19.36 L343.52,19.34 L344.48,19.32 L345.45,19.30 L346.41,19.29 L347.38,19.28 L348.34,19.27 L349.30,19.26 L350.27,19.25 L351.23,19.25 L352.20,19.24 L353.16,19.24 L354.12,19.23 L355.09,19.23 L356.05,19.22 L357.01,19.22" stroke="#f01010" stroke-width="0.8" opacity="0.85"/>
<path d="M241.35,118.37 L242.31,118.37 L243.28,118.37 L244.24,118.36 L245.21,118.35 L246.17,118.35 L247.13,118.34 L248.10,118.33 L249.06,118.32 L250.02,118.30 L250.99,118.29 L251.95,118.27 L252.92,118.25 L253.88,118.23 L254.84,118.20 L255.81,118.17 L256.77,118.13 L257.74,118.08 L258.70,118.03 L259.66,117.98 L260.63,117.91 L261.59,117.83 L262.56,117.74 L263.52,117.64 L264.48,117.51 L265.45,117.37 L266.41,117.21 L267.37,117.03 L268.34,116.81 L269.30,116.56 L270.27,116.27 L271.23,115.94 L272.19,115.56 L273.16,115.12 L274.12,114.62 L275.09,114.04 L276.05,113.38 L277.01,112.62 L277.98,111.76 L278.94,110.78 L279.90,109.67 L280.87,108.42 L281.83,107.01 L282.80,105.43 L283.76,103.67 L284.72,101.71 L285.69,99.55 L286.65,97.18 L287.62,94.61 L288.58,91.83 L289.54,88.85 L290.51,85.68 L291.47,82.36 L292.44,78.89 L293.40,75.32 L294.36,71.68 L295.33,68.01 L296.29,64.35 L297.25,60.73 L298.22,57.21 L299.18,53.80 L300.15,50.54 L301.11,47.45 L302.07,44.56 L303.04,41.86 L304.00,39.38 L304.97,37.10 L305.93,35.03 L306.89,33.15 L307.86,31.47 L308.82,29.96 L309.78,28.62 L310.75,27.43 L311.71,26.38 L312.68,25.45 L313.64,24.64 L314.60,23.93 L315.57,23.30 L316.53,22.76 L317.50,22.28 L318.46,21.87 L319.42,21.51 L320.39,21.20 L321.35,20.93 L322.32,20.69 L323.28,20.49 L324.24,20.32 L325.21,20.16 L326.17,20.03 L327.13,19.92 L328.10,19.82 L329.06,19.73 L330.03,19.66 L330.99,19.60 L331.95,19.54 L332.92,19.50 L333.88,19.46 L334.85,19.42 L335.81,19.39 L336.77,19.36 L337.74,19.34 L338.70,19.32 L339.66,19.31 L340.63,19.29 L341.59,19.28 L342.56,19.27 L343.52,19.26 L344.48,19.25 L345.45,19.24 L346.41,19.24 L347.38,19.23 L348.34,19.23 L349.30,19.22 L350.27,19.22 L351.23,19.22 L352.20,19.22 L353.16,19.21 L354.12,19.21 L355.09,19.21 L356.05,19.21 L357.01,19.21" stroke="#f01010" stroke-width="0.8" opacity="0.85"/>
<path d="M241.35,118.13 L242.31,118.09 L243.28,118.05 L244.24,118.00 L245.21,117.95 L246.17,117.89 L247.13,117.83 L248.10,117.75 L249.06,117.67 L250.02,117.57 L250.99,117.46 L251.95,117.34 L252.92,117.20 L253.88,117.05 L254.84,116.87 L255.81,116.67 L256.77,116.45 L257.74,116.20 L258.70,115.91 L259.66,115.60 L260.63,115.24 L261.59,114.84 L262.56,114.38 L263.52,113.88 L264.48,113.31 L265.45,112.68 L266.41,111.98 L267.37,111.19 L268.34,110.32 L269.30,109.35 L270.27,108.28 L271.23,107.09 L272.19,105.79 L273.16,104.37 L274.12,102.81 L275.09,101.11 L276.05,99.27 L277.01,97.28 L277.98,95.15 L278.94,92.87 L279.90,90.45 L280.87,87.90 L281.83,85.22 L282.80,82.43 L283.76,79.55 L284.72,76.59 L285.69,73.56 L286.65,70.50 L287.62,67.43 L288.58,64.37 L289.54,61.35 L290.51,58.37 L291.47,55.48 L292.44,52.68 L293.40,49.99 L294.36,47.42 L295.33,44.99 L296.29,42.70 L297.25,40.55 L298.22,38.54 L299.18,36.69 L300.15,34.97 L301.11,33.40 L302.07,31.96 L303.04,30.64 L304.00,29.45 L304.97,28.36 L305.93,27.38 L306.89,26.50 L307.86,25.71 L308.82,24.99 L309.78,24.35 L310.75,23.78 L311.71,23.27 L312.68,22.81 L313.64,22.40 L314.60,22.04 L315.57,21.72 L316.53,21.43 L317.50,21.18 L318.46,20.95 L319.42,20.75 L320.39,20.57 L321.35,20.41 L322.32,20.27 L323.28,20.15 L324.24,20.04 L325.21,19.94 L326.17,19.86 L327.13,19.78 L328.10,19.71 L329.06,19.65 L330.03,19.60 L330.99,19.55 L331.95,19.51 L332.92,19.48 L333.88,19.44 L334.85,19.42 L335.81,19.39 L336.77,19.37 L337.74,19.35 L338.70,19.33 L339.66,19.32 L340.63,19.30 L341.59,19.29 L342.56,19.28 L343.52,19.27 L344.48,19.26 L345.45,19.26 L346.41,19.25 L347.38,19.24 L348.34,19.24 L349.30,19.23 L350.27,19.23 L351.23,19.23 L352.20,19.22 L353.16,19.22 L354.12,19.22 L355.09,19.22 L356.05,19.21 L357.01,19.21" stroke="#f01010" stroke-width="0.8" opacity="0.85"/>
<path d="M241.35,118.15 L242.31,118.11 L243.28,118.07 L244.24,118.03 L245.21,117.97 L246.17,117.91 L247.13,117.84 L248.10,117.76 L249.06,117.66 L250.02,117.56 L250.99,117.43 L251.95,117.29 L252.92,117.13 L253.88,116.95 L254.84,116.74 L255.81,116.50 L256.77,116.23 L257.74,115.92 L258.70,115.57 L259.66,115.17 L260.63,114.72 L261.59,114.20 L262.56,113.62 L263.52,112.96 L264.48,112.21 L265.45,111.37 L266.41,110.43 L267.37,109.37 L268.34,108.18 L269.30,106.86 L270.27,105.39 L271.23,103.77 L272.19,101.99 L273.16,100.03 L274.12,97.90 L275.09,95.59 L276.05,93.11 L277.01,90.45 L277.98,87.63 L278.94,84.66 L279.90,81.56 L280.87,78.35 L281.83,75.05 L282.80,71.70 L283.76,68.31 L284.72,64.94 L285.69,61.60 L286.65,58.32 L287.62,55.14 L288.58,52.07 L289.54,49.14 L290.51,46.37 L291.47,43.76 L292.44,41.33 L293.40,39.07 L294.36,36.99 L295.33,35.08 L296.29,33.35 L297.25,31.77 L298.22,30.35 L299.18,29.07 L300.15,27.92 L301.11,26.89 L302.07,25.98 L303.04,25.16 L304.00,24.44 L304.97,23.81 L305.93,23.24 L306.89,22.75 L307.86,22.31 L308.82,21.92 L309.78,21.58 L310.75,21.29 L311.71,21.02 L312.68,20.79 L313.64,20.59 L314.60,20.42 L315.57,20.26 L316.53,20.13 L317.50,20.01 L318.46,19.91 L319.42,19.82 L320.39,19.74 L321.35,19.67 L322.32,19.61 L323.28,19.56 L324.24,19.51 L325.21,19.47 L326.17,19.44 L327.13,19.41 L328.10,19.38 L329.06,19.36 L330.03,19.34 L330.99,19.32 L331.95,19.31 L332.92,19.29 L333.88,19.28 L334.85,19.27 L335.81,19.26 L336.77,19.25 L337.74,19.25 L338.70,19.24 L339.66,19.24 L340.63,19.23 L341.59,19.23 L342.56,19.22 L343.52,19.22 L344.48,19.22 L345.45,19.22 L346.41,19.21 L347.38,19.21 L348.34,19.21 L349.30,19.21 L350.27,19.21 L351.23,19.21 L352.20,19.21 L353.16,19.21 L354.12,19.20 L355.09,19.20 L356.05,19.20 L357.01,19.20" stroke="#f01010" stroke-width="0.8" opacity="0.85"/>
<path d="M241.35,118.36 L242.31,118.35 L243.28,118.34 L244.24,118.33 L245.21,118.32 L246.17,118.31 L247.13,118.29 L248.10,118.28 L249.06,118.26 L250.02,118.24 L250.99,118.21 L251.95,118.18 L252.92,118.14 L253.88,118.10 L254.84,118.05 L255.81,118.00 L256.77,117.93 L257.74,117.86 L258.70,117.77 L259.66,117.67 L260.63,117.56 L261.59,117.42 L262.56,117.27 L263.52,117.09 L264.48,116.88 L265.45,116.64 L266.41,116.37 L267.37,116.05 L268.34,115.68 L269.30,115.25 L270.27,114.77 L271.23,114.21 L272.19,113.57 L273.16,112.83 L274.12,111.99 L275.09,111.04 L276.05,109.96 L277.01,108.73 L277.98,107.35 L278.94,105.80 L279.90,104.07 L280.87,102.14 L281.83,100.01 L282.80,97.68 L283.76,95.13 L284.72,92.37 L285.69,89.40 L286.65,86.25 L287.62,82.93 L288.58,79.47 L289.54,75.89 L290.51,72.24 L291.47,68.54 L292.44,64.85 L293.40,61.21 L294.36,57.65 L295.33,54.20 L296.29,50.90 L297.25,47.78 L298.22,44.84 L299.18,42.11 L300.15,39.59 L301.11,37.28 L302.07,35.18 L303.04,33.28 L304.00,31.57 L304.97,30.05 L305.93,28.69 L306.89,27.48 L307.86,26.42 L308.82,25.48 L309.78,24.66 L310.75,23.94 L311.71,23.31 L312.68,22.76 L313.64,22.28 L314.60,21.87 L315.57,21.51 L316.53,21.19 L317.50,20.92 L318.46,20.69 L319.42,20.48 L320.39,20.31 L321.35,20.16 L322.32,20.03 L323.28,19.91 L324.24,19.81 L325.21,19.73 L326.17,19.66 L327.13,19.59 L328.10,19.54 L329.06,19.49 L330.03,19.45 L330.99,19.42 L331.95,19.39 L332.92,19.36 L333.88,19.34 L334.85,19.32 L335.81,19.30 L336.77,19.29 L337.74,19.28 L338.70,19.27 L339.66,19.26 L340.63,19.25 L341.59,19.24 L342.56,19.24 L343.52,19.23 L344.48,19.23 L345.45,19.22 L346.41,19.22 L347.38,19.22 L348.34,19.21 L349.30,19.21 L350.27,19.21 L351.23,19.21 L352.20,19.21 L353.16,19.21 L354.12,19.21 L355.09,19.21 L356.05,19.20 L357.01,19.20" stroke="#f01010" stroke-width="0.8" opacity="0.85"/>
<path d="M241.35,118.25 L242.31,118.23 L243.28,118.21 L244.24,118.18 L245.21,118.15 L246.17,118.12 L247.13,118.08 L248.10,118.04 L249.06,117.99 L250.02,117.93 L250.99,117.87 L251.95,117.80 L252.92,117.73 L253.88,117.64 L254.84,117.54 L255.81,117.42 L256.77,117.29 L257.74,117.15 L258.70,116.98 L259.66,116.80 L260.63,116.59 L261.59,116.35 L262.56,116.09 L263.52,115.79 L264.48,115.45 L265.45,115.07 L266.41,114.65 L267.37,114.17 L268.34,113.63 L269.30,113.04 L270.27,112.37 L271.23,111.62 L272.19,110.79 L273.16,109.86 L274.12,108.84 L275.09,107.70 L276.05,106.45 L277.01,105.08 L277.98,103.57 L278.94,101.93 L279.90,100.14 L280.87,98.21 L281.83,96.13 L282.80,93.90 L283.76,91.52 L284.72,89.01 L285.69,86.36 L286.65,83.60 L287.62,80.73 L288.58,77.77 L289.54,74.75 L290.51,71.68 L291.47,68.59 L292.44,65.50 L293.40,62.43 L294.36,59.41 L295.33,56.47 L296.29,53.61 L297.25,50.86 L298.22,48.24 L299.18,45.74 L300.15,43.39 L301.11,41.18 L302.07,39.12 L303.04,37.20 L304.00,35.44 L304.97,33.81 L305.93,32.33 L306.89,30.97 L307.86,29.73 L308.82,28.62 L309.78,27.60 L310.75,26.69 L311.71,25.87 L312.68,25.14 L313.64,24.48 L314.60,23.89 L315.57,23.36 L316.53,22.89 L317.50,22.47 L318.46,22.10 L319.42,21.77 L320.39,21.47 L321.35,21.21 L322.32,20.98 L323.28,20.77 L324.24,20.59 L325.21,20.43 L326.17,20.29 L327.13,20.16 L328.10,20.05 L329.06,19.95 L330.03,19.86 L330.99,19.79 L331.95,19.72 L332.92,19.66 L333.88,19.60 L334.85,19.56 L335.81,19.51 L336.77,19.48 L337.74,19.45 L338.70,19.42 L339.66,19.39 L340.63,19.37 L341.59,19.35 L342.56,19.33 L343.52,19.32 L344.48,19.30 L345.45,19.29 L346.41,19.28 L347.38,19.27 L348.34,19.26 L349.30,19.26 L350.27,19.25 L351.23,19.24 L352.20,19.24 L353.16,19.23 L354.12,19.23 L355.09,19.23 L356.05,19.22 L357.01,19.22" stroke="#f01010" stroke-width="0.8" opacity="0.85"/>
<path d="M241.35,118.34 L242.31,118.33 L243.28,118.32 L244.24,118.31 L245.21,118.30 L246.17,118.29 L247.13,118.27 L248.10,118.25 L249.06,118.23 L250.02,118.20 L250.99,118.17 L251.95,118.14 L252.92,118.10 L253.88,118.06 L254.84,118.01 L255.81,117.95 L256.77,117.89 L257.74,117.81 L258.70,117.73 L259.66,117.63 L260.63,117.51 L261.59,117.39 L262.56,117.24 L263.52,117.07 L264.48,116.88 L265.45,116.65 L266.41,116.40 L267.37,116.12 L268.34,115.79 L269.30,115.41 L270.27,114.99 L271.23,114.51 L272.19,113.96 L273.16,113.34 L274.12,112.64 L275.09,111.84 L276.05,110.95 L277.01,109.95 L277.98,108.82 L278.94,107.57 L279.90,106.17 L280.87,104.62 L281.83,102.90 L282.80,101.02 L283.76,98.96 L284.72,96.72 L285.69,94.31 L286.65,91.71 L287.62,88.95 L288.58,86.03 L289.54,82.96 L290.51,79.77 L291.47,76.49 L292.44,73.13 L293.40,69.74 L294.36,66.33 L295.33,62.95 L296.29,59.62 L297.25,56.38 L298.22,53.24 L299.18,50.24 L300.15,47.39 L301.11,44.70 L302.07,42.18 L303.04,39.85 L304.00,37.69 L304.97,35.71 L305.93,33.90 L306.89,32.27 L307.86,30.78 L308.82,29.45 L309.78,28.25 L310.75,27.19 L311.71,26.23 L312.68,25.39 L313.64,24.64 L314.60,23.97 L315.57,23.38 L316.53,22.87 L317.50,22.41 L318.46,22.01 L319.42,21.66 L320.39,21.35 L321.35,21.08 L322.32,20.84 L323.28,20.63 L324.24,20.45 L325.21,20.29 L326.17,20.15 L327.13,20.03 L328.10,19.93 L329.06,19.83 L330.03,19.75 L330.99,19.68 L331.95,19.62 L332.92,19.57 L333.88,19.52 L334.85,19.48 L335.81,19.44 L336.77,19.41 L337.74,19.38 L338.70,19.36 L339.66,19.34 L340.63,19.32 L341.59,19.31 L342.56,19.29 L343.52,19.28 L344.48,19.27 L345.45,19.26 L346.41,19.25 L347.38,19.25 L348.34,19.24 L349.30,19.24 L350.27,19.23 L351.23,19.23 L352.20,19.22 L353.16,19.22 L354.12,19.22 L355.09,19.22 L356.05,19.21 L357.01,19.21" stroke="#f01010" stroke-width="0.8" opacity="0.85"/>
<path d="M241.35,118.39 L242.31,118.39 L243.28,118.39 L244.24,118.39 L245.21,118.39 L246.17,118.39 L247.13,118.38 L248.10,118.38 L249.06,118.38 L250.02,118.38 L250.99,118.37 L251.95,118.37 L252.92,118.36 L253.88,118.36 L254.84,118.35 L255.81,118.34 L256.77,118.33 L257.74,118.32 L258.70,118.31 L259.66,118.29 L260.63,118.27 L261.59,118.25 L262.56,118.23 L263.52,118.20 L264.48,118.17 L265.45,118.13 L266.41,118.09 L267.37,118.04 L268.34,117.98 L269.30,117.91 L270.27,117.84 L271.23,117.75 L272.19,117.64 L273.16,117.52 L274.12,117.38 L275.09,117.21 L276.05,117.03 L277.01,116.81 L277.98,116.55 L278.94,116.26 L279.90,115.92 L280.87,115.53 L281.83,115.09 L282.80,114.57 L283.76,113.98 L284.72,113.30 L285.69,112.52 L286.65,111.64 L287.62,110.63 L288.58,109.48 L289.54,108.19 L290.51,106.73 L291.47,105.09 L292.44,103.27 L293.40,101.24 L294.36,99.01 L295.33,96.56 L296.29,93.90 L297.25,91.03 L298.22,87.96 L299.18,84.71 L300.15,81.29 L301.11,77.75 L302.07,74.11 L303.04,70.41 L304.00,66.69 L304.97,63.00 L305.93,59.36 L306.89,55.84 L307.86,52.44 L308.82,49.21 L309.78,46.17 L310.75,43.33 L311.71,40.69 L312.68,38.27 L313.64,36.07 L314.60,34.07 L315.57,32.27 L316.53,30.66 L317.50,29.23 L318.46,27.95 L319.42,26.83 L320.39,25.84 L321.35,24.97 L322.32,24.20 L323.28,23.54 L324.24,22.96 L325.21,22.45 L326.17,22.01 L327.13,21.63 L328.10,21.30 L329.06,21.01 L330.03,20.76 L330.99,20.55 L331.95,20.36 L332.92,20.20 L333.88,20.06 L334.85,19.94 L335.81,19.84 L336.77,19.75 L337.74,19.68 L338.70,19.61 L339.66,19.55 L340.63,19.50 L341.59,19.46 L342.56,19.43 L343.52,19.39 L344.48,19.37 L345.45,19.34 L346.41,19.32 L347.38,19.31 L348.34,19.29 L349.30,19.28 L350.27,19.27 L351.23,19.26 L352.20,19.25 L353.16,19.24 L354.12,19.24 L355.09,19.23 L356.05,19.23 L357.01,19.22" stroke="#f01010" stroke-width="0.8" opacity="0.85"/>
<path d="M241.35,118.26 L242.31,118.24 L243.28,118.21 L244.24,118.19 L245.21,118.16 L246.17,118.13 L247.13,118.09 L248.10,118.05 L249.06,118.01 L250.02,117.95 L250.99,117.89 L251.95,117.83 L252.92,117.75 L253.88,117.66 L254.84,117.56 L255.81,117.45 L256.77,117.33 L257.74,117.19 L258.70,117.03 L259.66,116.85 L260.63,116.64 L261.59,116.41 L262.56,116.15 L263.52,115.86 L264.48,115.52 L265.45,115.15 L266.41,114.73 L267.37,114.26 L268.34,113.73 L269.30,113.14 L270.27,112.48 L271.23,111.74 L272.19,110.91 L273.16,110.00 L274.12,108.98 L275.09,107.85 L276.05,106.61 L277.01,105.23 L277.98,103.73 L278.94,102.09 L279.90,100.30 L280.87,98.37 L281.83,96.28 L282.80,94.05 L283.76,91.66 L284.72,89.14 L285.69,86.48 L286.65,83.70 L287.62,80.81 L288.58,77.84 L289.54,74.79 L290.51,71.70 L291.47,68.58 L292.44,65.47 L293.40,62.38 L294.36,59.35 L295.33,56.38 L296.29,53.51 L297.25,50.74 L298.22,48.10 L299.18,45.60 L300.15,43.23 L301.11,41.02 L302.07,38.95 L303.04,37.04 L304.00,35.27 L304.97,33.65 L305.93,32.17 L306.89,30.82 L307.86,29.59 L308.82,28.47 L309.78,27.47 L310.75,26.57 L311.71,25.75 L312.68,25.02 L313.64,24.37 L314.60,23.79 L315.57,23.27 L316.53,22.81 L317.50,22.39 L318.46,22.03 L319.42,21.70 L320.39,21.41 L321.35,21.16 L322.32,20.93 L323.28,20.73 L324.24,20.55 L325.21,20.39 L326.17,20.25 L327.13,20.13 L328.10,20.02 L329.06,19.92 L330.03,19.84 L330.99,19.76 L331.95,19.70 L332.92,19.64 L333.88,19.59 L334.85,19.54 L335.81,19.50 L336.77,19.47 L337.74,19.43 L338.70,19.41 L339.66,19.38 L340.63,19.36 L341.59,19.34 L342.56,19.33 L343.52,19.31 L344.48,19.30 L345.45,19.29 L346.41,19.28 L347.38,19.27 L348.34,19.26 L349.30,19.25 L350.27,19.25 L351.23,19.24 L352.20,19.24 L353.16,19.23 L354.12,19.23 L355.09,19.22 L356.05,19.22 L357.01,19.22" stroke="#f01010" stroke-width="0.8" opacity="0.85"/>
<path d="M241.35,118.35 L242.31,118.34 L243.28,118.34 L244.24,118.33 L245.21,118.32 L246.17,118.30 L247.13,118.29 L248.10,118.27 L249.06,118.25 L250.02,118.23 L250.99,118.21 L251.95,118.18 L252.92,118.14 L253.88,118.11 L254.84,118.06 L255.81,118.01 L256.77,117.96 L257.74,117.89 L258.70,117.81 L259.66,117.73 L260.63,117.63 L261.59,117.52 L262.56,117.39 L263.52,117.24 L264.48,117.07 L265.45,116.87 L266.41,116.65 L267.37,116.39 L268.34,116.10 L269.30,115.77 L270.27,115.39 L271.23,114.96 L272.19,114.47 L273.16,113.92 L274.12,113.29 L275.09,112.57 L276.05,111.77 L277.01,110.86 L277.98,109.84 L278.94,108.69 L279.90,107.41 L280.87,105.98 L281.83,104.40 L282.80,102.65 L283.76,100.73 L284.72,98.64 L285.69,96.35 L286.65,93.89 L287.62,91.25 L288.58,88.44 L289.54,85.47 L290.51,82.36 L291.47,79.13 L292.44,75.81 L293.40,72.42 L294.36,68.99 L295.33,65.57 L296.29,62.17 L297.25,58.84 L298.22,55.60 L299.18,52.47 L300.15,49.49 L301.11,46.66 L302.07,44.00 L303.04,41.51 L304.00,39.21 L304.97,37.09 L305.93,35.15 L306.89,33.39 L307.86,31.79 L308.82,30.34 L309.78,29.05 L310.75,27.89 L311.71,26.85 L312.68,25.93 L313.64,25.11 L314.60,24.39 L315.57,23.75 L316.53,23.18 L317.50,22.69 L318.46,22.25 L319.42,21.87 L320.39,21.53 L321.35,21.24 L322.32,20.98 L323.28,20.75 L324.24,20.55 L325.21,20.38 L326.17,20.23 L327.13,20.10 L328.10,19.98 L329.06,19.88 L330.03,19.79 L330.99,19.72 L331.95,19.65 L332.92,19.59 L333.88,19.54 L334.85,19.50 L335.81,19.46 L336.77,19.43 L337.74,19.40 L338.70,19.37 L339.66,19.35 L340.63,19.33 L341.59,19.31 L342.56,19.30 L343.52,19.29 L344.48,19.28 L345.45,19.27 L346.41,19.26 L347.38,19.25 L348.34,19.24 L349.30,19.24 L350.27,19.23 L351.23,19.23 L352.20,19.22 L353.16,19.22 L354.12,19.22 L355.09,19.22 L356.05,19.21 L357.01,19.21" stroke="#f01010" stroke-width="0.8" opacity="0.85"/>
<path d="M241.35,118.35 L242.31,118.34 L243.28,118.33 L244.24,118.32 L245.21,118.30 L246.17,118.29 L247.13,118.27 L248.10,118.25 L249.06,118.22 L250.02,118.19 L250.99,118.16 L251.95,118.12 L252.92,118.07 L253.88,118.02 L254.84,117.96 L255.81,117.89 L256.77,117.80 L257.74,117.71 L258.70,117.60 L259.66,117.47 L260.63,117.32 L261.59,117.14 L262.56,116.94 L263.52,116.70 L264.48,116.43 L265.45,116.12 L266.41,115.76 L267.37,115.34 L268.34,114.86 L269.30,114.31 L270.27,113.68 L271.23,112.95 L272.19,112.12 L273.16,111.17 L274.12,110.09 L275.09,108.86 L276.05,107.48 L277.01,105.93 L277.98,104.18 L278.94,102.25 L279.90,100.10 L280.87,97.74 L281.83,95.16 L282.80,92.37 L283.76,89.37 L284.72,86.18 L285.69,82.81 L286.65,79.30 L287.62,75.67 L288.58,71.97 L289.54,68.23 L290.51,64.50 L291.47,60.81 L292.44,57.22 L293.40,53.75 L294.36,50.43 L295.33,47.29 L296.29,44.36 L297.25,41.63 L298.22,39.12 L299.18,36.82 L300.15,34.74 L301.11,32.86 L302.07,31.18 L303.04,29.68 L304.00,28.35 L304.97,27.17 L305.93,26.13 L306.89,25.22 L307.86,24.42 L308.82,23.72 L309.78,23.11 L310.75,22.58 L311.71,22.12 L312.68,21.72 L313.64,21.38 L314.60,21.08 L315.57,20.82 L316.53,20.60 L317.50,20.40 L318.46,20.24 L319.42,20.09 L320.39,19.97 L321.35,19.86 L322.32,19.77 L323.28,19.69 L324.24,19.62 L325.21,19.56 L326.17,19.51 L327.13,19.47 L328.10,19.43 L329.06,19.40 L330.03,19.37 L330.99,19.35 L331.95,19.33 L332.92,19.31 L333.88,19.29 L334.85,19.28 L335.81,19.27 L336.77,19.26 L337.74,19.25 L338.70,19.24 L339.66,19.24 L340.63,19.23 L341.59,19.23 L342.56,19.22 L343.52,19.22 L344.48,19.22 L345.45,19.22 L346.41,19.21 L347.38,19.21 L348.34,19.21 L349.30,19.21 L350.27,19.21 L351.23,19.21 L352.20,19.21 L353.16,19.20 L354.12,19.20 L355.09,19.20 L356.05,19.20 L357.01,19.20" stroke="#f01010" stroke-width="0.8" opacity="0.85"/>
<path d="M241.35,118.38 L242.31,118.38 L243.28,118.38 L244.24,118.37 L245.21,118.37 L246.17,118.36 L247.13,118.36 L248.10,118.35 L249.06,118.35 L250.02,118.34 L250.99,118.33 L251.95,118.32 L252.92,118.31 L253.88,118.30 L254.84,118.29 L255.81,118.27 L256.77,118.26 L257.74,118.24 L258.70,118.21 L259.66,118.19 L260.63,118.16 L261.59,118.13 L262.56,118.09 L263.52,118.05 L264.48,118.00 L265.45,117.95 L266.41,117.89 L267.37,117.82 L268.34,117.74 L269.30,117.65 L270.27,117.55 L271.23,117.44 L272.19,117.31 L273.16,117.17 L274.12,117.00 L275.09,116.82 L276.05,116.61 L277.01,116.37 L277.98,116.11 L278.94,115.80 L279.90,115.46 L280.87,115.08 L281.83,114.65 L282.80,114.17 L283.76,113.62 L284.72,113.01 L285.69,112.33 L286.65,111.56 L287.62,110.71 L288.58,109.77 L289.54,108.71 L290.51,107.55 L291.47,106.26 L292.44,104.85 L293.40,103.30 L294.36,101.60 L295.33,99.76 L296.29,97.77 L297.25,95.62 L298.22,93.32 L299.18,90.88 L300.15,88.29 L301.11,85.57 L302.07,82.73 L303.04,79.79 L304.00,76.76 L304.97,73.68 L305.93,70.55 L306.89,67.41 L307.86,64.28 L308.82,61.19 L309.78,58.16 L310.75,55.20 L311.71,52.35 L312.68,49.62 L313.64,47.01 L314.60,44.55 L315.57,42.24 L316.53,40.07 L317.50,38.06 L318.46,36.20 L319.42,34.49 L320.39,32.92 L321.35,31.49 L322.32,30.19 L323.28,29.02 L324.24,27.95 L325.21,26.99 L326.17,26.13 L327.13,25.36 L328.10,24.66 L329.06,24.05 L330.03,23.49 L330.99,23.00 L331.95,22.57 L332.92,22.18 L333.88,21.83 L334.85,21.53 L335.81,21.26 L336.77,21.02 L337.74,20.80 L338.70,20.62 L339.66,20.45 L340.63,20.30 L341.59,20.17 L342.56,20.06 L343.52,19.96 L344.48,19.87 L345.45,19.79 L346.41,19.72 L347.38,19.66 L348.34,19.60 L349.30,19.56 L350.27,19.51 L351.23,19.48 L352.20,19.44 L353.16,19.41 L354.12,19.39 L355.09,19.37 L356.05,19.35 L357.01,19.33" stroke="#f01010" stroke-width="0.8" opacity="0.85"/>
<path d="M241.35,118.40 L242.31,118.40 L243.28,118.40 L244.24,118.39 L245.21,118.39 L246.17,118.39 L247.13,118.39 L248.10,118.39 L249.06,118.39 L250.02,118.39 L250.99,118.39 L251.95,118.38 L252.92,118.38 L253.88,118.38 L254.84,118.38 L255.81,118.37 L256.77,118.37 L257.74,118.36 L258.70,118.36 L259.66,118.35 L260.63,118.34 L261.59,118.34 L262.56,118.33 L263.52,118.32 L264.48,118.30 L265.45,118.29 L266.41,118.27 L267.37,118.25 L268.34,118.23 L269.30,118.21 L270.27,118.18 L271.23,118.15 L272.19,118.11 L273.16,118.06 L274.12,118.01 L275.09,117.96 L276.05,117.89 L277.01,117.81 L277.98,117.73 L278.94,117.63 L279.90,117.51 L280.87,117.38 L281.83,117.23 L282.80,117.06 L283.76,116.86 L284.72,116.64 L285.69,116.38 L286.65,116.08 L287.62,115.75 L288.58,115.36 L289.54,114.92 L290.51,114.42 L291.47,113.86 L292.44,113.21 L293.40,112.49 L294.36,111.66 L295.33,110.73 L296.29,109.69 L297.25,108.52 L298.22,107.21 L299.18,105.75 L300.15,104.13 L301.11,102.34 L302.07,100.38 L303.04,98.23 L304.00,95.90 L304.97,93.39 L305.93,90.70 L306.89,87.83 L307.86,84.81 L308.82,81.65 L309.78,78.38 L310.75,75.01 L311.71,71.59 L312.68,68.14 L313.64,64.70 L314.60,61.29 L315.57,57.96 L316.53,54.72 L317.50,51.61 L318.46,48.65 L319.42,45.85 L320.39,43.23 L321.35,40.78 L322.32,38.52 L323.28,36.45 L324.24,34.55 L325.21,32.83 L326.17,31.28 L327.13,29.88 L328.10,28.62 L329.06,27.50 L330.03,26.50 L330.99,25.61 L331.95,24.82 L332.92,24.13 L333.88,23.52 L334.85,22.98 L335.81,22.50 L336.77,22.09 L337.74,21.72 L338.70,21.40 L339.66,21.12 L340.63,20.87 L341.59,20.66 L342.56,20.47 L343.52,20.31 L344.48,20.17 L345.45,20.04 L346.41,19.93 L347.38,19.84 L348.34,19.76 L349.30,19.68 L350.27,19.62 L351.23,19.57 L352.20,19.52 L353.16,19.48 L354.12,19.44 L355.09,19.41 L356.05,19.38 L357.01,19.36" stroke="#f01010" stroke-width="0.8" opacity="0.85"/>
<path d="M241.35,118.39 L242.31,118.39 L243.28,118.39 L244.24,118.39 L245.21,118.39 L246.17,118.38 L247.13,118.38 L248.10,118.38 L249.06,118.38 L250.02,118.37 L250.99,118.37 L251.95,118.36 L252.92,118.35 L253.88,118.35 L254.84,118.34 L255.81,118.33 L256.77,118.32 L257.74,118.30 L258.70,118.29 L259.66,118.27 L260.63,118.25 L261.59,118.22 L262.56,118.19 L263.52,118.16 L264.48,118.12 L265.45,118.07 L266.41,118.02 L267.37,117.96 L268.34,117.89 L269.30,117.80 L270.27,117.70 L271.23,117.59 L272.19,117.46 L273.16,117.31 L274.12,117.13 L275.09,116.92 L276.05,116.69 L277.01,116.41 L277.98,116.09 L278.94,115.72 L279.90,115.30 L280.87,114.81 L281.83,114.24 L282.80,113.59 L283.76,112.85 L284.72,112.00 L285.69,111.03 L286.65,109.92 L287.62,108.67 L288.58,107.25 L289.54,105.66 L290.51,103.87 L291.47,101.89 L292.44,99.69 L293.40,97.28 L294.36,94.64 L295.33,91.79 L296.29,88.73 L297.25,85.48 L298.22,82.06 L299.18,78.50 L300.15,74.83 L301.11,71.09 L302.07,67.33 L303.04,63.58 L304.00,59.89 L304.97,56.31 L305.93,52.85 L306.89,49.56 L307.86,46.46 L308.82,43.56 L309.78,40.88 L310.75,38.42 L311.71,36.17 L312.68,34.14 L313.64,32.32 L314.60,30.68 L315.57,29.23 L316.53,27.94 L317.50,26.80 L318.46,25.80 L319.42,24.93 L320.39,24.16 L321.35,23.49 L322.32,22.91 L323.28,22.40 L324.24,21.96 L325.21,21.58 L326.17,21.26 L327.13,20.97 L328.10,20.73 L329.06,20.51 L330.03,20.33 L330.99,20.17 L331.95,20.04 L332.92,19.92 L333.88,19.82 L334.85,19.73 L335.81,19.66 L336.77,19.59 L337.74,19.54 L338.70,19.49 L339.66,19.45 L340.63,19.41 L341.59,19.38 L342.56,19.36 L343.52,19.34 L344.48,19.32 L345.45,19.30 L346.41,19.29 L347.38,19.27 L348.34,19.26 L349.30,19.25 L350.27,19.25 L351.23,19.24 L352.20,19.23 L353.16,19.23 L354.12,19.23 L355.09,19.22 L356.05,19.22 L357.01,19.22" stroke="#f01010" stroke-width="0.8" opacity="0.85"/>
<path d="M241.35,118.30 L242.31,118.28 L243.28,118.26 L244.24,118.25 L245.21,118.23 L246.17,118.20 L247.13,118.17 L248.10,118.14 L249.06,118.11 L250.02,118.07 L250.99,118.03 L251.95,117.97 L252.92,117.92 L253.88,117.85 L254.84,117.78 L255.81,117.69 L256.77,117.60 L257.74,117.49 L258.70,117.37 L259.66,117.23 L260.63,117.07 L261.59,116.89 L262.56,116.69 L263.52,116.46 L264.48,116.21 L265.45,115.91 L266.41,115.59 L267.37,115.22 L268.34,114.80 L269.30,114.33 L270.27,113.80 L271.23,113.21 L272.19,112.54 L273.16,111.80 L274.12,110.97 L275.09,110.04 L276.05,109.01 L277.01,107.87 L277.98,106.61 L278.94,105.22 L279.90,103.69 L280.87,102.02 L281.83,100.20 L282.80,98.22 L283.76,96.10 L284.72,93.81 L285.69,91.38 L286.65,88.80 L287.62,86.08 L288.58,83.24 L289.54,80.30 L290.51,77.26 L291.47,74.16 L292.44,71.02 L293.40,67.86 L294.36,64.70 L295.33,61.58 L296.29,58.52 L297.25,55.53 L298.22,52.65 L299.18,49.88 L300.15,47.25 L301.11,44.75 L302.07,42.41 L303.04,40.22 L304.00,38.18 L304.97,36.30 L305.93,34.57 L306.89,32.98 L307.86,31.54 L308.82,30.23 L309.78,29.04 L310.75,27.96 L311.71,26.99 L312.68,26.13 L313.64,25.35 L314.60,24.65 L315.57,24.03 L316.53,23.48 L317.50,22.98 L318.46,22.55 L319.42,22.16 L320.39,21.81 L321.35,21.51 L322.32,21.24 L323.28,21.00 L324.24,20.79 L325.21,20.60 L326.17,20.43 L327.13,20.29 L328.10,20.16 L329.06,20.04 L330.03,19.94 L330.99,19.86 L331.95,19.78 L332.92,19.71 L333.88,19.65 L334.85,19.59 L335.81,19.55 L336.77,19.51 L337.74,19.47 L338.70,19.44 L339.66,19.41 L340.63,19.38 L341.59,19.36 L342.56,19.34 L343.52,19.33 L344.48,19.31 L345.45,19.30 L346.41,19.29 L347.38,19.28 L348.34,19.27 L349.30,19.26 L350.27,19.25 L351.23,19.25 L352.20,19.24 L353.16,19.24 L354.12,19.23 L355.09,19.23 L356.05,19.22 L357.01,19.22" stroke="#f01010" stroke-width="0.8" opacity="0.85"/>
<path d="M241.35,118.36 L242.31,118.36 L243.28,118.35 L244.24,118.34 L245.21,118.33 L246.17,118.32 L247.13,118.31 L248.10,118.30 L249.06,118.28 L250.02,118.26 L250.99,118.24 L251.95,118.22 L252.92,118.19 L253.88,118.16 L254.84,118.12 L255.81,118.08 L256.77,118.03 L257.74,117.98 L258.70,117.92 L259.66,117.84 L260.63,117.76 L261.59,117.67 L262.56,117.56 L263.52,117.43 L264.48,117.29 L265.45,117.12 L266.41,116.93 L267.37,116.71 L268.34,116.46 L269.30,116.18 L270.27,115.85 L271.23,115.48 L272.19,115.06 L273.16,114.57 L274.12,114.02 L275.09,113.40 L276.05,112.69 L277.01,111.89 L277.98,110.98 L278.94,109.96 L279.90,108.81 L280.87,107.52 L281.83,106.09 L282.80,104.50 L283.76,102.74 L284.72,100.80 L285.69,98.67 L286.65,96.37 L287.62,93.87 L288.58,91.19 L289.54,88.34 L290.51,85.32 L291.47,82.16 L292.44,78.88 L293.40,75.51 L294.36,72.07 L295.33,68.60 L296.29,65.13 L297.25,61.69 L298.22,58.33 L299.18,55.06 L300.15,51.92 L301.11,48.92 L302.07,46.09 L303.04,43.43 L304.00,40.96 L304.97,38.67 L305.93,36.57 L306.89,34.65 L307.86,32.91 L308.82,31.33 L309.78,29.92 L310.75,28.65 L311.71,27.52 L312.68,26.51 L313.64,25.62 L314.60,24.82 L315.57,24.13 L316.53,23.51 L317.50,22.97 L318.46,22.49 L319.42,22.07 L320.39,21.71 L321.35,21.39 L322.32,21.11 L323.28,20.86 L324.24,20.65 L325.21,20.46 L326.17,20.30 L327.13,20.15 L328.10,20.03 L329.06,19.92 L330.03,19.83 L330.99,19.75 L331.95,19.68 L332.92,19.61 L333.88,19.56 L334.85,19.51 L335.81,19.47 L336.77,19.44 L337.74,19.41 L338.70,19.38 L339.66,19.36 L340.63,19.34 L341.59,19.32 L342.56,19.30 L343.52,19.29 L344.48,19.28 L345.45,19.27 L346.41,19.26 L347.38,19.25 L348.34,19.24 L349.30,19.24 L350.27,19.23 L351.23,19.23 L352.20,19.23 L353.16,19.22 L354.12,19.22 L355.09,19.22 L356.05,19.21 L357.01,19.21" stroke="#f01010" stroke-width="0.8" opacity="0.85"/>
<path d="M241.35,118.38 L242.31,118.38 L243.28,118.37 L244.24,118.37 L245.21,118.36 L246.17,118.36 L247.13,118.35 L248.10,118.34 L249.06,118.33 L250.02,118.32 L250.99,118.31 L251.95,118.30 L252.92,118.28 L253.88,118.26 L254.84,118.24 L255.81,118.21 L256.77,118.18 L257.74,118.14 L258.70,118.10 L259.66,118.05 L260.63,117.99 L261.59,117.93 L262.56,117.85 L263.52,117.76 L264.48,117.65 L265.45,117.53 L266.41,117.39 L267.37,117.22 L268.34,117.03 L269.30,116.81 L270.27,116.55 L271.23,116.25 L272.19,115.91 L273.16,115.51 L274.12,115.04 L275.09,114.51 L276.05,113.90 L277.01,113.20 L277.98,112.39 L278.94,111.47 L279.90,110.41 L280.87,109.22 L281.83,107.86 L282.80,106.34 L283.76,104.62 L284.72,102.71 L285.69,100.58 L286.65,98.24 L287.62,95.67 L288.58,92.88 L289.54,89.88 L290.51,86.68 L291.47,83.30 L292.44,79.76 L293.40,76.10 L294.36,72.36 L295.33,68.58 L296.29,64.80 L297.25,61.07 L298.22,57.42 L299.18,53.90 L300.15,50.54 L301.11,47.36 L302.07,44.38 L303.04,41.62 L304.00,39.08 L304.97,36.76 L305.93,34.66 L306.89,32.77 L307.86,31.08 L308.82,29.57 L309.78,28.24 L310.75,27.06 L311.71,26.02 L312.68,25.11 L313.64,24.32 L314.60,23.62 L315.57,23.02 L316.53,22.50 L317.50,22.04 L318.46,21.65 L319.42,21.31 L320.39,21.02 L321.35,20.76 L322.32,20.55 L323.28,20.36 L324.24,20.19 L325.21,20.06 L326.17,19.93 L327.13,19.83 L328.10,19.74 L329.06,19.67 L330.03,19.60 L330.99,19.54 L331.95,19.50 L332.92,19.45 L333.88,19.42 L334.85,19.39 L335.81,19.36 L336.77,19.34 L337.74,19.32 L338.70,19.30 L339.66,19.29 L340.63,19.27 L341.59,19.26 L342.56,19.26 L343.52,19.25 L344.48,19.24 L345.45,19.23 L346.41,19.23 L347.38,19.23 L348.34,19.22 L349.30,19.22 L350.27,19.22 L351.23,19.21 L352.20,19.21 L353.16,19.21 L354.12,19.21 L355.09,19.21 L356.05,19.21 L357.01,19.21" stroke="#f01010" stroke-width="0.8" opacity="0.85"/>
<path d="M241.35,118.28 L242.31,118.26 L243.28,118.24 L244.24,118.22 L245.21,118.20 L246.17,118.17 L247.13,118.14 L248.10,118.10 L249.06,118.06 L250.02,118.02 L250.99,117.96 L251.95,117.90 L252.92,117.84 L253.88,117.76 L254.84,117.67 L255.81,117.57 L256.77,117.46 L257.74,117.33 L258.70,117.19 L259.66,117.03 L260.63,116.84 L261.59,116.63 L262.56,116.39 L263.52,116.12 L264.48,115.82 L265.45,115.47 L266.41,115.09 L267.37,114.65 L268.34,114.16 L269.30,113.60 L270.27,112.98 L271.23,112.29 L272.19,111.51 L273.16,110.63 L274.12,109.66 L275.09,108.58 L276.05,107.39 L277.01,106.07 L277.98,104.61 L278.94,103.01 L279.90,101.27 L280.87,99.37 L281.83,97.31 L282.80,95.10 L283.76,92.73 L284.72,90.21 L285.69,87.55 L286.65,84.75 L287.62,81.84 L288.58,78.83 L289.54,75.74 L290.51,72.59 L291.47,69.41 L292.44,66.22 L293.40,63.06 L294.36,59.95 L295.33,56.90 L296.29,53.95 L297.25,51.10 L298.22,48.39 L299.18,45.81 L300.15,43.39 L301.11,41.11 L302.07,39.00 L303.04,37.04 L304.00,35.24 L304.97,33.58 L305.93,32.08 L306.89,30.70 L307.86,29.46 L308.82,28.34 L309.78,27.32 L310.75,26.42 L311.71,25.60 L312.68,24.87 L313.64,24.22 L314.60,23.65 L315.57,23.13 L316.53,22.67 L317.50,22.27 L318.46,21.91 L319.42,21.59 L320.39,21.31 L321.35,21.06 L322.32,20.84 L323.28,20.64 L324.24,20.47 L325.21,20.32 L326.17,20.19 L327.13,20.07 L328.10,19.96 L329.06,19.87 L330.03,19.79 L330.99,19.72 L331.95,19.66 L332.92,19.60 L333.88,19.56 L334.85,19.51 L335.81,19.47 L336.77,19.44 L337.74,19.41 L338.70,19.39 L339.66,19.36 L340.63,19.34 L341.59,19.33 L342.56,19.31 L343.52,19.30 L344.48,19.29 L345.45,19.28 L346.41,19.27 L347.38,19.26 L348.34,19.25 L349.30,19.25 L350.27,19.24 L351.23,19.24 L352.20,19.23 L353.16,19.23 L354.12,19.22 L355.09,19.22 L356.05,19.22 L357.01,19.22" stroke="#f01010" stroke-width="0.8" opacity="0.85"/>
<clipPath id="clipB"><rect x="200" y="27" width="200" height="82"/></clipPath>
<g clip-path="url(#clipB)">
<path d="M241.35,118.29 L242.31,118.27 L243.28,118.26 L244.24,118.24 L245.21,118.21 L246.17,118.19 L247.13,118.16 L248.10,118.13 L249.06,118.09 L250.02,118.05 L250.99,118.00 L251.95,117.94 L252.92,117.88 L253.88,117.81 L254.84,117.73 L255.81,117.63 L256.77,117.53 L257.74,117.41 L258.70,117.28 L259.66,117.12 L260.63,116.95 L261.59,116.75 L262.56,116.53 L263.52,116.28 L264.48,115.99 L265.45,115.67 L266.41,115.30 L267.37,114.89 L268.34,114.43 L269.30,113.91 L270.27,113.32 L271.23,112.66 L272.19,111.92 L273.16,111.09 L274.12,110.17 L275.09,109.14 L276.05,108.00 L277.01,106.73 L277.98,105.33 L278.94,103.80 L279.90,102.12 L280.87,100.28 L281.83,98.29 L282.80,96.14 L283.76,93.84 L284.72,91.37 L285.69,88.76 L286.65,86.01 L287.62,83.13 L288.58,80.15 L289.54,77.07 L290.51,73.93 L291.47,70.75 L292.44,67.54 L293.40,64.35 L294.36,61.20 L295.33,58.11 L296.29,55.10 L297.25,52.20 L298.22,49.42 L299.18,46.78 L300.15,44.28 L301.11,41.94 L302.07,39.76 L303.04,37.73 L304.00,35.87 L304.97,34.15 L305.93,32.58 L306.89,31.16 L307.86,29.87 L308.82,28.70 L309.78,27.65 L310.75,26.70 L311.71,25.85 L312.68,25.09 L313.64,24.42 L314.60,23.82 L315.57,23.28 L316.53,22.80 L317.50,22.38 L318.46,22.01 L319.42,21.68 L320.39,21.38 L321.35,21.12 L322.32,20.89 L323.28,20.69 L324.24,20.51 L325.21,20.36 L326.17,20.22 L327.13,20.10 L328.10,19.99 L329.06,19.89 L330.03,19.81 L330.99,19.74 L331.95,19.67 L332.92,19.61 L333.88,19.56 L334.85,19.52 L335.81,19.48 L336.77,19.45 L337.74,19.42 L338.70,19.39 L339.66,19.37 L340.63,19.35 L341.59,19.33 L342.56,19.31 L343.52,19.30 L344.48,19.29 L345.45,19.28 L346.41,19.27 L347.38,19.26 L348.34,19.25 L349.30,19.25 L350.27,19.24 L351.23,19.24 L352.20,19.23 L353.16,19.23 L354.12,19.22 L355.09,19.22 L356.05,19.22 L357.01,19.22" stroke="#5454c8" stroke-width="0.85" stroke-dasharray="2.2,1.3"/>
<path d="M241.35,118.37 L242.31,118.37 L243.28,118.37 L244.24,118.36 L245.21,118.35 L246.17,118.35 L247.13,118.34 L248.10,118.33 L249.06,118.32 L250.02,118.31 L250.99,118.29 L251.95,118.27 L252.92,118.25 L253.88,118.23 L254.84,118.20 L255.81,118.17 L256.77,118.13 L257.74,118.09 L258.70,118.04 L259.66,117.99 L260.63,117.92 L261.59,117.85 L262.56,117.76 L263.52,117.66 L264.48,117.55 L265.45,117.41 L266.41,117.26 L267.37,117.08 L268.34,116.87 L269.30,116.64 L270.27,116.36 L271.23,116.05 L272.19,115.69 L273.16,115.27 L274.12,114.79 L275.09,114.25 L276.05,113.62 L277.01,112.91 L277.98,112.09 L278.94,111.17 L279.90,110.12 L280.87,108.93 L281.83,107.60 L282.80,106.10 L283.76,104.43 L284.72,102.57 L285.69,100.51 L286.65,98.26 L287.62,95.80 L288.58,93.13 L289.54,90.27 L290.51,87.21 L291.47,83.99 L292.44,80.62 L293.40,77.12 L294.36,73.55 L295.33,69.92 L296.29,66.27 L297.25,62.66 L298.22,59.11 L299.18,55.66 L300.15,52.34 L301.11,49.18 L302.07,46.20 L303.04,43.41 L304.00,40.82 L304.97,38.44 L305.93,36.27 L306.89,34.29 L307.86,32.50 L308.82,30.90 L309.78,29.47 L310.75,28.19 L311.71,27.06 L312.68,26.06 L313.64,25.18 L314.60,24.40 L315.57,23.73 L316.53,23.13 L317.50,22.61 L318.46,22.16 L319.42,21.77 L320.39,21.42 L321.35,21.13 L322.32,20.87 L323.28,20.64 L324.24,20.45 L325.21,20.28 L326.17,20.13 L327.13,20.01 L328.10,19.90 L329.06,19.80 L330.03,19.72 L330.99,19.65 L331.95,19.59 L332.92,19.54 L333.88,19.49 L334.85,19.45 L335.81,19.42 L336.77,19.39 L337.74,19.36 L338.70,19.34 L339.66,19.32 L340.63,19.30 L341.59,19.29 L342.56,19.28 L343.52,19.27 L344.48,19.26 L345.45,19.25 L346.41,19.24 L347.38,19.24 L348.34,19.23 L349.30,19.23 L350.27,19.22 L351.23,19.22 L352.20,19.22 L353.16,19.22 L354.12,19.21 L355.09,19.21 L356.05,19.21 L357.01,19.21" stroke="#5454c8" stroke-width="0.85" stroke-dasharray="2.2,1.3"/>
<path d="M241.35,118.25 L242.31,118.23 L243.28,118.21 L244.24,118.18 L245.21,118.14 L246.17,118.11 L247.13,118.06 L248.10,118.01 L249.06,117.96 L250.02,117.89 L250.99,117.82 L251.95,117.73 L252.92,117.64 L253.88,117.53 L254.84,117.40 L255.81,117.25 L256.77,117.09 L257.74,116.90 L258.70,116.68 L259.66,116.43 L260.63,116.15 L261.59,115.83 L262.56,115.46 L263.52,115.04 L264.48,114.57 L265.45,114.03 L266.41,113.42 L267.37,112.73 L268.34,111.96 L269.30,111.08 L270.27,110.09 L271.23,108.99 L272.19,107.75 L273.16,106.38 L274.12,104.85 L275.09,103.17 L276.05,101.31 L277.01,99.29 L277.98,97.08 L278.94,94.70 L279.90,92.14 L280.87,89.41 L281.83,86.52 L282.80,83.48 L283.76,80.32 L284.72,77.06 L285.69,73.72 L286.65,70.33 L287.62,66.93 L288.58,63.55 L289.54,60.22 L290.51,56.97 L291.47,53.82 L292.44,50.79 L293.40,47.92 L294.36,45.20 L295.33,42.66 L296.29,40.29 L297.25,38.11 L298.22,36.10 L299.18,34.26 L300.15,32.59 L301.11,31.08 L302.07,29.72 L303.04,28.50 L304.00,27.41 L304.97,26.43 L305.93,25.56 L306.89,24.79 L307.86,24.11 L308.82,23.51 L309.78,22.98 L310.75,22.51 L311.71,22.10 L312.68,21.74 L313.64,21.42 L314.60,21.14 L315.57,20.90 L316.53,20.68 L317.50,20.50 L318.46,20.33 L319.42,20.19 L320.39,20.06 L321.35,19.95 L322.32,19.86 L323.28,19.77 L324.24,19.70 L325.21,19.64 L326.17,19.58 L327.13,19.53 L328.10,19.49 L329.06,19.45 L330.03,19.42 L330.99,19.39 L331.95,19.37 L332.92,19.35 L333.88,19.33 L334.85,19.31 L335.81,19.30 L336.77,19.28 L337.74,19.27 L338.70,19.26 L339.66,19.26 L340.63,19.25 L341.59,19.24 L342.56,19.24 L343.52,19.23 L344.48,19.23 L345.45,19.22 L346.41,19.22 L347.38,19.22 L348.34,19.22 L349.30,19.21 L350.27,19.21 L351.23,19.21 L352.20,19.21 L353.16,19.21 L354.12,19.21 L355.09,19.21 L356.05,19.21 L357.01,19.20" stroke="#5454c8" stroke-width="0.85" stroke-dasharray="2.2,1.3"/>
<path d="M241.35,118.38 L242.31,118.38 L243.28,118.38 L244.24,118.37 L245.21,118.37 L246.17,118.36 L247.13,118.36 L248.10,118.35 L249.06,118.34 L250.02,118.33 L250.99,118.32 L251.95,118.30 L252.92,118.29 L253.88,118.27 L254.84,118.25 L255.81,118.22 L256.77,118.19 L257.74,118.16 L258.70,118.12 L259.66,118.07 L260.63,118.01 L261.59,117.95 L262.56,117.87 L263.52,117.79 L264.48,117.68 L265.45,117.57 L266.41,117.43 L267.37,117.27 L268.34,117.08 L269.30,116.86 L270.27,116.61 L271.23,116.31 L272.19,115.97 L273.16,115.58 L274.12,115.12 L275.09,114.59 L276.05,113.98 L277.01,113.28 L277.98,112.47 L278.94,111.54 L279.90,110.49 L280.87,109.28 L281.83,107.92 L282.80,106.37 L283.76,104.64 L284.72,102.70 L285.69,100.54 L286.65,98.16 L287.62,95.55 L288.58,92.71 L289.54,89.65 L290.51,86.39 L291.47,82.94 L292.44,79.34 L293.40,75.62 L294.36,71.81 L295.33,67.98 L296.29,64.15 L297.25,60.37 L298.22,56.70 L299.18,53.16 L300.15,49.79 L301.11,46.61 L302.07,43.65 L303.04,40.91 L304.00,38.39 L304.97,36.11 L305.93,34.04 L306.89,32.19 L307.86,30.54 L308.82,29.08 L309.78,27.78 L310.75,26.64 L311.71,25.64 L312.68,24.77 L313.64,24.01 L314.60,23.35 L315.57,22.77 L316.53,22.28 L317.50,21.85 L318.46,21.48 L319.42,21.16 L320.39,20.88 L321.35,20.64 L322.32,20.44 L323.28,20.26 L324.24,20.11 L325.21,19.98 L326.17,19.87 L327.13,19.77 L328.10,19.69 L329.06,19.62 L330.03,19.56 L330.99,19.51 L331.95,19.47 L332.92,19.43 L333.88,19.39 L334.85,19.37 L335.81,19.34 L336.77,19.32 L337.74,19.30 L338.70,19.29 L339.66,19.28 L340.63,19.27 L341.59,19.26 L342.56,19.25 L343.52,19.24 L344.48,19.24 L345.45,19.23 L346.41,19.23 L347.38,19.22 L348.34,19.22 L349.30,19.22 L350.27,19.21 L351.23,19.21 L352.20,19.21 L353.16,19.21 L354.12,19.21 L355.09,19.21 L356.05,19.21 L357.01,19.20" stroke="#5454c8" stroke-width="0.85" stroke-dasharray="2.2,1.3"/>
<path d="M241.35,118.36 L242.31,118.36 L243.28,118.35 L244.24,118.34 L245.21,118.33 L246.17,118.32 L247.13,118.31 L248.10,118.29 L249.06,118.28 L250.02,118.26 L250.99,118.24 L251.95,118.21 L252.92,118.18 L253.88,118.15 L254.84,118.11 L255.81,118.06 L256.77,118.01 L257.74,117.95 L258.70,117.88 L259.66,117.80 L260.63,117.71 L261.59,117.60 L262.56,117.48 L263.52,117.33 L264.48,117.17 L265.45,116.98 L266.41,116.76 L267.37,116.51 L268.34,116.22 L269.30,115.89 L270.27,115.51 L271.23,115.08 L272.19,114.58 L273.16,114.01 L274.12,113.36 L275.09,112.61 L276.05,111.77 L277.01,110.81 L277.98,109.73 L278.94,108.51 L279.90,107.15 L280.87,105.62 L281.83,103.91 L282.80,102.02 L283.76,99.94 L284.72,97.66 L285.69,95.18 L286.65,92.50 L287.62,89.63 L288.58,86.58 L289.54,83.37 L290.51,80.01 L291.47,76.55 L292.44,73.00 L293.40,69.41 L294.36,65.82 L295.33,62.26 L296.29,58.76 L297.25,55.36 L298.22,52.10 L299.18,48.99 L300.15,46.06 L301.11,43.31 L302.07,40.76 L303.04,38.42 L304.00,36.27 L304.97,34.31 L305.93,32.55 L306.89,30.96 L307.86,29.53 L308.82,28.27 L309.78,27.14 L310.75,26.14 L311.71,25.26 L312.68,24.49 L313.64,23.81 L314.60,23.21 L315.57,22.69 L316.53,22.23 L317.50,21.83 L318.46,21.48 L319.42,21.18 L320.39,20.92 L321.35,20.69 L322.32,20.49 L323.28,20.32 L324.24,20.17 L325.21,20.04 L326.17,19.93 L327.13,19.83 L328.10,19.75 L329.06,19.67 L330.03,19.61 L330.99,19.55 L331.95,19.51 L332.92,19.46 L333.88,19.43 L334.85,19.40 L335.81,19.37 L336.77,19.35 L337.74,19.33 L338.70,19.31 L339.66,19.30 L340.63,19.28 L341.59,19.27 L342.56,19.26 L343.52,19.25 L344.48,19.25 L345.45,19.24 L346.41,19.23 L347.38,19.23 L348.34,19.23 L349.30,19.22 L350.27,19.22 L351.23,19.22 L352.20,19.21 L353.16,19.21 L354.12,19.21 L355.09,19.21 L356.05,19.21 L357.01,19.21" stroke="#5454c8" stroke-width="0.85" stroke-dasharray="2.2,1.3"/>
<path d="M241.35,118.34 L242.31,118.33 L243.28,118.32 L244.24,118.31 L245.21,118.30 L246.17,118.28 L247.13,118.27 L248.10,118.25 L249.06,118.23 L250.02,118.20 L250.99,118.17 L251.95,118.14 L252.92,118.10 L253.88,118.06 L254.84,118.01 L255.81,117.96 L256.77,117.89 L257.74,117.82 L258.70,117.73 L259.66,117.64 L260.63,117.53 L261.59,117.41 L262.56,117.26 L263.52,117.10 L264.48,116.91 L265.45,116.70 L266.41,116.46 L267.37,116.19 L268.34,115.88 L269.30,115.52 L270.27,115.12 L271.23,114.66 L272.19,114.14 L273.16,113.55 L274.12,112.89 L275.09,112.14 L276.05,111.30 L277.01,110.36 L277.98,109.30 L278.94,108.12 L279.90,106.81 L280.87,105.35 L281.83,103.74 L282.80,101.96 L283.76,100.03 L284.72,97.91 L285.69,95.63 L286.65,93.17 L287.62,90.54 L288.58,87.75 L289.54,84.82 L290.51,81.75 L291.47,78.57 L292.44,75.31 L293.40,71.99 L294.36,68.64 L295.33,65.29 L296.29,61.97 L297.25,58.72 L298.22,55.55 L299.18,52.50 L300.15,49.57 L301.11,46.80 L302.07,44.19 L303.04,41.75 L304.00,39.48 L304.97,37.38 L305.93,35.46 L306.89,33.70 L307.86,32.11 L308.82,30.66 L309.78,29.36 L310.75,28.19 L311.71,27.15 L312.68,26.21 L313.64,25.38 L314.60,24.64 L315.57,23.99 L316.53,23.41 L317.50,22.89 L318.46,22.44 L319.42,22.04 L320.39,21.69 L321.35,21.38 L322.32,21.11 L323.28,20.88 L324.24,20.67 L325.21,20.48 L326.17,20.32 L327.13,20.18 L328.10,20.06 L329.06,19.95 L330.03,19.86 L330.99,19.77 L331.95,19.70 L332.92,19.64 L333.88,19.58 L334.85,19.54 L335.81,19.49 L336.77,19.46 L337.74,19.42 L338.70,19.40 L339.66,19.37 L340.63,19.35 L341.59,19.33 L342.56,19.31 L343.52,19.30 L344.48,19.29 L345.45,19.28 L346.41,19.27 L347.38,19.26 L348.34,19.25 L349.30,19.24 L350.27,19.24 L351.23,19.23 L352.20,19.23 L353.16,19.23 L354.12,19.22 L355.09,19.22 L356.05,19.22 L357.01,19.21" stroke="#5454c8" stroke-width="0.85" stroke-dasharray="2.2,1.3"/>
<path d="M241.35,118.37 L242.31,118.36 L243.28,118.36 L244.24,118.35 L245.21,118.34 L246.17,118.33 L247.13,118.32 L248.10,118.31 L249.06,118.29 L250.02,118.28 L250.99,118.26 L251.95,118.23 L252.92,118.21 L253.88,118.17 L254.84,118.14 L255.81,118.09 L256.77,118.04 L257.74,117.98 L258.70,117.91 L259.66,117.83 L260.63,117.74 L261.59,117.63 L262.56,117.51 L263.52,117.36 L264.48,117.19 L265.45,116.99 L266.41,116.77 L267.37,116.50 L268.34,116.19 L269.30,115.84 L270.27,115.43 L271.23,114.95 L272.19,114.40 L273.16,113.77 L274.12,113.05 L275.09,112.22 L276.05,111.27 L277.01,110.19 L277.98,108.96 L278.94,107.57 L279.90,106.00 L280.87,104.24 L281.83,102.28 L282.80,100.11 L283.76,97.71 L284.72,95.09 L285.69,92.25 L286.65,89.20 L287.62,85.95 L288.58,82.53 L289.54,78.95 L290.51,75.26 L291.47,71.50 L292.44,67.71 L293.40,63.93 L294.36,60.20 L295.33,56.57 L296.29,53.08 L297.25,49.75 L298.22,46.62 L299.18,43.68 L300.15,40.97 L301.11,38.48 L302.07,36.21 L303.04,34.16 L304.00,32.32 L304.97,30.67 L305.93,29.21 L306.89,27.91 L307.86,26.77 L308.82,25.77 L309.78,24.89 L310.75,24.12 L311.71,23.45 L312.68,22.87 L313.64,22.37 L314.60,21.93 L315.57,21.55 L316.53,21.22 L317.50,20.94 L318.46,20.70 L319.42,20.49 L320.39,20.31 L321.35,20.15 L322.32,20.02 L323.28,19.90 L324.24,19.80 L325.21,19.72 L326.17,19.65 L327.13,19.58 L328.10,19.53 L329.06,19.48 L330.03,19.44 L330.99,19.41 L331.95,19.38 L332.92,19.35 L333.88,19.33 L334.85,19.31 L335.81,19.30 L336.77,19.28 L337.74,19.27 L338.70,19.26 L339.66,19.25 L340.63,19.24 L341.59,19.24 L342.56,19.23 L343.52,19.23 L344.48,19.22 L345.45,19.22 L346.41,19.22 L347.38,19.22 L348.34,19.21 L349.30,19.21 L350.27,19.21 L351.23,19.21 L352.20,19.21 L353.16,19.21 L354.12,19.21 L355.09,19.20 L356.05,19.20 L357.01,19.20" stroke="#5454c8" stroke-width="0.85" stroke-dasharray="2.2,1.3"/>
<path d="M241.35,118.35 L242.31,118.34 L243.28,118.33 L244.24,118.32 L245.21,118.31 L246.17,118.29 L247.13,118.28 L248.10,118.26 L249.06,118.24 L250.02,118.21 L250.99,118.18 L251.95,118.15 L252.92,118.11 L253.88,118.07 L254.84,118.01 L255.81,117.95 L256.77,117.89 L257.74,117.81 L258.70,117.72 L259.66,117.61 L260.63,117.49 L261.59,117.36 L262.56,117.20 L263.52,117.01 L264.48,116.80 L265.45,116.56 L266.41,116.28 L267.37,115.97 L268.34,115.60 L269.30,115.19 L270.27,114.71 L271.23,114.17 L272.19,113.54 L273.16,112.84 L274.12,112.04 L275.09,111.13 L276.05,110.10 L277.01,108.95 L277.98,107.65 L278.94,106.20 L279.90,104.58 L280.87,102.79 L281.83,100.81 L282.80,98.64 L283.76,96.27 L284.72,93.71 L285.69,90.96 L286.65,88.03 L287.62,84.93 L288.58,81.69 L289.54,78.32 L290.51,74.85 L291.47,71.33 L292.44,67.78 L293.40,64.24 L294.36,60.74 L295.33,57.33 L296.29,54.03 L297.25,50.86 L298.22,47.86 L299.18,45.03 L300.15,42.39 L301.11,39.94 L302.07,37.69 L303.04,35.63 L304.00,33.76 L304.97,32.07 L305.93,30.55 L306.89,29.19 L307.86,27.97 L308.82,26.89 L309.78,25.93 L310.75,25.09 L311.71,24.34 L312.68,23.69 L313.64,23.11 L314.60,22.61 L315.57,22.17 L316.53,21.78 L317.50,21.44 L318.46,21.15 L319.42,20.90 L320.39,20.67 L321.35,20.48 L322.32,20.31 L323.28,20.16 L324.24,20.04 L325.21,19.92 L326.17,19.83 L327.13,19.75 L328.10,19.67 L329.06,19.61 L330.03,19.56 L330.99,19.51 L331.95,19.47 L332.92,19.43 L333.88,19.40 L334.85,19.37 L335.81,19.35 L336.77,19.33 L337.74,19.31 L338.70,19.30 L339.66,19.29 L340.63,19.27 L341.59,19.26 L342.56,19.26 L343.52,19.25 L344.48,19.24 L345.45,19.24 L346.41,19.23 L347.38,19.23 L348.34,19.22 L349.30,19.22 L350.27,19.22 L351.23,19.22 L352.20,19.21 L353.16,19.21 L354.12,19.21 L355.09,19.21 L356.05,19.21 L357.01,19.21" stroke="#5454c8" stroke-width="0.85" stroke-dasharray="2.2,1.3"/>
<path d="M241.35,118.23 L242.31,118.20 L243.28,118.17 L244.24,118.14 L245.21,118.10 L246.17,118.06 L247.13,118.01 L248.10,117.96 L249.06,117.90 L250.02,117.82 L250.99,117.74 L251.95,117.65 L252.92,117.54 L253.88,117.42 L254.84,117.28 L255.81,117.13 L256.77,116.95 L257.74,116.74 L258.70,116.51 L259.66,116.25 L260.63,115.95 L261.59,115.61 L262.56,115.22 L263.52,114.79 L264.48,114.29 L265.45,113.74 L266.41,113.11 L267.37,112.40 L268.34,111.60 L269.30,110.70 L270.27,109.70 L271.23,108.58 L272.19,107.34 L273.16,105.96 L274.12,104.43 L275.09,102.75 L276.05,100.91 L277.01,98.90 L277.98,96.73 L278.94,94.39 L279.90,91.88 L280.87,89.20 L281.83,86.38 L282.80,83.42 L283.76,80.35 L284.72,77.17 L285.69,73.93 L286.65,70.64 L287.62,67.33 L288.58,64.03 L289.54,60.78 L290.51,57.60 L291.47,54.51 L292.44,51.54 L293.40,48.70 L294.36,46.01 L295.33,43.48 L296.29,41.12 L297.25,38.93 L298.22,36.90 L299.18,35.04 L300.15,33.35 L301.11,31.81 L302.07,30.41 L303.04,29.15 L304.00,28.02 L304.97,27.00 L305.93,26.10 L306.89,25.29 L307.86,24.57 L308.82,23.93 L309.78,23.36 L310.75,22.86 L311.71,22.42 L312.68,22.03 L313.64,21.69 L314.60,21.38 L315.57,21.11 L316.53,20.88 L317.50,20.67 L318.46,20.49 L319.42,20.33 L320.39,20.19 L321.35,20.07 L322.32,19.96 L323.28,19.87 L324.24,19.78 L325.21,19.71 L326.17,19.65 L327.13,19.59 L328.10,19.54 L329.06,19.50 L330.03,19.46 L330.99,19.43 L331.95,19.40 L332.92,19.38 L333.88,19.35 L334.85,19.34 L335.81,19.32 L336.77,19.30 L337.74,19.29 L338.70,19.28 L339.66,19.27 L340.63,19.26 L341.59,19.25 L342.56,19.25 L343.52,19.24 L344.48,19.24 L345.45,19.23 L346.41,19.23 L347.38,19.22 L348.34,19.22 L349.30,19.22 L350.27,19.22 L351.23,19.21 L352.20,19.21 L353.16,19.21 L354.12,19.21 L355.09,19.21 L356.05,19.21 L357.01,19.21" stroke="#5454c8" stroke-width="0.85" stroke-dasharray="2.2,1.3"/>
</g>
</g>
<rect x="249.80" y="112.16" width="2.60" height="2.60" fill="#fff" fill-opacity="0.7" stroke="#ee1111" stroke-width="0.9"/>
<rect x="257.70" y="113.49" width="2.60" height="2.60" fill="#fff" fill-opacity="0.7" stroke="#ee1111" stroke-width="0.9"/>
<rect x="266.10" y="107.32" width="2.60" height="2.60" fill="#fff" fill-opacity="0.7" stroke="#ee1111" stroke-width="0.9"/>
<circle cx="278.40" cy="112.46" r="1.75" fill="#ee1111"/>
<circle cx="285.00" cy="100.38" r="1.75" fill="#ee1111"/>
<circle cx="292.00" cy="85.15" r="1.75" fill="#ee1111"/>
<circle cx="301.50" cy="56.28" r="1.75" fill="#ee1111"/>
<circle cx="314.20" cy="31.41" r="1.75" fill="#ee1111"/>
<circle cx="327.50" cy="19.51" r="1.75" fill="#ee1111"/>
<rect x="276.65" y="107.39" width="3.50" height="3.50" fill="#ee1111"/>
<rect x="283.25" y="103.06" width="3.50" height="3.50" fill="#ee1111"/>
<rect x="290.25" y="83.10" width="3.50" height="3.50" fill="#ee1111"/>
<rect x="299.75" y="50.55" width="3.50" height="3.50" fill="#ee1111"/>
<rect x="312.45" y="22.94" width="3.50" height="3.50" fill="#ee1111"/>
<circle cx="278.40" cy="112.19" r="1.30" fill="#fff" fill-opacity="0.7" stroke="#ee1111" stroke-width="0.9"/>
<circle cx="285.00" cy="98.83" r="1.30" fill="#fff" fill-opacity="0.7" stroke="#ee1111" stroke-width="0.9"/>
<circle cx="292.00" cy="77.75" r="1.30" fill="#fff" fill-opacity="0.7" stroke="#ee1111" stroke-width="0.9"/>
<circle cx="301.50" cy="48.33" r="1.30" fill="#fff" fill-opacity="0.7" stroke="#ee1111" stroke-width="0.9"/>
<circle cx="314.20" cy="26.14" r="1.30" fill="#fff" fill-opacity="0.7" stroke="#ee1111" stroke-width="0.9"/>
<circle cx="327.50" cy="21.47" r="1.30" fill="#fff" fill-opacity="0.7" stroke="#ee1111" stroke-width="0.9"/>
<circle cx="251.10" cy="115.23" r="1.30" fill="#fff" fill-opacity="0.7" stroke="#ee1111" stroke-width="0.9"/>
<circle cx="259.00" cy="114.96" r="1.30" fill="#fff" fill-opacity="0.7" stroke="#ee1111" stroke-width="0.9"/>
<circle cx="267.40" cy="111.72" r="1.30" fill="#fff" fill-opacity="0.7" stroke="#ee1111" stroke-width="0.9"/>
<circle cx="278.40" cy="94.95" r="1.75" fill="#ee1111"/>
<circle cx="285.00" cy="75.33" r="1.75" fill="#ee1111"/>
<circle cx="292.00" cy="51.23" r="1.75" fill="#ee1111"/>
<circle cx="301.50" cy="31.67" r="1.75" fill="#ee1111"/>
<path d="M276.35,84.68 L280.15,82.73 L280.15,86.63Z" fill="#ee1111"/>
<path d="M282.95,61.75 L286.75,59.80 L286.75,63.70Z" fill="#ee1111"/>
<path d="M289.95,40.63 L293.75,38.68 L293.75,42.58Z" fill="#ee1111"/>
<path d="M299.45,27.15 L303.25,25.20 L303.25,29.10Z" fill="#ee1111"/>
<path d="M312.15,21.09 L315.95,19.14 L315.95,23.04Z" fill="#ee1111"/>
<path d="M325.45,21.76 L329.25,19.81 L329.25,23.71Z" fill="#ee1111"/>
<rect x="276.65" y="106.68" width="3.50" height="3.50" fill="#ee1111"/>
<rect x="283.25" y="91.80" width="3.50" height="3.50" fill="#ee1111"/>
<rect x="290.25" y="65.72" width="3.50" height="3.50" fill="#ee1111"/>
<rect x="299.75" y="37.32" width="3.50" height="3.50" fill="#ee1111"/>
<rect x="312.45" y="23.26" width="3.50" height="3.50" fill="#ee1111"/>
<rect x="249.35" y="113.90" width="3.50" height="3.50" fill="#ee1111"/>
<rect x="257.25" y="108.66" width="3.50" height="3.50" fill="#ee1111"/>
<rect x="265.65" y="113.32" width="3.50" height="3.50" fill="#ee1111"/>
<rect x="277.10" y="103.04" width="2.60" height="2.60" fill="#fff" fill-opacity="0.7" stroke="#ee1111" stroke-width="0.9"/>
<rect x="283.70" y="87.87" width="2.60" height="2.60" fill="#fff" fill-opacity="0.7" stroke="#ee1111" stroke-width="0.9"/>
<rect x="290.70" y="66.40" width="2.60" height="2.60" fill="#fff" fill-opacity="0.7" stroke="#ee1111" stroke-width="0.9"/>
<rect x="300.20" y="41.27" width="2.60" height="2.60" fill="#fff" fill-opacity="0.7" stroke="#ee1111" stroke-width="0.9"/>
<rect x="312.90" y="20.75" width="2.60" height="2.60" fill="#fff" fill-opacity="0.7" stroke="#ee1111" stroke-width="0.9"/>
<rect x="326.20" y="15.88" width="2.60" height="2.60" fill="#fff" fill-opacity="0.7" stroke="#ee1111" stroke-width="0.9"/>
<path d="M278.40,108.61 L280.35,112.41 L276.45,112.41Z" fill="#ee1111"/>
<path d="M285.00,94.94 L286.95,98.74 L283.05,98.74Z" fill="#ee1111"/>
<path d="M292.00,74.01 L293.95,77.81 L290.05,77.81Z" fill="#ee1111"/>
<path d="M301.50,39.65 L303.45,43.45 L299.55,43.45Z" fill="#ee1111"/>
<path d="M314.20,24.21 L316.15,28.01 L312.25,28.01Z" fill="#ee1111"/>
<path d="M327.50,20.78 L329.45,24.58 L325.55,24.58Z" fill="#ee1111"/>
<circle cx="278.40" cy="115.29" r="1.75" fill="#ee1111"/>
<circle cx="285.00" cy="112.92" r="1.75" fill="#ee1111"/>
<circle cx="292.00" cy="101.27" r="1.75" fill="#ee1111"/>
<circle cx="301.50" cy="74.12" r="1.75" fill="#ee1111"/>
<circle cx="314.20" cy="33.72" r="1.75" fill="#ee1111"/>
<circle cx="327.50" cy="22.92" r="1.75" fill="#ee1111"/>
<rect x="249.80" y="115.03" width="2.60" height="2.60" fill="#fff" fill-opacity="0.7" stroke="#ee1111" stroke-width="0.9"/>
<rect x="257.70" y="111.65" width="2.60" height="2.60" fill="#fff" fill-opacity="0.7" stroke="#ee1111" stroke-width="0.9"/>
<rect x="266.10" y="111.52" width="2.60" height="2.60" fill="#fff" fill-opacity="0.7" stroke="#ee1111" stroke-width="0.9"/>
<path d="M278.40,102.53 L280.35,104.68 L278.40,106.83 L276.45,104.68Z" fill="#ee1111"/>
<path d="M285.00,84.39 L286.95,86.54 L285.00,88.69 L283.05,86.54Z" fill="#ee1111"/>
<path d="M292.00,61.84 L293.95,63.99 L292.00,66.14 L290.05,63.99Z" fill="#ee1111"/>
<path d="M301.50,35.92 L303.45,38.07 L301.50,40.22 L299.55,38.07Z" fill="#ee1111"/>
<path d="M314.20,20.05 L316.15,22.20 L314.20,24.35 L312.25,22.20Z" fill="#ee1111"/>
<circle cx="278.40" cy="110.21" r="1.75" fill="#ee1111"/>
<circle cx="285.00" cy="100.80" r="1.75" fill="#ee1111"/>
<circle cx="292.00" cy="80.13" r="1.75" fill="#ee1111"/>
<circle cx="301.50" cy="46.87" r="1.75" fill="#ee1111"/>
<circle cx="314.20" cy="26.11" r="1.75" fill="#ee1111"/>
<circle cx="327.50" cy="18.91" r="1.75" fill="#ee1111"/>
<rect x="276.65" y="98.70" width="3.50" height="3.50" fill="#ee1111"/>
<rect x="283.25" y="80.77" width="3.50" height="3.50" fill="#ee1111"/>
<rect x="290.25" y="57.88" width="3.50" height="3.50" fill="#ee1111"/>
<rect x="299.75" y="32.07" width="3.50" height="3.50" fill="#ee1111"/>
<rect x="312.45" y="21.08" width="3.50" height="3.50" fill="#ee1111"/>
<circle cx="251.10" cy="114.75" r="1.30" fill="#fff" fill-opacity="0.7" stroke="#ee1111" stroke-width="0.9"/>
<circle cx="259.00" cy="110.66" r="1.30" fill="#fff" fill-opacity="0.7" stroke="#ee1111" stroke-width="0.9"/>
<circle cx="267.40" cy="108.82" r="1.30" fill="#fff" fill-opacity="0.7" stroke="#ee1111" stroke-width="0.9"/>
<circle cx="278.40" cy="114.19" r="1.30" fill="#fff" fill-opacity="0.7" stroke="#ee1111" stroke-width="0.9"/>
<circle cx="285.00" cy="115.29" r="1.30" fill="#fff" fill-opacity="0.7" stroke="#ee1111" stroke-width="0.9"/>
<circle cx="292.00" cy="104.55" r="1.30" fill="#fff" fill-opacity="0.7" stroke="#ee1111" stroke-width="0.9"/>
<circle cx="301.50" cy="82.00" r="1.30" fill="#fff" fill-opacity="0.7" stroke="#ee1111" stroke-width="0.9"/>
<circle cx="314.20" cy="43.89" r="1.30" fill="#fff" fill-opacity="0.7" stroke="#ee1111" stroke-width="0.9"/>
<circle cx="327.50" cy="23.60" r="1.30" fill="#fff" fill-opacity="0.7" stroke="#ee1111" stroke-width="0.9"/>
<circle cx="278.40" cy="111.45" r="1.75" fill="#ee1111"/>
<circle cx="285.00" cy="113.76" r="1.75" fill="#ee1111"/>
<circle cx="292.00" cy="114.14" r="1.75" fill="#ee1111"/>
<circle cx="301.50" cy="102.16" r="1.75" fill="#ee1111"/>
<circle cx="314.20" cy="60.05" r="1.75" fill="#ee1111"/>
<circle cx="327.50" cy="28.04" r="1.75" fill="#ee1111"/>
<path d="M276.35,113.53 L280.15,111.58 L280.15,115.48Z" fill="#ee1111"/>
<path d="M282.95,109.91 L286.75,107.96 L286.75,111.86Z" fill="#ee1111"/>
<path d="M289.95,102.82 L293.75,100.87 L293.75,104.77Z" fill="#ee1111"/>
<path d="M299.45,67.63 L303.25,65.68 L303.25,69.58Z" fill="#ee1111"/>
<path d="M312.15,28.48 L315.95,26.53 L315.95,30.43Z" fill="#ee1111"/>
<path d="M325.45,19.94 L329.25,17.99 L329.25,21.89Z" fill="#ee1111"/>
<rect x="249.35" y="113.26" width="3.50" height="3.50" fill="#ee1111"/>
<rect x="257.25" y="115.06" width="3.50" height="3.50" fill="#ee1111"/>
<rect x="265.65" y="107.11" width="3.50" height="3.50" fill="#ee1111"/>
<rect x="276.65" y="104.10" width="3.50" height="3.50" fill="#ee1111"/>
<rect x="283.25" y="88.80" width="3.50" height="3.50" fill="#ee1111"/>
<rect x="290.25" y="71.09" width="3.50" height="3.50" fill="#ee1111"/>
<rect x="299.75" y="39.82" width="3.50" height="3.50" fill="#ee1111"/>
<rect x="312.45" y="21.24" width="3.50" height="3.50" fill="#ee1111"/>
<rect x="277.10" y="108.73" width="2.60" height="2.60" fill="#fff" fill-opacity="0.7" stroke="#ee1111" stroke-width="0.9"/>
<rect x="283.70" y="100.34" width="2.60" height="2.60" fill="#fff" fill-opacity="0.7" stroke="#ee1111" stroke-width="0.9"/>
<rect x="290.70" y="79.56" width="2.60" height="2.60" fill="#fff" fill-opacity="0.7" stroke="#ee1111" stroke-width="0.9"/>
<rect x="300.20" y="48.65" width="2.60" height="2.60" fill="#fff" fill-opacity="0.7" stroke="#ee1111" stroke-width="0.9"/>
<rect x="312.90" y="21.40" width="2.60" height="2.60" fill="#fff" fill-opacity="0.7" stroke="#ee1111" stroke-width="0.9"/>
<rect x="326.20" y="19.68" width="2.60" height="2.60" fill="#fff" fill-opacity="0.7" stroke="#ee1111" stroke-width="0.9"/>
<path d="M278.40,110.42 L280.35,114.22 L276.45,114.22Z" fill="#ee1111"/>
<path d="M285.00,97.58 L286.95,101.38 L283.05,101.38Z" fill="#ee1111"/>
<path d="M292.00,79.32 L293.95,83.12 L290.05,83.12Z" fill="#ee1111"/>
<path d="M301.50,43.89 L303.45,47.69 L299.55,47.69Z" fill="#ee1111"/>
<path d="M314.20,21.71 L316.15,25.51 L312.25,25.51Z" fill="#ee1111"/>
<path d="M327.50,20.61 L329.45,24.41 L325.55,24.41Z" fill="#ee1111"/>
<rect x="249.80" y="114.98" width="2.60" height="2.60" fill="#fff" fill-opacity="0.7" stroke="#ee1111" stroke-width="0.9"/>
<rect x="257.70" y="109.67" width="2.60" height="2.60" fill="#fff" fill-opacity="0.7" stroke="#ee1111" stroke-width="0.9"/>
<rect x="266.10" y="109.74" width="2.60" height="2.60" fill="#fff" fill-opacity="0.7" stroke="#ee1111" stroke-width="0.9"/>
<circle cx="278.40" cy="102.59" r="1.75" fill="#ee1111"/>
<circle cx="285.00" cy="89.13" r="1.75" fill="#ee1111"/>
<circle cx="292.00" cy="68.70" r="1.75" fill="#ee1111"/>
<circle cx="301.50" cy="40.13" r="1.75" fill="#ee1111"/>
<circle cx="314.20" cy="23.55" r="1.75" fill="#ee1111"/>
<circle cx="327.50" cy="18.34" r="1.75" fill="#ee1111"/>
<path d="M251.10,109.70 L252.90,113.20 L249.30,113.20Z" fill="#2a2ae0"/>
<rect x="290.40" y="58.40" width="3.20" height="3.20" fill="#2a2ae0"/>
<rect x="290.40" y="54.40" width="3.20" height="3.20" fill="#2a2ae0"/>
<circle cx="292.00" cy="64.00" r="1.60" fill="#2a2ae0"/>
<rect x="289.90" y="48.40" width="3.20" height="3.20" fill="#2a2ae0"/>
<path d="M292.00,66.10 L293.80,69.60 L290.20,69.60Z" fill="#2a2ae0"/>
<circle cx="357.50" cy="19.50" r="2.30" fill="#ee1111"/>
<circle cx="357.50" cy="19.50" r="0.90" fill="#f78080"/>
<circle cx="314.20" cy="13.00" r="1.35" fill="#fff" fill-opacity="0.7" stroke="#ee1111" stroke-width="0.9"/>
<rect x="288.4" y="18.7" width="7.8" height="99.8" fill="none" stroke="#7a7a7a" stroke-width="0.9"/>
<line x1="241.30" y1="9.50" x2="241.30" y2="119.00" stroke="#2a2a2a" stroke-width="1" />
<line x1="240.80" y1="118.50" x2="386.00" y2="118.50" stroke="#2a2a2a" stroke-width="1" />
<line x1="239.10" y1="118.40" x2="241.30" y2="118.40" stroke="#2a2a2a" stroke-width="0.9" />
<text x="237.80" y="120.90" font-size="6.6" text-anchor="end" font-weight="normal" fill="#222" stroke="#222" >0.0</text>
<line x1="239.80" y1="108.48" x2="241.30" y2="108.48" stroke="#2a2a2a" stroke-width="0.9" />
<line x1="239.10" y1="98.56" x2="241.30" y2="98.56" stroke="#2a2a2a" stroke-width="0.9" />
<text x="237.80" y="101.06" font-size="6.6" text-anchor="end" font-weight="normal" fill="#222" stroke="#222" >0.2</text>
<line x1="239.80" y1="88.64" x2="241.30" y2="88.64" stroke="#2a2a2a" stroke-width="0.9" />
<line x1="239.10" y1="78.72" x2="241.30" y2="78.72" stroke="#2a2a2a" stroke-width="0.9" />
<text x="237.80" y="81.22" font-size="6.6" text-anchor="end" font-weight="normal" fill="#222" stroke="#222" >0.4</text>
<line x1="239.80" y1="68.80" x2="241.30" y2="68.80" stroke="#2a2a2a" stroke-width="0.9" />
<line x1="239.10" y1="58.88" x2="241.30" y2="58.88" stroke="#2a2a2a" stroke-width="0.9" />
<text x="237.80" y="61.38" font-size="6.6" text-anchor="end" font-weight="normal" fill="#222" stroke="#222" >0.6</text>
<line x1="239.80" y1="48.96" x2="241.30" y2="48.96" stroke="#2a2a2a" stroke-width="0.9" />
<line x1="239.10" y1="39.04" x2="241.30" y2="39.04" stroke="#2a2a2a" stroke-width="0.9" />
<text x="237.80" y="41.54" font-size="6.6" text-anchor="end" font-weight="normal" fill="#222" stroke="#222" >0.8</text>
<line x1="239.80" y1="29.12" x2="241.30" y2="29.12" stroke="#2a2a2a" stroke-width="0.9" />
<line x1="239.10" y1="19.20" x2="241.30" y2="19.20" stroke="#2a2a2a" stroke-width="0.9" />
<text x="237.80" y="21.70" font-size="6.6" text-anchor="end" font-weight="normal" fill="#222" stroke="#222" >1.0</text>
<line x1="241.35" y1="118.50" x2="241.35" y2="120.00" stroke="#2a2a2a" stroke-width="0.9" />
<line x1="259.40" y1="118.50" x2="259.40" y2="120.70" stroke="#2a2a2a" stroke-width="0.9" />
<text x="259.40" y="129.50" font-size="6.8" text-anchor="middle" font-weight="normal" fill="#222" stroke="#222" >6.0</text>
<line x1="277.45" y1="118.50" x2="277.45" y2="120.00" stroke="#2a2a2a" stroke-width="0.9" />
<line x1="295.50" y1="118.50" x2="295.50" y2="120.70" stroke="#2a2a2a" stroke-width="0.9" />
<text x="295.50" y="129.50" font-size="6.8" text-anchor="middle" font-weight="normal" fill="#222" stroke="#222" >5.5</text>
<line x1="313.55" y1="118.50" x2="313.55" y2="120.00" stroke="#2a2a2a" stroke-width="0.9" />
<line x1="331.60" y1="118.50" x2="331.60" y2="120.70" stroke="#2a2a2a" stroke-width="0.9" />
<text x="331.60" y="129.50" font-size="6.8" text-anchor="middle" font-weight="normal" fill="#222" stroke="#222" >5.0</text>
<line x1="349.65" y1="118.50" x2="349.65" y2="120.00" stroke="#2a2a2a" stroke-width="0.9" />
<line x1="367.70" y1="118.50" x2="367.70" y2="120.70" stroke="#2a2a2a" stroke-width="0.9" />
<text x="367.70" y="129.50" font-size="6.8" text-anchor="middle" font-weight="normal" fill="#222" stroke="#222" >4.5</text>
<line x1="385.75" y1="118.50" x2="385.75" y2="120.00" stroke="#2a2a2a" stroke-width="0.9" />
<text x="306.40" y="140.30" font-size="8.6" text-anchor="start" font-weight="normal" fill="#111" stroke="#111" >pCa</text>
<text x="219.30" y="64.10" font-size="8.4" text-anchor="middle" font-weight="normal" fill="#111" stroke="#111" transform="rotate(-90 219.3 64.1)">Force (normalized)</text>
<text x="213.00" y="7.80" font-size="6.8" text-anchor="start" font-weight="bold" fill="#111" stroke="#111" >B</text>
<text x="268.40" y="8.20" font-size="8.35" text-anchor="start" font-weight="normal" fill="#111" stroke="#111" >A200V vs. Control</text>
<line x1="335.80" y1="89.00" x2="348.90" y2="89.00" stroke="#34349c" stroke-width="1.25" stroke-dasharray="2.7,1.9"/>
<line x1="335.80" y1="100.90" x2="348.90" y2="100.90" stroke="#f0586a" stroke-width="1.3" />
<text x="351.90" y="91.80" font-size="8.4" text-anchor="start" font-weight="normal" fill="#111" stroke="#111" >Donor</text>
<text x="351.90" y="103.90" font-size="8.4" text-anchor="start" font-weight="normal" fill="#111" stroke="#111" >MyHC</text>
<text x="375.40" y="108.90" font-size="6.4" text-anchor="start" font-weight="normal" fill="#111" stroke="#111" >A200V</text>
<text x="2.60" y="156.20" font-size="6.8" text-anchor="start" font-weight="bold" fill="#111" stroke="#111" >C</text>
<line x1="107.30" y1="176.60" x2="107.30" y2="237.60" stroke="#3a3a3a" stroke-width="1.0" stroke-dasharray="2.1,1.1"/>
<line x1="120.80" y1="176.60" x2="120.80" y2="237.60" stroke="#9a9a9a" stroke-width="1.0" stroke-dasharray="1.6,1.0"/>
<line x1="134.60" y1="176.60" x2="134.60" y2="237.60" stroke="#3a3a3a" stroke-width="1.0" stroke-dasharray="2.1,1.1"/>
<circle cx="126.20" cy="180.69" r="1.72" fill="#111"/>
<circle cx="129.80" cy="183.40" r="1.72" fill="#111"/>
<circle cx="121.80" cy="186.11" r="1.72" fill="#111"/>
<circle cx="123.60" cy="188.82" r="1.72" fill="#111"/>
<circle cx="131.50" cy="191.53" r="1.72" fill="#111"/>
<circle cx="119.50" cy="194.24" r="1.72" fill="#111"/>
<circle cx="119.50" cy="196.95" r="1.72" fill="#111"/>
<circle cx="105.00" cy="199.66" r="1.72" fill="#111"/>
<circle cx="114.70" cy="202.37" r="1.72" fill="#111"/>
<circle cx="114.70" cy="205.08" r="1.72" fill="#111"/>
<circle cx="119.00" cy="207.79" r="1.72" fill="#111"/>
<circle cx="115.40" cy="210.50" r="1.72" fill="#111"/>
<circle cx="120.40" cy="213.21" r="1.72" fill="#111"/>
<circle cx="121.40" cy="215.92" r="1.72" fill="#111"/>
<circle cx="122.60" cy="218.63" r="1.72" fill="#111"/>
<circle cx="131.20" cy="221.34" r="1.72" fill="#111"/>
<circle cx="117.80" cy="224.05" r="1.72" fill="#111"/>
<circle cx="116.60" cy="226.76" r="1.72" fill="#111"/>
<circle cx="132.20" cy="229.47" r="1.72" fill="#111"/>
<circle cx="126.60" cy="232.18" r="1.72" fill="#111"/>
<circle cx="112.60" cy="234.89" r="1.72" fill="#111"/>
<line x1="27.90" y1="176.30" x2="27.90" y2="238.10" stroke="#2a2a2a" stroke-width="0.9" />
<line x1="27.50" y1="237.60" x2="175.00" y2="237.60" stroke="#2a2a2a" stroke-width="0.9" />
<line x1="25.90" y1="237.60" x2="27.90" y2="237.60" stroke="#2a2a2a" stroke-width="0.8" />
<text x="24.80" y="239.80" font-size="6.3" text-anchor="end" font-weight="normal" fill="#222" stroke="#222" >0</text>
<line x1="25.90" y1="224.05" x2="27.90" y2="224.05" stroke="#2a2a2a" stroke-width="0.8" />
<text x="24.80" y="226.25" font-size="6.3" text-anchor="end" font-weight="normal" fill="#222" stroke="#222" >5</text>
<line x1="25.90" y1="210.50" x2="27.90" y2="210.50" stroke="#2a2a2a" stroke-width="0.8" />
<text x="24.80" y="212.70" font-size="6.3" text-anchor="end" font-weight="normal" fill="#222" stroke="#222" >10</text>
<line x1="25.90" y1="196.95" x2="27.90" y2="196.95" stroke="#2a2a2a" stroke-width="0.8" />
<text x="24.80" y="199.15" font-size="6.3" text-anchor="end" font-weight="normal" fill="#222" stroke="#222" >15</text>
<line x1="25.90" y1="183.40" x2="27.90" y2="183.40" stroke="#2a2a2a" stroke-width="0.8" />
<text x="24.80" y="185.60" font-size="6.3" text-anchor="end" font-weight="normal" fill="#222" stroke="#222" >20</text>
<line x1="26.60" y1="230.82" x2="27.90" y2="230.82" stroke="#2a2a2a" stroke-width="0.7" />
<line x1="26.60" y1="217.28" x2="27.90" y2="217.28" stroke="#2a2a2a" stroke-width="0.7" />
<line x1="26.60" y1="203.72" x2="27.90" y2="203.72" stroke="#2a2a2a" stroke-width="0.7" />
<line x1="26.60" y1="190.18" x2="27.90" y2="190.18" stroke="#2a2a2a" stroke-width="0.7" />
<line x1="27.90" y1="237.60" x2="27.90" y2="239.60" stroke="#2a2a2a" stroke-width="0.8" />
<text x="27.90" y="247.30" font-size="6.3" text-anchor="middle" font-weight="normal" fill="#222" stroke="#222" >6.0</text>
<line x1="42.55" y1="237.60" x2="42.55" y2="238.90" stroke="#2a2a2a" stroke-width="0.8" />
<line x1="57.20" y1="237.60" x2="57.20" y2="239.60" stroke="#2a2a2a" stroke-width="0.8" />
<text x="57.20" y="247.30" font-size="6.3" text-anchor="middle" font-weight="normal" fill="#222" stroke="#222" >5.8</text>
<line x1="71.85" y1="237.60" x2="71.85" y2="238.90" stroke="#2a2a2a" stroke-width="0.8" />
<line x1="86.50" y1="237.60" x2="86.50" y2="239.60" stroke="#2a2a2a" stroke-width="0.8" />
<text x="86.50" y="247.30" font-size="6.3" text-anchor="middle" font-weight="normal" fill="#222" stroke="#222" >5.6</text>
<line x1="101.15" y1="237.60" x2="101.15" y2="238.90" stroke="#2a2a2a" stroke-width="0.8" />
<line x1="115.80" y1="237.60" x2="115.80" y2="239.60" stroke="#2a2a2a" stroke-width="0.8" />
<text x="115.80" y="247.30" font-size="6.3" text-anchor="middle" font-weight="normal" fill="#222" stroke="#222" >5.4</text>
<line x1="130.45" y1="237.60" x2="130.45" y2="238.90" stroke="#2a2a2a" stroke-width="0.8" />
<line x1="145.10" y1="237.60" x2="145.10" y2="239.60" stroke="#2a2a2a" stroke-width="0.8" />
<text x="145.10" y="247.30" font-size="6.3" text-anchor="middle" font-weight="normal" fill="#222" stroke="#222" >5.2</text>
<line x1="159.75" y1="237.60" x2="159.75" y2="238.90" stroke="#2a2a2a" stroke-width="0.8" />
<line x1="174.40" y1="237.60" x2="174.40" y2="239.60" stroke="#2a2a2a" stroke-width="0.8" />
<text x="174.40" y="247.30" font-size="6.3" text-anchor="middle" font-weight="normal" fill="#222" stroke="#222" >5.0</text>
<text x="44.80" y="191.80" font-size="8.2" text-anchor="start" font-weight="normal" fill="#111" stroke="#111" >R723G</text>
<text x="7.90" y="208.80" font-size="8.3" text-anchor="middle" font-weight="normal" fill="#111" stroke="#111" transform="rotate(-90 7.9 208.8)">Individual cells</text>
<text x="93.8" y="259.8" font-size="8.6" fill="#111" stroke="#111">pCa<tspan font-size="6.6" dy="3.0">50</tspan></text>
<line x1="86.40" y1="282.80" x2="86.40" y2="307.90" stroke="#333" stroke-width="1.0" stroke-dasharray="2.1,1.1"/>
<line x1="96.50" y1="282.80" x2="96.50" y2="307.90" stroke="#222" stroke-width="0.9" stroke-dasharray="2.2,0.8,0.7,0.8"/>
<line x1="106.90" y1="282.80" x2="106.90" y2="307.90" stroke="#7a7a7a" stroke-width="1.0" stroke-dasharray="2.1,1.1"/>
<circle cx="89.20" cy="286.50" r="1.5" fill="#d4d4d4" stroke="#808080" stroke-width="0.75"/>
<circle cx="91.40" cy="289.10" r="1.5" fill="#d4d4d4" stroke="#808080" stroke-width="0.75"/>
<circle cx="99.80" cy="291.90" r="1.5" fill="#d4d4d4" stroke="#808080" stroke-width="0.75"/>
<circle cx="95.50" cy="294.30" r="1.5" fill="#d4d4d4" stroke="#808080" stroke-width="0.75"/>
<circle cx="94.00" cy="297.20" r="1.5" fill="#d4d4d4" stroke="#808080" stroke-width="0.75"/>
<circle cx="105.10" cy="299.30" r="1.5" fill="#d4d4d4" stroke="#808080" stroke-width="0.75"/>
<circle cx="103.30" cy="300.90" r="1.5" fill="#d4d4d4" stroke="#808080" stroke-width="0.75"/>
<circle cx="101.70" cy="302.80" r="1.5" fill="#d4d4d4" stroke="#808080" stroke-width="0.75"/>
<circle cx="97.60" cy="304.90" r="1.5" fill="#d4d4d4" stroke="#808080" stroke-width="0.75"/>
<line x1="27.70" y1="280.60" x2="27.70" y2="308.40" stroke="#2a2a2a" stroke-width="0.9" />
<line x1="27.30" y1="307.90" x2="175.00" y2="307.90" stroke="#2a2a2a" stroke-width="0.9" />
<line x1="25.70" y1="307.90" x2="27.70" y2="307.90" stroke="#2a2a2a" stroke-width="0.8" />
<text x="17.00" y="310.10" font-size="6.3" text-anchor="start" font-weight="normal" fill="#222" stroke="#222" >0</text>
<line x1="25.70" y1="294.35" x2="27.70" y2="294.35" stroke="#2a2a2a" stroke-width="0.8" />
<text x="17.00" y="296.55" font-size="6.3" text-anchor="start" font-weight="normal" fill="#222" stroke="#222" >5</text>
<line x1="25.70" y1="280.80" x2="27.70" y2="280.80" stroke="#2a2a2a" stroke-width="0.8" />
<text x="17.00" y="283.00" font-size="6.3" text-anchor="start" font-weight="normal" fill="#222" stroke="#222" >10</text>
<line x1="26.40" y1="301.12" x2="27.70" y2="301.12" stroke="#2a2a2a" stroke-width="0.7" />
<line x1="26.40" y1="287.57" x2="27.70" y2="287.57" stroke="#2a2a2a" stroke-width="0.7" />
<line x1="27.90" y1="307.90" x2="27.90" y2="309.90" stroke="#2a2a2a" stroke-width="0.8" />
<text x="27.90" y="316.80" font-size="6.3" text-anchor="middle" font-weight="normal" fill="#222" stroke="#222" >6.0</text>
<line x1="42.55" y1="307.90" x2="42.55" y2="309.20" stroke="#2a2a2a" stroke-width="0.8" />
<line x1="57.20" y1="307.90" x2="57.20" y2="309.90" stroke="#2a2a2a" stroke-width="0.8" />
<text x="57.20" y="316.80" font-size="6.3" text-anchor="middle" font-weight="normal" fill="#222" stroke="#222" >5.8</text>
<line x1="71.85" y1="307.90" x2="71.85" y2="309.20" stroke="#2a2a2a" stroke-width="0.8" />
<line x1="86.50" y1="307.90" x2="86.50" y2="309.90" stroke="#2a2a2a" stroke-width="0.8" />
<text x="86.50" y="316.80" font-size="6.3" text-anchor="middle" font-weight="normal" fill="#222" stroke="#222" >5.6</text>
<line x1="101.15" y1="307.90" x2="101.15" y2="309.20" stroke="#2a2a2a" stroke-width="0.8" />
<line x1="115.80" y1="307.90" x2="115.80" y2="309.90" stroke="#2a2a2a" stroke-width="0.8" />
<text x="115.80" y="316.80" font-size="6.3" text-anchor="middle" font-weight="normal" fill="#222" stroke="#222" >5.4</text>
<line x1="130.45" y1="307.90" x2="130.45" y2="309.20" stroke="#2a2a2a" stroke-width="0.8" />
<line x1="145.10" y1="307.90" x2="145.10" y2="309.90" stroke="#2a2a2a" stroke-width="0.8" />
<text x="145.10" y="316.80" font-size="6.3" text-anchor="middle" font-weight="normal" fill="#222" stroke="#222" >5.2</text>
<line x1="159.75" y1="307.90" x2="159.75" y2="309.20" stroke="#2a2a2a" stroke-width="0.8" />
<line x1="174.40" y1="307.90" x2="174.40" y2="309.90" stroke="#2a2a2a" stroke-width="0.8" />
<text x="174.40" y="316.80" font-size="6.3" text-anchor="middle" font-weight="normal" fill="#222" stroke="#222" >5.0</text>
<text x="41.50" y="292.80" font-size="8.2" text-anchor="start" font-weight="normal" fill="#111" stroke="#111" >Controls</text>
<text x="7.90" y="283.30" font-size="8.3" text-anchor="middle" font-weight="normal" fill="#111" stroke="#111" transform="rotate(-90 7.9 283.3)">Individual cells</text>
<text x="93.6" y="328.7" font-size="8.6" fill="#111" stroke="#111">pCa<tspan font-size="6.6" dy="3.0">50</tspan></text>
<text x="212.80" y="156.20" font-size="6.8" text-anchor="start" font-weight="bold" fill="#111" stroke="#111" >D</text>
<line x1="289.00" y1="164.30" x2="289.00" y2="218.60" stroke="#8a8a8a" stroke-width="1.0" stroke-dasharray="2.1,1.1"/>
<line x1="314.20" y1="164.30" x2="314.20" y2="218.60" stroke="#333" stroke-width="0.9" stroke-dasharray="2.2,0.8,0.7,0.8"/>
<line x1="338.70" y1="164.30" x2="338.70" y2="218.60" stroke="#8a8a8a" stroke-width="1.0" stroke-dasharray="2.1,1.1"/>
<circle cx="317.00" cy="167.60" r="1.72" fill="#111"/>
<circle cx="317.00" cy="170.30" r="1.72" fill="#111"/>
<circle cx="313.90" cy="173.10" r="1.72" fill="#111"/>
<circle cx="298.10" cy="175.80" r="1.72" fill="#111"/>
<circle cx="291.00" cy="178.40" r="1.72" fill="#111"/>
<circle cx="306.50" cy="180.80" r="1.72" fill="#111"/>
<circle cx="306.50" cy="183.60" r="1.72" fill="#111"/>
<circle cx="311.00" cy="186.50" r="1.72" fill="#111"/>
<circle cx="329.70" cy="188.80" r="1.72" fill="#111"/>
<circle cx="306.50" cy="191.70" r="1.72" fill="#111"/>
<circle cx="312.50" cy="194.10" r="1.72" fill="#111"/>
<circle cx="302.50" cy="197.30" r="1.72" fill="#111"/>
<circle cx="332.70" cy="199.60" r="1.72" fill="#111"/>
<circle cx="343.90" cy="202.30" r="1.72" fill="#111"/>
<circle cx="329.70" cy="205.00" r="1.72" fill="#111"/>
<circle cx="309.90" cy="207.70" r="1.72" fill="#111"/>
<circle cx="314.20" cy="210.80" r="1.72" fill="#111"/>
<circle cx="314.20" cy="213.30" r="1.72" fill="#111"/>
<circle cx="307.00" cy="215.90" r="1.72" fill="#111"/>
<line x1="240.60" y1="165.30" x2="240.60" y2="219.10" stroke="#2a2a2a" stroke-width="0.9" />
<line x1="240.20" y1="218.60" x2="384.50" y2="218.60" stroke="#2a2a2a" stroke-width="0.9" />
<line x1="238.60" y1="217.90" x2="240.60" y2="217.90" stroke="#2a2a2a" stroke-width="0.8" />
<text x="236.60" y="220.10" font-size="6.3" text-anchor="end" font-weight="normal" fill="#222" stroke="#222" >0</text>
<line x1="238.60" y1="204.78" x2="240.60" y2="204.78" stroke="#2a2a2a" stroke-width="0.8" />
<text x="236.60" y="206.97" font-size="6.3" text-anchor="end" font-weight="normal" fill="#222" stroke="#222" >5</text>
<line x1="238.60" y1="191.65" x2="240.60" y2="191.65" stroke="#2a2a2a" stroke-width="0.8" />
<text x="236.60" y="193.85" font-size="6.3" text-anchor="end" font-weight="normal" fill="#222" stroke="#222" >10</text>
<line x1="238.60" y1="178.53" x2="240.60" y2="178.53" stroke="#2a2a2a" stroke-width="0.8" />
<text x="236.60" y="180.72" font-size="6.3" text-anchor="end" font-weight="normal" fill="#222" stroke="#222" >15</text>
<line x1="238.60" y1="165.40" x2="240.60" y2="165.40" stroke="#2a2a2a" stroke-width="0.8" />
<text x="236.60" y="167.60" font-size="6.3" text-anchor="end" font-weight="normal" fill="#222" stroke="#222" >20</text>
<line x1="239.30" y1="211.34" x2="240.60" y2="211.34" stroke="#2a2a2a" stroke-width="0.7" />
<line x1="239.30" y1="198.21" x2="240.60" y2="198.21" stroke="#2a2a2a" stroke-width="0.7" />
<line x1="239.30" y1="185.09" x2="240.60" y2="185.09" stroke="#2a2a2a" stroke-width="0.7" />
<line x1="239.30" y1="171.96" x2="240.60" y2="171.96" stroke="#2a2a2a" stroke-width="0.7" />
<line x1="240.60" y1="218.60" x2="240.60" y2="220.60" stroke="#2a2a2a" stroke-width="0.8" />
<text x="240.60" y="228.10" font-size="6.3" text-anchor="middle" font-weight="normal" fill="#222" stroke="#222" >6.0</text>
<line x1="254.98" y1="218.60" x2="254.98" y2="219.90" stroke="#2a2a2a" stroke-width="0.8" />
<line x1="269.36" y1="218.60" x2="269.36" y2="220.60" stroke="#2a2a2a" stroke-width="0.8" />
<text x="269.36" y="228.10" font-size="6.3" text-anchor="middle" font-weight="normal" fill="#222" stroke="#222" >5.8</text>
<line x1="283.74" y1="218.60" x2="283.74" y2="219.90" stroke="#2a2a2a" stroke-width="0.8" />
<line x1="298.12" y1="218.60" x2="298.12" y2="220.60" stroke="#2a2a2a" stroke-width="0.8" />
<text x="298.12" y="228.10" font-size="6.3" text-anchor="middle" font-weight="normal" fill="#222" stroke="#222" >5.6</text>
<line x1="312.50" y1="218.60" x2="312.50" y2="219.90" stroke="#2a2a2a" stroke-width="0.8" />
<line x1="326.88" y1="218.60" x2="326.88" y2="220.60" stroke="#2a2a2a" stroke-width="0.8" />
<text x="326.88" y="228.10" font-size="6.3" text-anchor="middle" font-weight="normal" fill="#222" stroke="#222" >5.4</text>
<line x1="341.26" y1="218.60" x2="341.26" y2="219.90" stroke="#2a2a2a" stroke-width="0.8" />
<line x1="355.64" y1="218.60" x2="355.64" y2="220.60" stroke="#2a2a2a" stroke-width="0.8" />
<text x="355.64" y="228.10" font-size="6.3" text-anchor="middle" font-weight="normal" fill="#222" stroke="#222" >5.2</text>
<line x1="370.02" y1="218.60" x2="370.02" y2="219.90" stroke="#2a2a2a" stroke-width="0.8" />
<line x1="384.40" y1="218.60" x2="384.40" y2="220.60" stroke="#2a2a2a" stroke-width="0.8" />
<text x="384.40" y="228.10" font-size="6.3" text-anchor="middle" font-weight="normal" fill="#222" stroke="#222" >5.0</text>
<text x="253.80" y="200.00" font-size="8.2" text-anchor="start" font-weight="normal" fill="#111" stroke="#111" >A200V</text>
<text x="221.20" y="191.50" font-size="8.3" text-anchor="middle" font-weight="normal" fill="#111" stroke="#111" transform="rotate(-90 221.2 191.5)">Individual cells</text>
<text x="301.5" y="238.8" font-size="8.6" fill="#111" stroke="#111">pCa<tspan font-size="6.6" dy="3.0">50</tspan></text>
<line x1="292.60" y1="248.40" x2="292.60" y2="308.50" stroke="#444" stroke-width="1.0" stroke-dasharray="2.1,1.1"/>
<line x1="306.40" y1="248.40" x2="306.40" y2="308.50" stroke="#222" stroke-width="0.9" stroke-dasharray="2.2,0.8,0.7,0.8"/>
<line x1="320.30" y1="248.40" x2="320.30" y2="308.50" stroke="#444" stroke-width="1.0" stroke-dasharray="2.1,1.1"/>
<circle cx="307.80" cy="248.80" r="1.5" fill="#d4d4d4" stroke="#808080" stroke-width="0.75"/>
<circle cx="303.30" cy="251.70" r="1.5" fill="#d4d4d4" stroke="#808080" stroke-width="0.75"/>
<circle cx="314.90" cy="254.90" r="1.5" fill="#d4d4d4" stroke="#808080" stroke-width="0.75"/>
<circle cx="309.30" cy="257.90" r="1.5" fill="#d4d4d4" stroke="#808080" stroke-width="0.75"/>
<circle cx="297.90" cy="260.80" r="1.5" fill="#d4d4d4" stroke="#808080" stroke-width="0.75"/>
<circle cx="312.30" cy="264.30" r="1.5" fill="#d4d4d4" stroke="#808080" stroke-width="0.75"/>
<circle cx="313.90" cy="267.30" r="1.5" fill="#d4d4d4" stroke="#808080" stroke-width="0.75"/>
<circle cx="316.50" cy="270.40" r="1.5" fill="#d4d4d4" stroke="#808080" stroke-width="0.75"/>
<circle cx="310.80" cy="273.40" r="1.5" fill="#d4d4d4" stroke="#808080" stroke-width="0.75"/>
<circle cx="292.50" cy="275.90" r="1.5" fill="#d4d4d4" stroke="#808080" stroke-width="0.75"/>
<circle cx="312.30" cy="279.60" r="1.5" fill="#d4d4d4" stroke="#808080" stroke-width="0.75"/>
<circle cx="304.90" cy="282.10" r="1.5" fill="#d4d4d4" stroke="#808080" stroke-width="0.75"/>
<circle cx="308.00" cy="285.60" r="1.5" fill="#d4d4d4" stroke="#808080" stroke-width="0.75"/>
<circle cx="302.20" cy="288.60" r="1.5" fill="#d4d4d4" stroke="#808080" stroke-width="0.75"/>
<circle cx="308.00" cy="291.50" r="1.5" fill="#d4d4d4" stroke="#808080" stroke-width="0.75"/>
<circle cx="298.10" cy="294.80" r="1.5" fill="#d4d4d4" stroke="#808080" stroke-width="0.75"/>
<circle cx="298.10" cy="297.70" r="1.5" fill="#d4d4d4" stroke="#808080" stroke-width="0.75"/>
<line x1="240.30" y1="246.80" x2="240.30" y2="309.00" stroke="#2a2a2a" stroke-width="0.9" />
<line x1="239.90" y1="308.50" x2="384.50" y2="308.50" stroke="#2a2a2a" stroke-width="0.9" />
<line x1="238.30" y1="300.60" x2="240.30" y2="300.60" stroke="#2a2a2a" stroke-width="0.8" />
<text x="237.40" y="302.80" font-size="6.3" text-anchor="end" font-weight="normal" fill="#222" stroke="#222" >0</text>
<line x1="238.30" y1="285.60" x2="240.30" y2="285.60" stroke="#2a2a2a" stroke-width="0.8" />
<text x="237.40" y="287.80" font-size="6.3" text-anchor="end" font-weight="normal" fill="#222" stroke="#222" >5</text>
<line x1="238.30" y1="270.60" x2="240.30" y2="270.60" stroke="#2a2a2a" stroke-width="0.8" />
<text x="237.40" y="272.80" font-size="6.3" text-anchor="end" font-weight="normal" fill="#222" stroke="#222" >10</text>
<line x1="238.30" y1="255.60" x2="240.30" y2="255.60" stroke="#2a2a2a" stroke-width="0.8" />
<text x="237.40" y="257.80" font-size="6.3" text-anchor="end" font-weight="normal" fill="#222" stroke="#222" >15</text>
<line x1="239.00" y1="293.10" x2="240.30" y2="293.10" stroke="#2a2a2a" stroke-width="0.7" />
<line x1="239.00" y1="278.10" x2="240.30" y2="278.10" stroke="#2a2a2a" stroke-width="0.7" />
<line x1="239.00" y1="263.10" x2="240.30" y2="263.10" stroke="#2a2a2a" stroke-width="0.7" />
<line x1="240.60" y1="308.50" x2="240.60" y2="310.50" stroke="#2a2a2a" stroke-width="0.8" />
<text x="240.60" y="318.00" font-size="6.3" text-anchor="middle" font-weight="normal" fill="#222" stroke="#222" >6.0</text>
<line x1="254.98" y1="308.50" x2="254.98" y2="309.80" stroke="#2a2a2a" stroke-width="0.8" />
<line x1="269.36" y1="308.50" x2="269.36" y2="310.50" stroke="#2a2a2a" stroke-width="0.8" />
<text x="269.36" y="318.00" font-size="6.3" text-anchor="middle" font-weight="normal" fill="#222" stroke="#222" >5.8</text>
<line x1="283.74" y1="308.50" x2="283.74" y2="309.80" stroke="#2a2a2a" stroke-width="0.8" />
<line x1="298.12" y1="308.50" x2="298.12" y2="310.50" stroke="#2a2a2a" stroke-width="0.8" />
<text x="298.12" y="318.00" font-size="6.3" text-anchor="middle" font-weight="normal" fill="#222" stroke="#222" >5.6</text>
<line x1="312.50" y1="308.50" x2="312.50" y2="309.80" stroke="#2a2a2a" stroke-width="0.8" />
<line x1="326.88" y1="308.50" x2="326.88" y2="310.50" stroke="#2a2a2a" stroke-width="0.8" />
<text x="326.88" y="318.00" font-size="6.3" text-anchor="middle" font-weight="normal" fill="#222" stroke="#222" >5.4</text>
<line x1="341.26" y1="308.50" x2="341.26" y2="309.80" stroke="#2a2a2a" stroke-width="0.8" />
<line x1="355.64" y1="308.50" x2="355.64" y2="310.50" stroke="#2a2a2a" stroke-width="0.8" />
<text x="355.64" y="318.00" font-size="6.3" text-anchor="middle" font-weight="normal" fill="#222" stroke="#222" >5.2</text>
<line x1="370.02" y1="308.50" x2="370.02" y2="309.80" stroke="#2a2a2a" stroke-width="0.8" />
<line x1="384.40" y1="308.50" x2="384.40" y2="310.50" stroke="#2a2a2a" stroke-width="0.8" />
<text x="384.40" y="318.00" font-size="6.3" text-anchor="middle" font-weight="normal" fill="#222" stroke="#222" >5.0</text>
<text x="250.80" y="291.20" font-size="8.2" text-anchor="start" font-weight="normal" fill="#111" stroke="#111" >Control</text>
<text x="221.20" y="279.00" font-size="8.3" text-anchor="middle" font-weight="normal" fill="#111" stroke="#111" transform="rotate(-90 221.2 279.0)">Individual cells</text>
<text x="300.5" y="328.9" font-size="8.6" fill="#111" stroke="#111">pCa<tspan font-size="6.6" dy="3.0">50</tspan></text>
</svg>
</body></html>
